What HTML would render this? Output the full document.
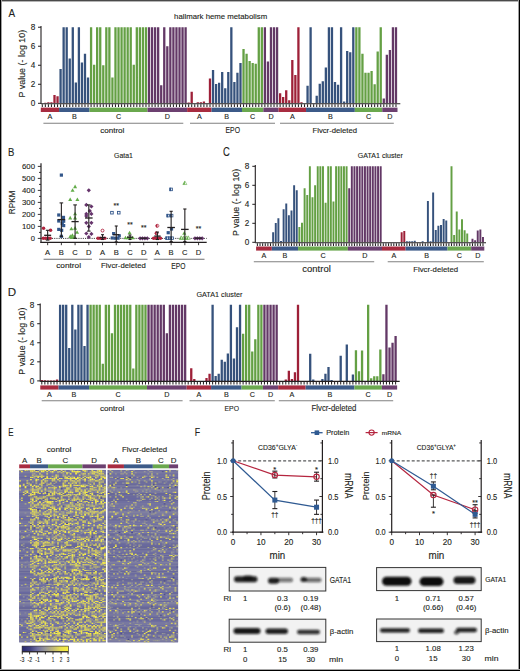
<!DOCTYPE html>
<html><head><meta charset="utf-8"><style>html,body{margin:0;padding:0;background:#fff;}svg{display:block;}</style></head><body><svg width="520" height="671" viewBox="0 0 520 671" font-family='"Liberation Sans", sans-serif'>
<style>text{stroke:#231f20;stroke-width:0.12px;paint-order:stroke}</style>
<rect x="0" y="0" width="520" height="671" fill="#ffffff"/>
<path fill="#9e2038" d="M44.2 103.3h2.3v-0.48h-2.3zM47.25 103.3h2.3v-0.95h-2.3zM50.3 103.3h2.3v-0.95h-2.3zM53.35 103.3h2.3v-8.27h-2.3zM56.39 103.3h2.3v-7.13h-2.3z"/>
<path fill="#36527c" d="M59.44 103.3h2.3v-34.24h-2.3zM62.49 103.3h2.3v-76.08h-2.3zM65.54 103.3h2.3v-76.08h-2.3zM68.59 103.3h2.3v-44.7h-2.3zM71.64 103.3h2.3v-76.08h-2.3zM74.69 103.3h2.3v-20.92h-2.3zM77.74 103.3h2.3v-76.08h-2.3zM80.79 103.3h2.3v-40.89h-2.3zM83.84 103.3h2.3v-49.45h-2.3zM86.88 103.3h2.3v-25.68h-2.3z"/>
<path fill="#64a044" d="M89.93 103.3h2.3v-76.08h-2.3zM92.98 103.3h2.3v-38.52h-2.3zM96.03 103.3h2.3v-76.08h-2.3zM99.08 103.3h2.3v-76.08h-2.3zM102.13 103.3h2.3v-38.04h-2.3zM105.18 103.3h2.3v-76.08h-2.3zM108.23 103.3h2.3v-76.08h-2.3zM111.28 103.3h2.3v-25.68h-2.3zM114.33 103.3h2.3v-76.08h-2.3zM117.37 103.3h2.3v-76.08h-2.3zM120.42 103.3h2.3v-76.08h-2.3zM123.47 103.3h2.3v-76.08h-2.3zM126.52 103.3h2.3v-76.08h-2.3zM129.57 103.3h2.3v-76.08h-2.3zM132.62 103.3h2.3v-38.52h-2.3zM135.67 103.3h2.3v-76.08h-2.3zM138.72 103.3h2.3v-76.08h-2.3zM141.77 103.3h2.3v-76.08h-2.3zM144.82 103.3h2.3v-76.08h-2.3z"/>
<path fill="#633866" d="M147.86 103.3h2.3v-76.08h-2.3zM150.91 103.3h2.3v-76.08h-2.3zM153.96 103.3h2.3v-76.08h-2.3zM157.01 103.3h2.3v-76.08h-2.3zM160.06 103.3h2.3v-18.07h-2.3zM163.11 103.3h2.3v-76.08h-2.3zM166.16 103.3h2.3v-57.06h-2.3zM169.21 103.3h2.3v-76.08h-2.3zM172.26 103.3h2.3v-76.08h-2.3zM175.31 103.3h2.3v-76.08h-2.3zM178.35 103.3h2.3v-76.08h-2.3zM181.4 103.3h2.3v-76.08h-2.3zM184.45 103.3h2.3v-76.08h-2.3z"/>
<path fill="#9e2038" d="M187.5 103.3h2.3v-0.76h-2.3zM190.55 103.3h2.3v-11.6h-2.3zM196.65 103.3h2.3v-0.95h-2.3zM199.7 103.3h2.3v-0.95h-2.3zM202.75 103.3h2.3v-1.71h-2.3zM208.84 103.3h2.3v-24.92h-2.3z"/>
<path fill="#36527c" d="M211.89 103.3h2.3v-33.19h-2.3zM214.94 103.3h2.3v-19.21h-2.3zM217.99 103.3h2.3v-20.45h-2.3zM221.04 103.3h2.3v-31.19h-2.3zM224.09 103.3h2.3v-14.93h-2.3zM227.14 103.3h2.3v-31.19h-2.3zM230.19 103.3h2.3v-76.08h-2.3zM233.24 103.3h2.3v-21.21h-2.3zM236.29 103.3h2.3v-30.43h-2.3zM239.34 103.3h2.3v-40.42h-2.3z"/>
<path fill="#64a044" d="M242.38 103.3h2.3v-54.21h-2.3zM245.43 103.3h2.3v-49.45h-2.3zM248.48 103.3h2.3v-42.41h-2.3zM251.53 103.3h2.3v-40.42h-2.3zM254.58 103.3h2.3v-39.47h-2.3zM257.63 103.3h2.3v-76.08h-2.3zM260.68 103.3h2.3v-76.08h-2.3z"/>
<path fill="#633866" d="M263.73 103.3h2.3v-76.08h-2.3zM266.78 103.3h2.3v-41.84h-2.3zM269.82 103.3h2.3v-76.08h-2.3zM272.87 103.3h2.3v-76.08h-2.3zM275.92 103.3h2.3v-76.08h-2.3z"/>
<path fill="#9e2038" d="M278.97 103.3h2.3v-9.99h-2.3zM282.02 103.3h2.3v-6.18h-2.3zM285.07 103.3h2.3v-13.03h-2.3zM288.12 103.3h2.3v-3.14h-2.3zM291.17 103.3h2.3v-43.27h-2.3zM294.22 103.3h2.3v-28.34h-2.3zM297.27 103.3h2.3v-76.08h-2.3zM300.32 103.3h2.3v-1.14h-2.3z"/>
<path fill="#36527c" d="M306.41 103.3h2.3v-17.5h-2.3zM309.46 103.3h2.3v-76.08h-2.3zM315.56 103.3h2.3v-7.61h-2.3zM318.61 103.3h2.3v-19.5h-2.3zM321.66 103.3h2.3v-22.06h-2.3zM324.71 103.3h2.3v-35.76h-2.3zM327.76 103.3h2.3v-76.08h-2.3zM330.81 103.3h2.3v-76.08h-2.3zM333.85 103.3h2.3v-21.21h-2.3zM336.9 103.3h2.3v-18.64h-2.3zM339.95 103.3h2.3v-76.08h-2.3zM343 103.3h2.3v-1.9h-2.3zM346.05 103.3h2.3v-52.3h-2.3zM349.1 103.3h2.3v-51.16h-2.3zM352.15 103.3h2.3v-76.08h-2.3z"/>
<path fill="#64a044" d="M355.2 103.3h2.3v-76.08h-2.3zM358.25 103.3h2.3v-76.08h-2.3zM361.3 103.3h2.3v-49.45h-2.3zM364.34 103.3h2.3v-30.43h-2.3zM367.39 103.3h2.3v-30.43h-2.3zM370.44 103.3h2.3v-32.33h-2.3zM373.49 103.3h2.3v-19.02h-2.3zM376.54 103.3h2.3v-51.83h-2.3zM379.59 103.3h2.3v-76.08h-2.3z"/>
<path fill="#633866" d="M382.64 103.3h2.3v-4.75h-2.3zM385.69 103.3h2.3v-48.5h-2.3zM388.74 103.3h2.3v-53.26h-2.3zM391.79 103.3h2.3v-76.08h-2.3zM394.83 103.3h2.3v-76.08h-2.3z"/>
<line x1="41" y1="26.02" x2="41" y2="103.8" stroke="#231f20" stroke-width="1.1"/>
<line x1="38" y1="103.3" x2="41" y2="103.3" stroke="#231f20" stroke-width="1"/>
<text x="35.2" y="106.2" font-size="8.2" text-anchor="end" fill="#231f20">0</text>
<line x1="38" y1="84.28" x2="41" y2="84.28" stroke="#231f20" stroke-width="1"/>
<text x="35.2" y="87.18" font-size="8.2" text-anchor="end" fill="#231f20">2</text>
<line x1="38" y1="65.26" x2="41" y2="65.26" stroke="#231f20" stroke-width="1"/>
<text x="35.2" y="68.16" font-size="8.2" text-anchor="end" fill="#231f20">4</text>
<line x1="38" y1="46.24" x2="41" y2="46.24" stroke="#231f20" stroke-width="1"/>
<text x="35.2" y="49.14" font-size="8.2" text-anchor="end" fill="#231f20">6</text>
<line x1="38" y1="27.22" x2="41" y2="27.22" stroke="#231f20" stroke-width="1"/>
<text x="35.2" y="30.12" font-size="8.2" text-anchor="end" fill="#231f20">8</text>
<line x1="41" y1="103.8" x2="400.3" y2="103.8" stroke="#231f20" stroke-width="1.1"/>
<path stroke="#231f20" stroke-width="1.05" d="M42.3 104.3v2.6M45.35 104.3v2.6M48.4 104.3v2.6M51.45 104.3v2.6M54.5 104.3v2.6M57.54 104.3v2.6M60.59 104.3v2.6M63.64 104.3v2.6M66.69 104.3v2.6M69.74 104.3v2.6M72.79 104.3v2.6M75.84 104.3v2.6M78.89 104.3v2.6M81.94 104.3v2.6M84.99 104.3v2.6M88.03 104.3v2.6M91.08 104.3v2.6M94.13 104.3v2.6M97.18 104.3v2.6M100.23 104.3v2.6M103.28 104.3v2.6M106.33 104.3v2.6M109.38 104.3v2.6M112.43 104.3v2.6M115.48 104.3v2.6M118.52 104.3v2.6M121.57 104.3v2.6M124.62 104.3v2.6M127.67 104.3v2.6M130.72 104.3v2.6M133.77 104.3v2.6M136.82 104.3v2.6M139.87 104.3v2.6M142.92 104.3v2.6M145.97 104.3v2.6M149.01 104.3v2.6M152.06 104.3v2.6M155.11 104.3v2.6M158.16 104.3v2.6M161.21 104.3v2.6M164.26 104.3v2.6M167.31 104.3v2.6M170.36 104.3v2.6M173.41 104.3v2.6M176.46 104.3v2.6M179.5 104.3v2.6M182.55 104.3v2.6M185.6 104.3v2.6M188.65 104.3v2.6M191.7 104.3v2.6M194.75 104.3v2.6M197.8 104.3v2.6M200.85 104.3v2.6M203.9 104.3v2.6M206.95 104.3v2.6M210 104.3v2.6M213.04 104.3v2.6M216.09 104.3v2.6M219.14 104.3v2.6M222.19 104.3v2.6M225.24 104.3v2.6M228.29 104.3v2.6M231.34 104.3v2.6M234.39 104.3v2.6M237.44 104.3v2.6M240.49 104.3v2.6M243.53 104.3v2.6M246.58 104.3v2.6M249.63 104.3v2.6M252.68 104.3v2.6M255.73 104.3v2.6M258.78 104.3v2.6M261.83 104.3v2.6M264.88 104.3v2.6M267.93 104.3v2.6M270.97 104.3v2.6M274.02 104.3v2.6M277.07 104.3v2.6M280.12 104.3v2.6M283.17 104.3v2.6M286.22 104.3v2.6M289.27 104.3v2.6M292.32 104.3v2.6M295.37 104.3v2.6M298.42 104.3v2.6M301.47 104.3v2.6M304.51 104.3v2.6M307.56 104.3v2.6M310.61 104.3v2.6M313.66 104.3v2.6M316.71 104.3v2.6M319.76 104.3v2.6M322.81 104.3v2.6M325.86 104.3v2.6M328.91 104.3v2.6M331.95 104.3v2.6M335 104.3v2.6M338.05 104.3v2.6M341.1 104.3v2.6M344.15 104.3v2.6M347.2 104.3v2.6M350.25 104.3v2.6M353.3 104.3v2.6M356.35 104.3v2.6M359.4 104.3v2.6M362.44 104.3v2.6M365.49 104.3v2.6M368.54 104.3v2.6M371.59 104.3v2.6M374.64 104.3v2.6M377.69 104.3v2.6M380.74 104.3v2.6M383.79 104.3v2.6M386.84 104.3v2.6M389.89 104.3v2.6M392.94 104.3v2.6M395.98 104.3v2.6"/>
<rect x="40.78" y="107.6" width="18.29" height="4.4" fill="#a82c40"/>
<text x="49.92" y="119.4" font-size="7.2" text-anchor="middle" fill="#231f20">A</text>
<rect x="59.07" y="107.6" width="30.49" height="4.4" fill="#3c5a88"/>
<text x="74.31" y="119.4" font-size="7.2" text-anchor="middle" fill="#231f20">B</text>
<rect x="89.56" y="107.6" width="57.93" height="4.4" fill="#6aa84e"/>
<text x="118.53" y="119.4" font-size="7.2" text-anchor="middle" fill="#231f20">C</text>
<rect x="147.49" y="107.6" width="39.64" height="4.4" fill="#6c4070"/>
<text x="167.31" y="119.4" font-size="7.2" text-anchor="middle" fill="#231f20">D</text>
<rect x="187.13" y="107.6" width="24.39" height="4.4" fill="#a82c40"/>
<text x="199.32" y="119.4" font-size="7.2" text-anchor="middle" fill="#231f20">A</text>
<rect x="211.52" y="107.6" width="30.49" height="4.4" fill="#3c5a88"/>
<text x="226.76" y="119.4" font-size="7.2" text-anchor="middle" fill="#231f20">B</text>
<rect x="242.01" y="107.6" width="21.34" height="4.4" fill="#6aa84e"/>
<text x="252.68" y="119.4" font-size="7.2" text-anchor="middle" fill="#231f20">C</text>
<rect x="263.35" y="107.6" width="15.24" height="4.4" fill="#6c4070"/>
<text x="270.98" y="119.4" font-size="7.2" text-anchor="middle" fill="#231f20">D</text>
<rect x="278.6" y="107.6" width="27.44" height="4.4" fill="#a82c40"/>
<text x="292.32" y="119.4" font-size="7.2" text-anchor="middle" fill="#231f20">A</text>
<rect x="306.04" y="107.6" width="48.78" height="4.4" fill="#3c5a88"/>
<text x="330.43" y="119.4" font-size="7.2" text-anchor="middle" fill="#231f20">B</text>
<rect x="354.82" y="107.6" width="27.44" height="4.4" fill="#6aa84e"/>
<text x="368.54" y="119.4" font-size="7.2" text-anchor="middle" fill="#231f20">C</text>
<rect x="382.26" y="107.6" width="15.24" height="4.4" fill="#6c4070"/>
<text x="389.89" y="119.4" font-size="7.2" text-anchor="middle" fill="#231f20">D</text>
<line x1="43.4" y1="123.2" x2="183.3" y2="123.2" stroke="#808080" stroke-width="1.1"/>
<text transform="translate(100.18,132.7) scale(1.133,1)" font-size="7.13" fill="#231f20">control</text>
<line x1="190" y1="123.2" x2="275" y2="123.2" stroke="#808080" stroke-width="1.1"/>
<text transform="translate(225.55,132.9) scale(0.832,1)" font-size="8.23" fill="#231f20">EPO</text>
<line x1="280" y1="123.2" x2="393.8" y2="123.2" stroke="#808080" stroke-width="1.1"/>
<text transform="translate(312.48,132.5) scale(1.126,1)" font-size="6.86" fill="#231f20">Flvcr-deleted</text>
<text transform="translate(25,97.51) rotate(-90) scale(0.903,1)" font-size="9.88" fill="#231f20">P value (- log 10)</text>
<text transform="translate(8.4,17.3) scale(0.854,1)" font-size="11.63" fill="#231f20">A</text>
<text transform="translate(174.05,18.6) scale(0.998,1)" font-size="7.82" fill="#231f20">hallmark heme metabolism</text>
<path fill="#36527c" d="M272.16 242.3h1.95v-10.07h-1.95zM274.79 242.3h1.95v-19.28h-1.95zM277.41 242.3h1.95v-23.94h-1.95zM280.03 242.3h1.95v-1.33h-1.95zM282.65 242.3h1.95v-33.06h-1.95zM285.28 242.3h1.95v-38.85h-1.95zM287.9 242.3h1.95v-27.07h-1.95zM290.52 242.3h1.95v-31.73h-1.95zM293.15 242.3h1.95v-57h-1.95zM295.77 242.3h1.95v-52.16h-1.95z"/>
<path fill="#64a044" d="M298.39 242.3h1.95v-15.3h-1.95zM301.02 242.3h1.95v-19.47h-1.95zM303.64 242.3h1.95v-54.15h-1.95zM306.26 242.3h1.95v-47.41h-1.95zM308.88 242.3h1.95v-76h-1.95zM311.51 242.3h1.95v-45.12h-1.95zM314.13 242.3h1.95v-57h-1.95zM316.75 242.3h1.95v-76h-1.95zM319.38 242.3h1.95v-76h-1.95zM322 242.3h1.95v-76h-1.95zM324.62 242.3h1.95v-39.43h-1.95zM327.25 242.3h1.95v-76h-1.95zM329.87 242.3h1.95v-76h-1.95zM332.49 242.3h1.95v-40.85h-1.95zM335.11 242.3h1.95v-76h-1.95zM337.74 242.3h1.95v-76h-1.95zM340.36 242.3h1.95v-76h-1.95zM342.98 242.3h1.95v-76h-1.95zM345.61 242.3h1.95v-76h-1.95z"/>
<path fill="#633866" d="M348.23 242.3h1.95v-54.15h-1.95zM350.85 242.3h1.95v-76h-1.95zM353.48 242.3h1.95v-76h-1.95zM356.1 242.3h1.95v-76h-1.95zM358.72 242.3h1.95v-76h-1.95zM361.34 242.3h1.95v-76h-1.95zM363.97 242.3h1.95v-76h-1.95zM366.59 242.3h1.95v-76h-1.95zM369.21 242.3h1.95v-76h-1.95zM371.84 242.3h1.95v-76h-1.95zM374.46 242.3h1.95v-76h-1.95zM377.08 242.3h1.95v-76h-1.95zM379.71 242.3h1.95v-76h-1.95z"/>
<path fill="#9e2038" d="M400.69 242.3h1.95v-10.07h-1.95zM403.31 242.3h1.95v-11.21h-1.95z"/>
<path fill="#36527c" d="M405.94 242.3h1.95v-0.95h-1.95zM408.56 242.3h1.95v-0.95h-1.95zM411.18 242.3h1.95v-0.95h-1.95zM413.8 242.3h1.95v-1.43h-1.95zM421.67 242.3h1.95v-0.95h-1.95zM426.92 242.3h1.95v-41.42h-1.95zM429.54 242.3h1.95v-1.14h-1.95zM432.17 242.3h1.95v-49.88h-1.95zM434.79 242.3h1.95v-12.35h-1.95zM437.41 242.3h1.95v-16.62h-1.95zM440.03 242.3h1.95v-17.39h-1.95zM442.66 242.3h1.95v-23.28h-1.95zM445.28 242.3h1.95v-21.85h-1.95z"/>
<path fill="#64a044" d="M450.53 242.3h1.95v-76h-1.95zM453.15 242.3h1.95v-7.32h-1.95zM455.77 242.3h1.95v-30.68h-1.95zM458.4 242.3h1.95v-12.92h-1.95zM461.02 242.3h1.95v-22.99h-1.95zM463.64 242.3h1.95v-12.06h-1.95zM466.26 242.3h1.95v-8.74h-1.95z"/>
<path fill="#633866" d="M471.51 242.3h1.95v-3.52h-1.95zM474.13 242.3h1.95v-2.09h-1.95zM476.76 242.3h1.95v-11.88h-1.95zM479.38 242.3h1.95v-12.92h-1.95zM482 242.3h1.95v-5.23h-1.95z"/>
<line x1="255.3" y1="165.1" x2="255.3" y2="242.8" stroke="#231f20" stroke-width="1.1"/>
<line x1="252.3" y1="242.3" x2="255.3" y2="242.3" stroke="#231f20" stroke-width="1"/>
<text x="249.4" y="245.2" font-size="8.2" text-anchor="end" fill="#231f20">0</text>
<line x1="252.3" y1="223.3" x2="255.3" y2="223.3" stroke="#231f20" stroke-width="1"/>
<text x="249.4" y="226.2" font-size="8.2" text-anchor="end" fill="#231f20">2</text>
<line x1="252.3" y1="204.3" x2="255.3" y2="204.3" stroke="#231f20" stroke-width="1"/>
<text x="249.4" y="207.2" font-size="8.2" text-anchor="end" fill="#231f20">4</text>
<line x1="252.3" y1="185.3" x2="255.3" y2="185.3" stroke="#231f20" stroke-width="1"/>
<text x="249.4" y="188.2" font-size="8.2" text-anchor="end" fill="#231f20">6</text>
<line x1="252.3" y1="166.3" x2="255.3" y2="166.3" stroke="#231f20" stroke-width="1"/>
<text x="249.4" y="169.2" font-size="8.2" text-anchor="end" fill="#231f20">8</text>
<line x1="255.3" y1="242.8" x2="486" y2="242.8" stroke="#231f20" stroke-width="1.1"/>
<path stroke="#231f20" stroke-width="1.05" d="M257.4 243.3v2.6M260.02 243.3v2.6M262.65 243.3v2.6M265.27 243.3v2.6M267.89 243.3v2.6M270.51 243.3v2.6M273.14 243.3v2.6M275.76 243.3v2.6M278.38 243.3v2.6M281.01 243.3v2.6M283.63 243.3v2.6M286.25 243.3v2.6M288.88 243.3v2.6M291.5 243.3v2.6M294.12 243.3v2.6M296.75 243.3v2.6M299.37 243.3v2.6M301.99 243.3v2.6M304.61 243.3v2.6M307.24 243.3v2.6M309.86 243.3v2.6M312.48 243.3v2.6M315.11 243.3v2.6M317.73 243.3v2.6M320.35 243.3v2.6M322.97 243.3v2.6M325.6 243.3v2.6M328.22 243.3v2.6M330.84 243.3v2.6M333.47 243.3v2.6M336.09 243.3v2.6M338.71 243.3v2.6M341.34 243.3v2.6M343.96 243.3v2.6M346.58 243.3v2.6M349.2 243.3v2.6M351.83 243.3v2.6M354.45 243.3v2.6M357.07 243.3v2.6M359.7 243.3v2.6M362.32 243.3v2.6M364.94 243.3v2.6M367.57 243.3v2.6M370.19 243.3v2.6M372.81 243.3v2.6M375.44 243.3v2.6M378.06 243.3v2.6M380.68 243.3v2.6M383.3 243.3v2.6M385.93 243.3v2.6M388.55 243.3v2.6M391.17 243.3v2.6M393.8 243.3v2.6M396.42 243.3v2.6M399.04 243.3v2.6M401.66 243.3v2.6M404.29 243.3v2.6M406.91 243.3v2.6M409.53 243.3v2.6M412.16 243.3v2.6M414.78 243.3v2.6M417.4 243.3v2.6M420.03 243.3v2.6M422.65 243.3v2.6M425.27 243.3v2.6M427.89 243.3v2.6M430.52 243.3v2.6M433.14 243.3v2.6M435.76 243.3v2.6M438.39 243.3v2.6M441.01 243.3v2.6M443.63 243.3v2.6M446.26 243.3v2.6M448.88 243.3v2.6M451.5 243.3v2.6M454.12 243.3v2.6M456.75 243.3v2.6M459.37 243.3v2.6M461.99 243.3v2.6M464.62 243.3v2.6M467.24 243.3v2.6M469.86 243.3v2.6M472.49 243.3v2.6M475.11 243.3v2.6M477.73 243.3v2.6M480.36 243.3v2.6M482.98 243.3v2.6"/>
<rect x="256.09" y="246.5" width="15.74" height="4.1" fill="#a82c40"/>
<text x="263.96" y="258.4" font-size="7.2" text-anchor="middle" fill="#231f20">A</text>
<rect x="271.83" y="246.5" width="26.23" height="4.1" fill="#3c5a88"/>
<text x="284.94" y="258.4" font-size="7.2" text-anchor="middle" fill="#231f20">B</text>
<rect x="298.06" y="246.5" width="49.84" height="4.1" fill="#6aa84e"/>
<text x="322.98" y="258.4" font-size="7.2" text-anchor="middle" fill="#231f20">C</text>
<rect x="347.89" y="246.5" width="34.1" height="4.1" fill="#6c4070"/>
<text x="364.94" y="258.4" font-size="7.2" text-anchor="middle" fill="#231f20">D</text>
<rect x="381.99" y="246.5" width="23.61" height="4.1" fill="#a82c40"/>
<text x="393.8" y="258.4" font-size="7.2" text-anchor="middle" fill="#231f20">A</text>
<rect x="405.6" y="246.5" width="41.97" height="4.1" fill="#3c5a88"/>
<text x="426.58" y="258.4" font-size="7.2" text-anchor="middle" fill="#231f20">B</text>
<rect x="447.57" y="246.5" width="23.61" height="4.1" fill="#6aa84e"/>
<text x="459.37" y="258.4" font-size="7.2" text-anchor="middle" fill="#231f20">C</text>
<rect x="471.17" y="246.5" width="13.12" height="4.1" fill="#6c4070"/>
<text x="477.73" y="258.4" font-size="7.2" text-anchor="middle" fill="#231f20">D</text>
<line x1="253.8" y1="261.8" x2="374.2" y2="261.8" stroke="#808080" stroke-width="1.1"/>
<text transform="translate(302.32,271.8) scale(1.049,1)" font-size="9.05" fill="#231f20">control</text>
<line x1="387.7" y1="261.8" x2="483.8" y2="261.8" stroke="#808080" stroke-width="1.1"/>
<text transform="translate(413.18,272) scale(0.979,1)" font-size="7.96" fill="#231f20">Flvcr-deleted</text>
<text transform="translate(239,236.11) rotate(-90) scale(0.898,1)" font-size="9.88" fill="#231f20">P value (- log 10)</text>
<text transform="translate(222.93,156.1) scale(0.793,1)" font-size="11.92" fill="#231f20">C</text>
<text transform="translate(357.75,158) scale(0.888,1)" font-size="7.99" fill="#231f20">GATA1 cluster</text>
<path fill="#9e2038" d="M40.65 380.9h2.3v-0.95h-2.3zM43.7 380.9h2.3v-0.67h-2.3zM46.75 380.9h2.3v-0.29h-2.3zM49.8 380.9h2.3v-0.29h-2.3zM52.85 380.9h2.3v-0.29h-2.3zM55.9 380.9h2.3v-1.43h-2.3z"/>
<path fill="#36527c" d="M58.95 380.9h2.3v-76.24h-2.3zM62 380.9h2.3v-76.24h-2.3zM65.05 380.9h2.3v-76.24h-2.3zM68.1 380.9h2.3v-32.78h-2.3zM71.15 380.9h2.3v-76.24h-2.3zM74.2 380.9h2.3v-51.46h-2.3zM77.25 380.9h2.3v-76.24h-2.3zM80.3 380.9h2.3v-76.24h-2.3zM83.35 380.9h2.3v-34.78h-2.3zM86.4 380.9h2.3v-76.24h-2.3z"/>
<path fill="#64a044" d="M89.45 380.9h2.3v-76.24h-2.3zM92.5 380.9h2.3v-76.24h-2.3zM95.55 380.9h2.3v-76.24h-2.3zM98.6 380.9h2.3v-76.24h-2.3zM101.65 380.9h2.3v-17.15h-2.3zM104.7 380.9h2.3v-76.24h-2.3zM107.75 380.9h2.3v-76.24h-2.3zM110.8 380.9h2.3v-47.65h-2.3zM113.85 380.9h2.3v-76.24h-2.3zM116.9 380.9h2.3v-76.24h-2.3zM119.95 380.9h2.3v-76.24h-2.3zM123 380.9h2.3v-76.24h-2.3zM126.05 380.9h2.3v-76.24h-2.3zM129.1 380.9h2.3v-76.24h-2.3zM132.15 380.9h2.3v-12.39h-2.3zM135.2 380.9h2.3v-76.24h-2.3zM138.25 380.9h2.3v-76.24h-2.3zM141.3 380.9h2.3v-76.24h-2.3zM144.35 380.9h2.3v-76.24h-2.3z"/>
<path fill="#633866" d="M147.4 380.9h2.3v-76.24h-2.3zM150.45 380.9h2.3v-76.24h-2.3zM153.5 380.9h2.3v-76.24h-2.3zM156.55 380.9h2.3v-76.24h-2.3zM159.6 380.9h2.3v-76.24h-2.3zM162.65 380.9h2.3v-76.24h-2.3zM165.7 380.9h2.3v-47.65h-2.3zM168.75 380.9h2.3v-76.24h-2.3zM171.8 380.9h2.3v-76.24h-2.3zM174.85 380.9h2.3v-76.24h-2.3zM177.9 380.9h2.3v-76.24h-2.3zM180.95 380.9h2.3v-76.24h-2.3zM184 380.9h2.3v-76.24h-2.3z"/>
<path fill="#9e2038" d="M190.1 380.9h2.3v-12.58h-2.3zM193.15 380.9h2.3v-1.81h-2.3zM205.35 380.9h2.3v-2.86h-2.3zM208.4 380.9h2.3v-7.15h-2.3z"/>
<path fill="#36527c" d="M211.45 380.9h2.3v-76.24h-2.3zM214.5 380.9h2.3v-4.86h-2.3zM217.55 380.9h2.3v-7.24h-2.3zM220.6 380.9h2.3v-21.16h-2.3zM223.65 380.9h2.3v-19.16h-2.3zM226.7 380.9h2.3v-27.35h-2.3zM229.75 380.9h2.3v-76.24h-2.3zM232.8 380.9h2.3v-22.3h-2.3zM235.85 380.9h2.3v-53.75h-2.3zM238.9 380.9h2.3v-76.24h-2.3z"/>
<path fill="#64a044" d="M241.95 380.9h2.3v-47.17h-2.3zM245 380.9h2.3v-76.24h-2.3zM248.05 380.9h2.3v-76.24h-2.3zM251.1 380.9h2.3v-29.35h-2.3zM254.15 380.9h2.3v-41.55h-2.3zM257.2 380.9h2.3v-76.24h-2.3zM260.25 380.9h2.3v-76.24h-2.3z"/>
<path fill="#633866" d="M263.3 380.9h2.3v-76.24h-2.3zM266.35 380.9h2.3v-76.24h-2.3zM269.4 380.9h2.3v-76.24h-2.3zM272.45 380.9h2.3v-76.24h-2.3zM275.5 380.9h2.3v-76.24h-2.3z"/>
<path fill="#9e2038" d="M284.65 380.9h2.3v-1.43h-2.3zM287.7 380.9h2.3v-10.2h-2.3zM290.75 380.9h2.3v-1.91h-2.3zM293.8 380.9h2.3v-8.58h-2.3zM296.85 380.9h2.3v-76.24h-2.3z"/>
<path fill="#36527c" d="M309.05 380.9h2.3v-27.07h-2.3zM312.1 380.9h2.3v-1.43h-2.3zM321.25 380.9h2.3v-1.81h-2.3zM324.3 380.9h2.3v-7.24h-2.3zM327.35 380.9h2.3v-13.91h-2.3zM330.4 380.9h2.3v-0.95h-2.3zM339.55 380.9h2.3v-25.16h-2.3zM345.65 380.9h2.3v-36.31h-2.3zM351.75 380.9h2.3v-6.48h-2.3z"/>
<path fill="#64a044" d="M354.8 380.9h2.3v-30.69h-2.3zM357.85 380.9h2.3v-9.53h-2.3zM360.9 380.9h2.3v-30.31h-2.3zM367 380.9h2.3v-76.24h-2.3zM370.05 380.9h2.3v-2.76h-2.3zM373.1 380.9h2.3v-4.67h-2.3zM376.15 380.9h2.3v-4.67h-2.3zM379.2 380.9h2.3v-31.45h-2.3z"/>
<path fill="#633866" d="M382.25 380.9h2.3v-6.58h-2.3zM385.3 380.9h2.3v-76.24h-2.3zM388.35 380.9h2.3v-33.35h-2.3zM391.4 380.9h2.3v-38.12h-2.3zM394.45 380.9h2.3v-44.79h-2.3z"/>
<line x1="40.2" y1="303.46" x2="40.2" y2="381.4" stroke="#231f20" stroke-width="1.1"/>
<line x1="37.2" y1="380.9" x2="40.2" y2="380.9" stroke="#231f20" stroke-width="1"/>
<text x="34.2" y="383.8" font-size="8.2" text-anchor="end" fill="#231f20">0</text>
<line x1="37.2" y1="361.84" x2="40.2" y2="361.84" stroke="#231f20" stroke-width="1"/>
<text x="34.2" y="364.74" font-size="8.2" text-anchor="end" fill="#231f20">2</text>
<line x1="37.2" y1="342.78" x2="40.2" y2="342.78" stroke="#231f20" stroke-width="1"/>
<text x="34.2" y="345.68" font-size="8.2" text-anchor="end" fill="#231f20">4</text>
<line x1="37.2" y1="323.72" x2="40.2" y2="323.72" stroke="#231f20" stroke-width="1"/>
<text x="34.2" y="326.62" font-size="8.2" text-anchor="end" fill="#231f20">6</text>
<line x1="37.2" y1="304.66" x2="40.2" y2="304.66" stroke="#231f20" stroke-width="1"/>
<text x="34.2" y="307.56" font-size="8.2" text-anchor="end" fill="#231f20">8</text>
<line x1="40.2" y1="381.4" x2="399.7" y2="381.4" stroke="#231f20" stroke-width="1.1"/>
<path stroke="#231f20" stroke-width="1.05" d="M41.8 381.9v2.6M44.85 381.9v2.6M47.9 381.9v2.6M50.95 381.9v2.6M54 381.9v2.6M57.05 381.9v2.6M60.1 381.9v2.6M63.15 381.9v2.6M66.2 381.9v2.6M69.25 381.9v2.6M72.3 381.9v2.6M75.35 381.9v2.6M78.4 381.9v2.6M81.45 381.9v2.6M84.5 381.9v2.6M87.55 381.9v2.6M90.6 381.9v2.6M93.65 381.9v2.6M96.7 381.9v2.6M99.75 381.9v2.6M102.8 381.9v2.6M105.85 381.9v2.6M108.9 381.9v2.6M111.95 381.9v2.6M115 381.9v2.6M118.05 381.9v2.6M121.1 381.9v2.6M124.15 381.9v2.6M127.2 381.9v2.6M130.25 381.9v2.6M133.3 381.9v2.6M136.35 381.9v2.6M139.4 381.9v2.6M142.45 381.9v2.6M145.5 381.9v2.6M148.55 381.9v2.6M151.6 381.9v2.6M154.65 381.9v2.6M157.7 381.9v2.6M160.75 381.9v2.6M163.8 381.9v2.6M166.85 381.9v2.6M169.9 381.9v2.6M172.95 381.9v2.6M176 381.9v2.6M179.05 381.9v2.6M182.1 381.9v2.6M185.15 381.9v2.6M188.2 381.9v2.6M191.25 381.9v2.6M194.3 381.9v2.6M197.35 381.9v2.6M200.4 381.9v2.6M203.45 381.9v2.6M206.5 381.9v2.6M209.55 381.9v2.6M212.6 381.9v2.6M215.65 381.9v2.6M218.7 381.9v2.6M221.75 381.9v2.6M224.8 381.9v2.6M227.85 381.9v2.6M230.9 381.9v2.6M233.95 381.9v2.6M237 381.9v2.6M240.05 381.9v2.6M243.1 381.9v2.6M246.15 381.9v2.6M249.2 381.9v2.6M252.25 381.9v2.6M255.3 381.9v2.6M258.35 381.9v2.6M261.4 381.9v2.6M264.45 381.9v2.6M267.5 381.9v2.6M270.55 381.9v2.6M273.6 381.9v2.6M276.65 381.9v2.6M279.7 381.9v2.6M282.75 381.9v2.6M285.8 381.9v2.6M288.85 381.9v2.6M291.9 381.9v2.6M294.95 381.9v2.6M298 381.9v2.6M301.05 381.9v2.6M304.1 381.9v2.6M307.15 381.9v2.6M310.2 381.9v2.6M313.25 381.9v2.6M316.3 381.9v2.6M319.35 381.9v2.6M322.4 381.9v2.6M325.45 381.9v2.6M328.5 381.9v2.6M331.55 381.9v2.6M334.6 381.9v2.6M337.65 381.9v2.6M340.7 381.9v2.6M343.75 381.9v2.6M346.8 381.9v2.6M349.85 381.9v2.6M352.9 381.9v2.6M355.95 381.9v2.6M359 381.9v2.6M362.05 381.9v2.6M365.1 381.9v2.6M368.15 381.9v2.6M371.2 381.9v2.6M374.25 381.9v2.6M377.3 381.9v2.6M380.35 381.9v2.6M383.4 381.9v2.6M386.45 381.9v2.6M389.5 381.9v2.6M392.55 381.9v2.6M395.6 381.9v2.6"/>
<rect x="40.27" y="385.4" width="18.3" height="4.2" fill="#a82c40"/>
<text x="49.42" y="397" font-size="7.2" text-anchor="middle" fill="#231f20">A</text>
<rect x="58.57" y="385.4" width="30.5" height="4.2" fill="#3c5a88"/>
<text x="73.83" y="397" font-size="7.2" text-anchor="middle" fill="#231f20">B</text>
<rect x="89.07" y="385.4" width="57.95" height="4.2" fill="#6aa84e"/>
<text x="118.05" y="397" font-size="7.2" text-anchor="middle" fill="#231f20">C</text>
<rect x="147.03" y="385.4" width="39.65" height="4.2" fill="#6c4070"/>
<text x="166.85" y="397" font-size="7.2" text-anchor="middle" fill="#231f20">D</text>
<rect x="186.67" y="385.4" width="24.4" height="4.2" fill="#a82c40"/>
<text x="198.88" y="397" font-size="7.2" text-anchor="middle" fill="#231f20">A</text>
<rect x="211.07" y="385.4" width="30.5" height="4.2" fill="#3c5a88"/>
<text x="226.32" y="397" font-size="7.2" text-anchor="middle" fill="#231f20">B</text>
<rect x="241.57" y="385.4" width="21.35" height="4.2" fill="#6aa84e"/>
<text x="252.25" y="397" font-size="7.2" text-anchor="middle" fill="#231f20">C</text>
<rect x="262.93" y="385.4" width="15.25" height="4.2" fill="#6c4070"/>
<text x="270.55" y="397" font-size="7.2" text-anchor="middle" fill="#231f20">D</text>
<rect x="278.18" y="385.4" width="27.45" height="4.2" fill="#a82c40"/>
<text x="291.9" y="397" font-size="7.2" text-anchor="middle" fill="#231f20">A</text>
<rect x="305.62" y="385.4" width="48.8" height="4.2" fill="#3c5a88"/>
<text x="330.02" y="397" font-size="7.2" text-anchor="middle" fill="#231f20">B</text>
<rect x="354.43" y="385.4" width="27.45" height="4.2" fill="#6aa84e"/>
<text x="368.15" y="397" font-size="7.2" text-anchor="middle" fill="#231f20">C</text>
<rect x="381.88" y="385.4" width="15.25" height="4.2" fill="#6c4070"/>
<text x="389.5" y="397" font-size="7.2" text-anchor="middle" fill="#231f20">D</text>
<line x1="41.7" y1="400.7" x2="182.6" y2="400.7" stroke="#808080" stroke-width="1.1"/>
<text transform="translate(99.97,410.7) scale(1.121,1)" font-size="7.27" fill="#231f20">control</text>
<line x1="189.5" y1="400.7" x2="274.8" y2="400.7" stroke="#808080" stroke-width="1.1"/>
<text transform="translate(224.55,410.8) scale(0.847,1)" font-size="8.09" fill="#231f20">EPO</text>
<line x1="278.8" y1="400.7" x2="393.2" y2="400.7" stroke="#808080" stroke-width="1.1"/>
<text transform="translate(311.58,410.8) scale(0.914,1)" font-size="8.50" fill="#231f20">Flvcr-deleted</text>
<text transform="translate(24.5,374.81) rotate(-90) scale(0.897,1)" font-size="9.88" fill="#231f20">P value (- log 10)</text>
<text transform="translate(7.77,295.9) scale(1.023,1)" font-size="11.34" fill="#231f20">D</text>
<text transform="translate(196.44,296.7) scale(0.940,1)" font-size="7.70" fill="#231f20">GATA1 cluster</text>
<line x1="41" y1="163.3" x2="41" y2="243" stroke="#231f20" stroke-width="1.2"/>
<line x1="40.4" y1="242.4" x2="206.7" y2="242.4" stroke="#231f20" stroke-width="1.3"/>
<line x1="37.8" y1="238.4" x2="41" y2="238.4" stroke="#231f20" stroke-width="0.9"/>
<text x="35" y="241.3" font-size="8" text-anchor="end" textLength="4.2" lengthAdjust="spacingAndGlyphs" fill="#231f20">0</text>
<line x1="39" y1="232.4" x2="41" y2="232.4" stroke="#231f20" stroke-width="0.9"/>
<line x1="37.8" y1="226.4" x2="41" y2="226.4" stroke="#231f20" stroke-width="0.9"/>
<text x="35" y="229.3" font-size="8" text-anchor="end" textLength="13" lengthAdjust="spacingAndGlyphs" fill="#231f20">100</text>
<line x1="39" y1="220.4" x2="41" y2="220.4" stroke="#231f20" stroke-width="0.9"/>
<line x1="37.8" y1="214.4" x2="41" y2="214.4" stroke="#231f20" stroke-width="0.9"/>
<text x="35" y="217.3" font-size="8" text-anchor="end" textLength="13" lengthAdjust="spacingAndGlyphs" fill="#231f20">200</text>
<line x1="39" y1="208.4" x2="41" y2="208.4" stroke="#231f20" stroke-width="0.9"/>
<line x1="37.8" y1="202.4" x2="41" y2="202.4" stroke="#231f20" stroke-width="0.9"/>
<text x="35" y="205.3" font-size="8" text-anchor="end" textLength="13" lengthAdjust="spacingAndGlyphs" fill="#231f20">300</text>
<line x1="39" y1="196.4" x2="41" y2="196.4" stroke="#231f20" stroke-width="0.9"/>
<line x1="37.8" y1="190.4" x2="41" y2="190.4" stroke="#231f20" stroke-width="0.9"/>
<text x="35" y="193.3" font-size="8" text-anchor="end" textLength="13" lengthAdjust="spacingAndGlyphs" fill="#231f20">400</text>
<line x1="39" y1="184.4" x2="41" y2="184.4" stroke="#231f20" stroke-width="0.9"/>
<line x1="37.8" y1="178.4" x2="41" y2="178.4" stroke="#231f20" stroke-width="0.9"/>
<text x="35" y="181.3" font-size="8" text-anchor="end" textLength="13" lengthAdjust="spacingAndGlyphs" fill="#231f20">500</text>
<line x1="39" y1="172.4" x2="41" y2="172.4" stroke="#231f20" stroke-width="0.9"/>
<line x1="37.8" y1="166.4" x2="41" y2="166.4" stroke="#231f20" stroke-width="0.9"/>
<text x="35" y="169.3" font-size="8" text-anchor="end" textLength="13" lengthAdjust="spacingAndGlyphs" fill="#231f20">600</text>
<line x1="41" y1="238.4" x2="206.7" y2="238.4" stroke="#231f20" stroke-width="0.9" stroke-dasharray="1.1 1.1"/>
<line x1="47.65" y1="242.4" x2="47.65" y2="245.2" stroke="#231f20" stroke-width="0.9"/>
<line x1="61.37" y1="242.4" x2="61.37" y2="245.2" stroke="#231f20" stroke-width="0.9"/>
<line x1="75.09" y1="242.4" x2="75.09" y2="245.2" stroke="#231f20" stroke-width="0.9"/>
<line x1="88.81" y1="242.4" x2="88.81" y2="245.2" stroke="#231f20" stroke-width="0.9"/>
<line x1="102.53" y1="242.4" x2="102.53" y2="245.2" stroke="#231f20" stroke-width="0.9"/>
<line x1="116.25" y1="242.4" x2="116.25" y2="245.2" stroke="#231f20" stroke-width="0.9"/>
<line x1="129.97" y1="242.4" x2="129.97" y2="245.2" stroke="#231f20" stroke-width="0.9"/>
<line x1="143.69" y1="242.4" x2="143.69" y2="245.2" stroke="#231f20" stroke-width="0.9"/>
<line x1="157.41" y1="242.4" x2="157.41" y2="245.2" stroke="#231f20" stroke-width="0.9"/>
<line x1="171.13" y1="242.4" x2="171.13" y2="245.2" stroke="#231f20" stroke-width="0.9"/>
<line x1="184.85" y1="242.4" x2="184.85" y2="245.2" stroke="#231f20" stroke-width="0.9"/>
<line x1="198.57" y1="242.4" x2="198.57" y2="245.2" stroke="#231f20" stroke-width="0.9"/>
<text x="47.65" y="255" font-size="7.6" text-anchor="middle" fill="#231f20">A</text>
<text x="61.37" y="255" font-size="7.6" text-anchor="middle" fill="#231f20">B</text>
<text x="75.09" y="255" font-size="7.6" text-anchor="middle" fill="#231f20">C</text>
<text x="88.81" y="255" font-size="7.6" text-anchor="middle" fill="#231f20">D</text>
<text x="102.53" y="255" font-size="7.6" text-anchor="middle" fill="#231f20">A</text>
<text x="116.25" y="255" font-size="7.6" text-anchor="middle" fill="#231f20">B</text>
<text x="129.97" y="255" font-size="7.6" text-anchor="middle" fill="#231f20">C</text>
<text x="143.69" y="255" font-size="7.6" text-anchor="middle" fill="#231f20">D</text>
<text x="157.41" y="255" font-size="7.6" text-anchor="middle" fill="#231f20">A</text>
<text x="171.13" y="255" font-size="7.6" text-anchor="middle" fill="#231f20">B</text>
<text x="184.85" y="255" font-size="7.6" text-anchor="middle" fill="#231f20">C</text>
<text x="198.57" y="255" font-size="7.6" text-anchor="middle" fill="#231f20">D</text>
<line x1="43.6" y1="259.2" x2="92" y2="259.2" stroke="#6d6e71" stroke-width="1.1"/>
<line x1="99" y1="259.2" x2="147.5" y2="259.2" stroke="#6d6e71" stroke-width="1.1"/>
<line x1="153.7" y1="259.2" x2="204.5" y2="259.2" stroke="#6d6e71" stroke-width="1.1"/>
<text transform="translate(56.17,268.3) scale(1.233,1)" font-size="6.72" fill="#231f20">control</text>
<text transform="translate(101.08,268.4) scale(1.064,1)" font-size="7.27" fill="#231f20">Flvcr-deleted</text>
<text transform="translate(171.26,268.8) scale(0.795,1)" font-size="8.43" fill="#231f20">EPO</text>
<text transform="translate(15.4,202.4) rotate(-90)" font-size="8.8" text-anchor="middle" textLength="23.6" lengthAdjust="spacingAndGlyphs" fill="#231f20">RPKM</text>
<text transform="translate(114.06,157.5) scale(0.911,1)" font-size="7.56" fill="#231f20">Gata1</text>
<text transform="translate(7.94,155.9) scale(0.841,1)" font-size="11.34" fill="#231f20">B</text>
<circle cx="43.55" cy="228.2" r="1.75" fill="#b0243e"/>
<circle cx="50.55" cy="230.3" r="1.75" fill="#b0243e"/>
<circle cx="43.35" cy="238.3" r="1.75" fill="#b0243e"/>
<circle cx="45.65" cy="238.3" r="1.75" fill="#b0243e"/>
<circle cx="47.95" cy="238.3" r="1.75" fill="#b0243e"/>
<circle cx="50.15" cy="238.3" r="1.75" fill="#b0243e"/>
<line x1="47.65" y1="230.3" x2="47.65" y2="240.1" stroke="#231f20" stroke-width="1.1"/>
<line x1="45.85" y1="230.3" x2="49.45" y2="230.3" stroke="#231f20" stroke-width="1.1"/>
<line x1="45.85" y1="240.1" x2="49.45" y2="240.1" stroke="#231f20" stroke-width="1.1"/>
<line x1="44.15" y1="235.3" x2="51.15" y2="235.3" stroke="#231f20" stroke-width="1.3"/>
<rect x="59.77" y="173.5" width="3.2" height="3.2" fill="#32568a"/>
<rect x="57.17" y="213.4" width="3.2" height="3.2" fill="#32568a"/>
<rect x="61.87" y="215.8" width="3.2" height="3.2" fill="#32568a"/>
<rect x="57.17" y="219.4" width="3.2" height="3.2" fill="#32568a"/>
<rect x="62.07" y="219.6" width="3.2" height="3.2" fill="#32568a"/>
<rect x="60.67" y="222" width="3.2" height="3.2" fill="#32568a"/>
<rect x="62.07" y="224" width="3.2" height="3.2" fill="#32568a"/>
<rect x="57.17" y="227.8" width="3.2" height="3.2" fill="#32568a"/>
<rect x="60.07" y="228.7" width="3.2" height="3.2" fill="#32568a"/>
<rect x="59.77" y="234.7" width="3.2" height="3.2" fill="#32568a"/>
<line x1="61.37" y1="202.9" x2="61.37" y2="236.4" stroke="#231f20" stroke-width="1.1"/>
<line x1="59.57" y1="202.9" x2="63.17" y2="202.9" stroke="#231f20" stroke-width="1.1"/>
<line x1="59.57" y1="236.4" x2="63.17" y2="236.4" stroke="#231f20" stroke-width="1.1"/>
<line x1="57.57" y1="219.6" x2="65.17" y2="219.6" stroke="#231f20" stroke-width="1.3"/>
<path d="M75.09 184.54L77.09 188.14H73.09z" fill="#62ac48"/>
<path d="M72.59 188.14L74.59 191.74H70.59z" fill="#62ac48"/>
<path d="M70.19 197.44L72.19 201.04H68.19z" fill="#62ac48"/>
<path d="M77.39 197.44L79.39 201.04H75.39z" fill="#62ac48"/>
<path d="M75.09 211.74L77.09 215.34H73.09z" fill="#62ac48"/>
<path d="M70.19 215.84L72.19 219.44H68.19z" fill="#62ac48"/>
<path d="M75.09 215.84L77.09 219.44H73.09z" fill="#62ac48"/>
<path d="M71.39 226.64L73.39 230.24H69.39z" fill="#62ac48"/>
<path d="M75.09 226.04L77.09 229.64H73.09z" fill="#62ac48"/>
<path d="M77.09 230.14L79.09 233.74H75.09z" fill="#62ac48"/>
<path d="M72.39 233.14L74.39 236.74H70.39z" fill="#62ac48"/>
<path d="M74.39 234.84L76.39 238.44H72.39z" fill="#62ac48"/>
<path d="M71.89 235.44L73.89 239.04H69.89z" fill="#62ac48"/>
<path d="M70.29 234.34L72.29 237.94H68.29z" fill="#62ac48"/>
<line x1="75.09" y1="204.9" x2="75.09" y2="238.3" stroke="#231f20" stroke-width="1.1"/>
<line x1="73.29" y1="204.9" x2="76.89" y2="204.9" stroke="#231f20" stroke-width="1.1"/>
<line x1="73.29" y1="238.3" x2="76.89" y2="238.3" stroke="#231f20" stroke-width="1.1"/>
<line x1="71.49" y1="221.6" x2="78.69" y2="221.6" stroke="#231f20" stroke-width="1.3"/>
<path d="M88.81 188.2L90.91 190.3L88.81 192.4L86.71 190.3z" fill="#66346c"/>
<path d="M86.31 202.8L88.41 204.9L86.31 207L84.21 204.9z" fill="#66346c"/>
<path d="M91.41 204.4L93.51 206.5L91.41 208.6L89.31 206.5z" fill="#66346c"/>
<path d="M89.81 208.8L91.91 210.9L89.81 213L87.71 210.9z" fill="#66346c"/>
<path d="M86.31 211.8L88.41 213.9L86.31 216L84.21 213.9z" fill="#66346c"/>
<path d="M91.41 211.8L93.51 213.9L91.41 216L89.31 213.9z" fill="#66346c"/>
<path d="M86.31 213.8L88.41 215.9L86.31 218L84.21 215.9z" fill="#66346c"/>
<path d="M86.31 220.7L88.41 222.8L86.31 224.9L84.21 222.8z" fill="#66346c"/>
<path d="M91.41 220.7L93.51 222.8L91.41 224.9L89.31 222.8z" fill="#66346c"/>
<path d="M88.81 224.3L90.91 226.4L88.81 228.5L86.71 226.4z" fill="#66346c"/>
<path d="M86.31 231.4L88.41 233.5L86.31 235.6L84.21 233.5z" fill="#66346c"/>
<path d="M91.41 231.8L93.51 233.9L91.41 236L89.31 233.9z" fill="#66346c"/>
<path d="M88.81 235L90.91 237.1L88.81 239.2L86.71 237.1z" fill="#66346c"/>
<line x1="88.81" y1="204.9" x2="88.81" y2="231.1" stroke="#231f20" stroke-width="1.1"/>
<line x1="87.01" y1="204.9" x2="90.61" y2="204.9" stroke="#231f20" stroke-width="1.1"/>
<line x1="87.01" y1="231.1" x2="90.61" y2="231.1" stroke="#231f20" stroke-width="1.1"/>
<line x1="85.01" y1="218" x2="92.61" y2="218" stroke="#231f20" stroke-width="1.3"/>
<circle cx="102.53" cy="230.6" r="1.45" fill="#fff" stroke="#b0243e" stroke-width="0.9"/>
<circle cx="98.03" cy="238.2" r="1.75" fill="#b0243e"/>
<circle cx="100.23" cy="238.2" r="1.75" fill="#b0243e"/>
<circle cx="102.53" cy="238.2" r="1.75" fill="#b0243e"/>
<circle cx="104.83" cy="238.2" r="1.75" fill="#b0243e"/>
<line x1="102.53" y1="234.7" x2="102.53" y2="239.5" stroke="#231f20" stroke-width="1.1"/>
<line x1="101.03" y1="234.7" x2="104.03" y2="234.7" stroke="#231f20" stroke-width="1.1"/>
<line x1="101.03" y1="239.5" x2="104.03" y2="239.5" stroke="#231f20" stroke-width="1.1"/>
<line x1="99.53" y1="237.6" x2="105.53" y2="237.6" stroke="#231f20" stroke-width="1.3"/>
<rect x="110.65" y="211.4" width="2.6" height="2.6" fill="#fff" stroke="#32568a" stroke-width="0.9"/>
<rect x="117.45" y="211.4" width="2.6" height="2.6" fill="#fff" stroke="#32568a" stroke-width="0.9"/>
<text x="116.25" y="207.5" font-size="7" text-anchor="middle" fill="#231f20">**</text>
<rect x="112.05" y="232" width="3.2" height="3.2" fill="#32568a"/>
<rect x="110.65" y="236.4" width="3.2" height="3.2" fill="#32568a"/>
<rect x="113.65" y="236.6" width="3.2" height="3.2" fill="#32568a"/>
<rect x="116.45" y="236.6" width="3.2" height="3.2" fill="#32568a"/>
<rect x="117.65" y="234.2" width="3.2" height="3.2" fill="#32568a"/>
<line x1="116.25" y1="226" x2="116.25" y2="241.8" stroke="#231f20" stroke-width="1.1"/>
<line x1="114.75" y1="226" x2="117.75" y2="226" stroke="#231f20" stroke-width="1.1"/>
<line x1="114.75" y1="241.8" x2="117.75" y2="241.8" stroke="#231f20" stroke-width="1.1"/>
<line x1="113.05" y1="234.7" x2="119.45" y2="234.7" stroke="#231f20" stroke-width="1.3"/>
<text x="129.97" y="227.1" font-size="7" text-anchor="middle" fill="#231f20">**</text>
<path d="M129.57 230.64L131.57 234.24H127.57z" fill="#62ac48"/>
<path d="M125.47 235.74L127.47 239.34H123.47z" fill="#62ac48"/>
<path d="M127.97 235.74L129.97 239.34H125.97z" fill="#62ac48"/>
<path d="M130.47 235.74L132.47 239.34H128.47z" fill="#62ac48"/>
<path d="M132.77 235.74L134.77 239.34H130.77z" fill="#62ac48"/>
<line x1="129.97" y1="235" x2="129.97" y2="239.5" stroke="#231f20" stroke-width="1.1"/>
<line x1="128.47" y1="235" x2="131.47" y2="235" stroke="#231f20" stroke-width="1.1"/>
<line x1="128.47" y1="239.5" x2="131.47" y2="239.5" stroke="#231f20" stroke-width="1.1"/>
<line x1="126.97" y1="237.2" x2="132.97" y2="237.2" stroke="#231f20" stroke-width="1.3"/>
<text x="143.69" y="229.6" font-size="7" text-anchor="middle" fill="#231f20">**</text>
<path d="M140.09 236.2L142.19 238.3L140.09 240.4L137.99 238.3z" fill="#66346c"/>
<path d="M142.49 236.2L144.59 238.3L142.49 240.4L140.39 238.3z" fill="#66346c"/>
<path d="M144.89 236.2L146.99 238.3L144.89 240.4L142.79 238.3z" fill="#66346c"/>
<path d="M147.29 236.2L149.39 238.3L147.29 240.4L145.19 238.3z" fill="#66346c"/>
<line x1="140.19" y1="238.2" x2="147.19" y2="238.2" stroke="#231f20" stroke-width="1.2"/>
<circle cx="157.41" cy="225.8" r="1.5" fill="#fff" stroke="#b0243e" stroke-width="0.7"/>
<path d="M157.41 223.95A1.85 1.85 0 0 0 157.41 227.65z" fill="#b0243e"/>
<circle cx="156.61" cy="233.2" r="1.5" fill="#fff" stroke="#b0243e" stroke-width="0.7"/>
<path d="M156.61 231.35A1.85 1.85 0 0 0 156.61 235.05z" fill="#b0243e"/>
<circle cx="153.61" cy="238.3" r="1.75" fill="#b0243e"/>
<circle cx="155.91" cy="238.3" r="1.75" fill="#b0243e"/>
<circle cx="158.21" cy="238.3" r="1.75" fill="#b0243e"/>
<circle cx="160.41" cy="238.3" r="1.75" fill="#b0243e"/>
<line x1="157.41" y1="232.1" x2="157.41" y2="239.5" stroke="#231f20" stroke-width="1.1"/>
<line x1="155.81" y1="232.1" x2="159.01" y2="232.1" stroke="#231f20" stroke-width="1.1"/>
<line x1="155.81" y1="239.5" x2="159.01" y2="239.5" stroke="#231f20" stroke-width="1.1"/>
<line x1="154.21" y1="236.1" x2="160.61" y2="236.1" stroke="#231f20" stroke-width="1.3"/>
<rect x="169.83" y="188.1" width="2.6" height="2.6" fill="#fff" stroke="#32568a" stroke-width="0.8"/>
<rect x="169.43" y="187.7" width="1.7" height="3.4" fill="#32568a"/>
<rect x="166.93" y="214.3" width="2.6" height="2.6" fill="#fff" stroke="#32568a" stroke-width="0.8"/>
<rect x="166.53" y="213.9" width="1.7" height="3.4" fill="#32568a"/>
<rect x="170.33" y="214.3" width="2.6" height="2.6" fill="#fff" stroke="#32568a" stroke-width="0.8"/>
<rect x="169.93" y="213.9" width="1.7" height="3.4" fill="#32568a"/>
<rect x="169.93" y="227.4" width="3.2" height="3.2" fill="#32568a"/>
<rect x="166.63" y="231.1" width="3.2" height="3.2" fill="#32568a"/>
<rect x="165.83" y="236.9" width="2.6" height="2.6" fill="#fff" stroke="#32568a" stroke-width="0.8"/>
<rect x="165.43" y="236.5" width="1.7" height="3.4" fill="#32568a"/>
<rect x="168.33" y="236.9" width="2.6" height="2.6" fill="#fff" stroke="#32568a" stroke-width="0.8"/>
<rect x="167.93" y="236.5" width="1.7" height="3.4" fill="#32568a"/>
<rect x="170.83" y="236.9" width="2.6" height="2.6" fill="#fff" stroke="#32568a" stroke-width="0.8"/>
<rect x="170.43" y="236.5" width="1.7" height="3.4" fill="#32568a"/>
<line x1="171.13" y1="211.3" x2="171.13" y2="241.5" stroke="#231f20" stroke-width="1.1"/>
<line x1="169.53" y1="211.3" x2="172.73" y2="211.3" stroke="#231f20" stroke-width="1.1"/>
<line x1="169.53" y1="241.5" x2="172.73" y2="241.5" stroke="#231f20" stroke-width="1.1"/>
<line x1="167.33" y1="227.5" x2="174.93" y2="227.5" stroke="#231f20" stroke-width="1.3"/>
<path d="M184.85 180.94L186.85 184.54H182.85z" fill="#fff" stroke="#62ac48" stroke-width="0.6"/>
<path d="M184.85 180.94V184.54H182.85z" fill="#62ac48"/>
<path d="M184.25 231.04L186.25 234.64H182.25z" fill="#62ac48"/>
<path d="M181.25 235.84L183.25 239.44H179.25z" fill="#fff" stroke="#62ac48" stroke-width="0.6"/>
<path d="M181.25 235.84V239.44H179.25z" fill="#62ac48"/>
<path d="M183.65 235.84L185.65 239.44H181.65z" fill="#fff" stroke="#62ac48" stroke-width="0.6"/>
<path d="M183.65 235.84V239.44H181.65z" fill="#62ac48"/>
<path d="M186.25 235.84L188.25 239.44H184.25z" fill="#fff" stroke="#62ac48" stroke-width="0.6"/>
<path d="M186.25 235.84V239.44H184.25z" fill="#62ac48"/>
<path d="M188.25 235.84L190.25 239.44H186.25z" fill="#fff" stroke="#62ac48" stroke-width="0.6"/>
<path d="M188.25 235.84V239.44H186.25z" fill="#62ac48"/>
<line x1="184.85" y1="209" x2="184.85" y2="241.5" stroke="#231f20" stroke-width="1.1"/>
<line x1="183.25" y1="209" x2="186.45" y2="209" stroke="#231f20" stroke-width="1.1"/>
<line x1="183.25" y1="241.5" x2="186.45" y2="241.5" stroke="#231f20" stroke-width="1.1"/>
<line x1="181.05" y1="229.4" x2="188.65" y2="229.4" stroke="#231f20" stroke-width="1.3"/>
<text x="198.57" y="230.6" font-size="7" text-anchor="middle" fill="#231f20">**</text>
<path d="M194.97 236.2L197.07 238.3L194.97 240.4L192.87 238.3z" fill="#66346c"/>
<path d="M197.37 236.2L199.47 238.3L197.37 240.4L195.27 238.3z" fill="#66346c"/>
<path d="M199.77 236.2L201.87 238.3L199.77 240.4L197.67 238.3z" fill="#66346c"/>
<path d="M202.17 236.2L204.27 238.3L202.17 240.4L200.07 238.3z" fill="#66346c"/>
<line x1="195.07" y1="238.2" x2="202.07" y2="238.2" stroke="#231f20" stroke-width="1.2"/>
<text transform="translate(8.37,435.9) scale(0.696,1)" font-size="11.34" fill="#231f20">E</text>
<defs><filter id="hb" x="0" y="0" width="1" height="1"><feGaussianBlur stdDeviation="0.35"/></filter></defs>
<rect x="19.2" y="469.9" width="86.64" height="172.4" fill="#7070a0"/>
<path fill="#7070a0" d="M19.2 469.9h86.64v1.15h-86.64zM19.2 473.35h86.64v1.15h-86.64zM19.2 474.5h86.64v1.15h-86.64zM19.2 477.95h86.64v1.15h-86.64zM19.2 482.54h86.64v1.15h-86.64zM19.2 495.19h86.64v1.15h-86.64zM19.2 500.93h86.64v1.15h-86.64zM19.2 502.08h86.64v1.15h-86.64zM19.2 504.38h86.64v1.15h-86.64zM19.2 506.68h86.64v1.15h-86.64zM19.2 508.98h86.64v1.15h-86.64zM19.2 510.13h86.64v1.15h-86.64zM19.2 515.87h86.64v1.15h-86.64zM19.2 518.17h86.64v1.15h-86.64zM19.2 521.62h86.64v1.15h-86.64zM19.2 523.92h86.64v1.15h-86.64zM19.2 530.81h86.64v1.15h-86.64zM19.2 533.11h86.64v1.15h-86.64zM19.2 537.71h86.64v1.15h-86.64zM19.2 540.01h86.64v1.15h-86.64zM19.2 551.5h86.64v1.15h-86.64zM19.2 558.4h86.64v1.15h-86.64zM19.2 560.7h86.64v1.15h-86.64zM19.2 564.15h86.64v1.15h-86.64zM19.2 567.59h86.64v1.15h-86.64zM19.2 574.49h86.64v1.15h-86.64zM19.2 576.79h86.64v1.15h-86.64zM19.2 577.94h86.64v1.15h-86.64zM19.2 584.83h86.64v1.15h-86.64zM19.2 585.98h86.64v1.15h-86.64zM19.2 588.28h86.64v1.15h-86.64zM19.2 605.52h86.64v1.15h-86.64zM19.2 612.42h86.64v1.15h-86.64zM19.2 615.87h86.64v1.15h-86.64zM19.2 625.06h86.64v1.15h-86.64zM19.2 629.66h86.64v1.15h-86.64zM19.2 630.81h86.64v1.15h-86.64zM19.2 634.25h86.64v1.15h-86.64zM19.2 637.7h86.64v1.15h-86.64z"/>
<path fill="#7878a0" d="M19.2 471.05h86.64v1.15h-86.64zM19.2 475.65h86.64v1.15h-86.64zM19.2 479.09h86.64v1.15h-86.64zM19.2 480.24h86.64v1.15h-86.64zM19.2 484.84h86.64v1.15h-86.64zM19.2 485.99h86.64v1.15h-86.64zM19.2 490.59h86.64v1.15h-86.64zM19.2 491.74h86.64v1.15h-86.64zM19.2 503.23h86.64v1.15h-86.64zM19.2 505.53h86.64v1.15h-86.64zM19.2 507.83h86.64v1.15h-86.64zM19.2 513.57h86.64v1.15h-86.64zM19.2 514.72h86.64v1.15h-86.64zM19.2 520.47h86.64v1.15h-86.64zM19.2 522.77h86.64v1.15h-86.64zM19.2 526.22h86.64v1.15h-86.64zM19.2 535.41h86.64v1.15h-86.64zM19.2 536.56h86.64v1.15h-86.64zM19.2 542.31h86.64v1.15h-86.64zM19.2 548.05h86.64v1.15h-86.64zM19.2 550.35h86.64v1.15h-86.64zM19.2 553.8h86.64v1.15h-86.64zM19.2 556.1h86.64v1.15h-86.64zM19.2 563h86.64v1.15h-86.64zM19.2 568.74h86.64v1.15h-86.64zM19.2 569.89h86.64v1.15h-86.64zM19.2 575.64h86.64v1.15h-86.64zM19.2 581.39h86.64v1.15h-86.64zM19.2 583.68h86.64v1.15h-86.64zM19.2 589.43h86.64v1.15h-86.64zM19.2 590.58h86.64v1.15h-86.64zM19.2 595.18h86.64v1.15h-86.64zM19.2 598.63h86.64v1.15h-86.64zM19.2 604.37h86.64v1.15h-86.64zM19.2 611.27h86.64v1.15h-86.64zM19.2 613.57h86.64v1.15h-86.64zM19.2 614.72h86.64v1.15h-86.64zM19.2 618.16h86.64v1.15h-86.64zM19.2 621.61h86.64v1.15h-86.64zM19.2 622.76h86.64v1.15h-86.64zM19.2 623.91h86.64v1.15h-86.64zM19.2 635.4h86.64v1.15h-86.64zM19.2 641.15h86.64v1.15h-86.64z"/>
<path fill="#8080a0" d="M19.2 472.2h86.64v1.15h-86.64zM19.2 488.29h86.64v1.15h-86.64zM19.2 489.44h86.64v1.15h-86.64zM19.2 511.28h86.64v1.15h-86.64zM19.2 512.43h86.64v1.15h-86.64zM19.2 525.07h86.64v1.15h-86.64zM19.2 529.67h86.64v1.15h-86.64zM19.2 531.96h86.64v1.15h-86.64zM19.2 541.16h86.64v1.15h-86.64zM19.2 561.85h86.64v1.15h-86.64zM19.2 565.29h86.64v1.15h-86.64zM19.2 572.19h86.64v1.15h-86.64zM19.2 587.13h86.64v1.15h-86.64zM19.2 594.03h86.64v1.15h-86.64zM19.2 599.77h86.64v1.15h-86.64zM19.2 602.07h86.64v1.15h-86.64zM19.2 603.22h86.64v1.15h-86.64zM19.2 608.97h86.64v1.15h-86.64zM19.2 626.21h86.64v1.15h-86.64zM19.2 638.85h86.64v1.15h-86.64zM19.2 640h86.64v1.15h-86.64z"/>
<path fill="#6868a0" d="M19.2 476.8h86.64v1.15h-86.64zM19.2 497.48h86.64v1.15h-86.64zM19.2 498.63h86.64v1.15h-86.64zM19.2 517.02h86.64v1.15h-86.64zM19.2 528.52h86.64v1.15h-86.64zM19.2 544.61h86.64v1.15h-86.64zM19.2 552.65h86.64v1.15h-86.64zM19.2 559.55h86.64v1.15h-86.64zM19.2 566.44h86.64v1.15h-86.64zM19.2 573.34h86.64v1.15h-86.64zM19.2 582.53h86.64v1.15h-86.64zM19.2 591.73h86.64v1.15h-86.64zM19.2 596.33h86.64v1.15h-86.64zM19.2 597.48h86.64v1.15h-86.64zM19.2 600.92h86.64v1.15h-86.64zM19.2 610.12h86.64v1.15h-86.64zM19.2 620.46h86.64v1.15h-86.64zM19.2 627.36h86.64v1.15h-86.64z"/>
<path fill="#686898" d="M19.2 481.39h86.64v1.15h-86.64zM19.2 483.69h86.64v1.15h-86.64zM19.2 487.14h86.64v1.15h-86.64zM19.2 492.89h86.64v1.15h-86.64zM19.2 494.04h86.64v1.15h-86.64zM19.2 496.33h86.64v1.15h-86.64zM19.2 499.78h86.64v1.15h-86.64zM19.2 519.32h86.64v1.15h-86.64zM19.2 527.37h86.64v1.15h-86.64zM19.2 534.26h86.64v1.15h-86.64zM19.2 538.86h86.64v1.15h-86.64zM19.2 543.46h86.64v1.15h-86.64zM19.2 545.76h86.64v1.15h-86.64zM19.2 546.91h86.64v1.15h-86.64zM19.2 549.2h86.64v1.15h-86.64zM19.2 554.95h86.64v1.15h-86.64zM19.2 557.25h86.64v1.15h-86.64zM19.2 571.04h86.64v1.15h-86.64zM19.2 579.09h86.64v1.15h-86.64zM19.2 580.24h86.64v1.15h-86.64zM19.2 592.88h86.64v1.15h-86.64zM19.2 606.67h86.64v1.15h-86.64zM19.2 607.82h86.64v1.15h-86.64zM19.2 617.01h86.64v1.15h-86.64zM19.2 619.31h86.64v1.15h-86.64zM19.2 628.51h86.64v1.15h-86.64zM19.2 631.96h86.64v1.15h-86.64zM19.2 633.11h86.64v1.15h-86.64zM19.2 636.55h86.64v1.15h-86.64z"/>
<rect x="19.2" y="464.4" width="10.83" height="3.9" fill="#a82c40"/>
<text x="24.62" y="462.6" font-size="7.9" text-anchor="middle" fill="#231f20">A</text>
<rect x="30.03" y="464.4" width="18.05" height="3.9" fill="#3c5a88"/>
<text x="39.05" y="462.6" font-size="7.9" text-anchor="middle" fill="#231f20">B</text>
<rect x="48.08" y="464.4" width="34.3" height="3.9" fill="#6aa84e"/>
<text x="65.23" y="462.6" font-size="7.9" text-anchor="middle" fill="#231f20">C</text>
<rect x="82.38" y="464.4" width="23.47" height="3.9" fill="#6c4070"/>
<text x="94.11" y="462.6" font-size="7.9" text-anchor="middle" fill="#231f20">D</text>
<g filter="url(#hb)">
<path fill="#b8b080" d="M19.2 469.9h1.8v1.15h-1.8zM24.61 621.61h1.8v1.15h-1.8zM26.42 554.95h1.8v1.15h-1.8zM28.23 615.87h1.8v1.15h-1.8zM30.03 505.53h1.8v1.15h-1.8zM30.03 638.85h1.8v1.15h-1.8zM31.84 550.35h1.8v1.15h-1.8zM31.84 581.39h1.8v1.15h-1.8zM31.84 584.83h1.8v1.15h-1.8zM31.84 620.46h1.8v1.15h-1.8zM33.64 473.35h1.8v1.15h-1.8zM35.45 500.93h1.8v1.15h-1.8zM35.45 515.87h1.8v1.15h-1.8zM39.05 525.07h1.8v1.15h-1.8zM39.05 537.71h1.8v1.15h-1.8zM39.05 617.01h1.8v1.15h-1.8zM40.86 526.22h1.8v1.15h-1.8zM42.66 499.78h1.8v1.15h-1.8zM44.47 625.06h1.8v1.15h-1.8zM46.27 572.19h1.8v1.15h-1.8zM46.27 619.31h1.8v1.15h-1.8zM46.27 622.76h1.8v1.15h-1.8zM49.88 483.69h1.8v1.15h-1.8zM49.88 544.61h1.8v1.15h-1.8zM51.69 577.94h1.8v1.15h-1.8zM53.5 482.54h1.8v1.15h-1.8zM53.5 485.99h1.8v1.15h-1.8zM53.5 511.28h1.8v1.15h-1.8zM53.5 640h1.8v1.15h-1.8zM57.11 576.79h1.8v1.15h-1.8zM58.91 491.74h1.8v1.15h-1.8zM60.72 489.44h1.8v1.15h-1.8zM60.72 497.48h1.8v1.15h-1.8zM60.72 566.44h1.8v1.15h-1.8zM62.52 529.67h1.8v1.15h-1.8zM62.52 600.92h1.8v1.15h-1.8zM62.52 606.67h1.8v1.15h-1.8zM62.52 630.81h1.8v1.15h-1.8zM64.33 498.63h1.8v1.15h-1.8zM64.33 615.87h1.8v1.15h-1.8zM66.13 510.13h1.8v1.15h-1.8zM69.74 530.81h1.8v1.15h-1.8zM71.55 503.23h1.8v1.15h-1.8zM73.35 496.33h1.8v1.15h-1.8zM75.16 541.16h1.8v1.15h-1.8zM75.16 582.53h1.8v1.15h-1.8zM76.96 496.33h1.8v1.15h-1.8zM78.77 500.93h1.8v1.15h-1.8zM80.57 507.83h1.8v1.15h-1.8zM82.38 492.89h1.8v1.15h-1.8zM82.38 494.04h1.8v1.15h-1.8zM82.38 602.07h1.8v1.15h-1.8zM82.38 608.97h1.8v1.15h-1.8zM84.18 533.11h1.8v1.15h-1.8zM84.18 575.64h1.8v1.15h-1.8zM85.98 531.96h1.8v1.15h-1.8zM87.79 537.71h1.8v1.15h-1.8zM87.79 573.34h1.8v1.15h-1.8zM87.79 602.07h1.8v1.15h-1.8zM89.59 472.2h1.8v1.15h-1.8zM89.59 510.13h1.8v1.15h-1.8zM89.59 581.39h1.8v1.15h-1.8zM89.59 618.16h1.8v1.15h-1.8zM91.4 481.39h1.8v1.15h-1.8zM91.4 510.13h1.8v1.15h-1.8zM91.4 591.73h1.8v1.15h-1.8zM91.4 615.87h1.8v1.15h-1.8zM93.2 588.28h1.8v1.15h-1.8zM95.01 471.05h1.8v1.15h-1.8zM95.01 538.86h1.8v1.15h-1.8zM95.01 575.64h1.8v1.15h-1.8zM96.81 494.04h1.8v1.15h-1.8zM96.81 525.07h1.8v1.15h-1.8zM96.81 554.95h1.8v1.15h-1.8zM96.81 592.88h1.8v1.15h-1.8zM96.81 611.27h1.8v1.15h-1.8zM96.81 634.25h1.8v1.15h-1.8zM98.62 527.37h1.8v1.15h-1.8zM98.62 625.06h1.8v1.15h-1.8zM100.42 551.5h1.8v1.15h-1.8zM100.42 563h1.8v1.15h-1.8zM102.23 536.56h1.8v1.15h-1.8zM102.23 628.51h1.8v1.15h-1.8zM104.03 491.74h1.8v1.15h-1.8zM104.03 531.96h1.8v1.15h-1.8z"/>
<path fill="#e8e050" d="M19.2 480.24h1.8v1.15h-1.8zM22.81 536.56h1.8v1.15h-1.8zM24.61 469.9h1.8v1.15h-1.8zM24.61 492.89h1.8v1.15h-1.8zM24.61 576.79h1.8v1.15h-1.8zM26.42 482.54h1.8v1.15h-1.8zM26.42 636.55h1.8v1.15h-1.8zM28.23 502.08h1.8v1.15h-1.8zM28.23 620.46h1.8v1.15h-1.8zM30.03 484.84h1.8v1.15h-1.8zM30.03 489.44h1.8v1.15h-1.8zM30.03 494.04h1.8v1.15h-1.8zM30.03 498.63h1.8v1.15h-1.8zM30.03 508.98h1.8v1.15h-1.8zM30.03 560.7h1.8v1.15h-1.8zM30.03 599.77h1.8v1.15h-1.8zM30.03 614.72h1.8v1.15h-1.8zM30.03 626.21h1.8v1.15h-1.8zM31.84 476.8h1.8v1.15h-1.8zM31.84 490.59h1.8v1.15h-1.8zM31.84 506.68h1.8v1.15h-1.8zM31.84 513.57h1.8v1.15h-1.8zM31.84 544.61h1.8v1.15h-1.8zM31.84 568.74h1.8v1.15h-1.8zM31.84 633.11h1.8v1.15h-1.8zM31.84 635.4h1.8v1.15h-1.8zM33.64 489.44h1.8v1.15h-1.8zM33.64 494.04h1.8v1.15h-1.8zM33.64 504.38h1.8v1.15h-1.8zM33.64 512.43h1.8v1.15h-1.8zM33.64 518.17h1.8v1.15h-1.8zM33.64 536.56h1.8v1.15h-1.8zM33.64 542.31h1.8v1.15h-1.8zM33.64 558.4h1.8v1.15h-1.8zM33.64 561.85h1.8v1.15h-1.8zM33.64 577.94h1.8v1.15h-1.8zM33.64 623.91h1.8v1.15h-1.8zM35.45 510.13h1.8v1.15h-1.8zM35.45 530.81h1.8v1.15h-1.8zM35.45 554.95h1.8v1.15h-1.8zM35.45 556.1h1.8v1.15h-1.8zM35.45 557.25h1.8v1.15h-1.8zM35.45 560.7h1.8v1.15h-1.8zM35.45 574.49h1.8v1.15h-1.8zM35.45 581.39h1.8v1.15h-1.8zM35.45 610.12h1.8v1.15h-1.8zM35.45 614.72h1.8v1.15h-1.8zM35.45 640h1.8v1.15h-1.8zM37.25 491.74h1.8v1.15h-1.8zM37.25 537.71h1.8v1.15h-1.8zM37.25 550.35h1.8v1.15h-1.8zM37.25 558.4h1.8v1.15h-1.8zM37.25 587.13h1.8v1.15h-1.8zM39.05 473.35h1.8v1.15h-1.8zM39.05 475.65h1.8v1.15h-1.8zM39.05 483.69h1.8v1.15h-1.8zM39.05 497.48h1.8v1.15h-1.8zM39.05 513.57h1.8v1.15h-1.8zM39.05 552.65h1.8v1.15h-1.8zM39.05 556.1h1.8v1.15h-1.8zM39.05 610.12h1.8v1.15h-1.8zM39.05 618.16h1.8v1.15h-1.8zM39.05 619.31h1.8v1.15h-1.8zM39.05 627.36h1.8v1.15h-1.8zM40.86 480.24h1.8v1.15h-1.8zM40.86 497.48h1.8v1.15h-1.8zM40.86 537.71h1.8v1.15h-1.8zM40.86 541.16h1.8v1.15h-1.8zM40.86 573.34h1.8v1.15h-1.8zM40.86 589.43h1.8v1.15h-1.8zM40.86 597.48h1.8v1.15h-1.8zM40.86 637.7h1.8v1.15h-1.8zM42.66 475.65h1.8v1.15h-1.8zM42.66 492.89h1.8v1.15h-1.8zM42.66 505.53h1.8v1.15h-1.8zM42.66 513.57h1.8v1.15h-1.8zM42.66 534.26h1.8v1.15h-1.8zM42.66 544.61h1.8v1.15h-1.8zM42.66 572.19h1.8v1.15h-1.8zM42.66 579.09h1.8v1.15h-1.8zM42.66 596.33h1.8v1.15h-1.8zM42.66 620.46h1.8v1.15h-1.8zM42.66 621.61h1.8v1.15h-1.8zM42.66 625.06h1.8v1.15h-1.8zM42.66 629.66h1.8v1.15h-1.8zM44.47 511.28h1.8v1.15h-1.8zM44.47 513.57h1.8v1.15h-1.8zM44.47 520.47h1.8v1.15h-1.8zM44.47 533.11h1.8v1.15h-1.8zM44.47 544.61h1.8v1.15h-1.8zM44.47 551.5h1.8v1.15h-1.8zM44.47 559.55h1.8v1.15h-1.8zM44.47 563h1.8v1.15h-1.8zM44.47 612.42h1.8v1.15h-1.8zM46.27 471.05h1.8v1.15h-1.8zM46.27 475.65h1.8v1.15h-1.8zM46.27 477.95h1.8v1.15h-1.8zM46.27 498.63h1.8v1.15h-1.8zM46.27 515.87h1.8v1.15h-1.8zM46.27 520.47h1.8v1.15h-1.8zM46.27 552.65h1.8v1.15h-1.8zM46.27 635.4h1.8v1.15h-1.8zM46.27 638.85h1.8v1.15h-1.8zM48.08 513.57h1.8v1.15h-1.8zM48.08 538.86h1.8v1.15h-1.8zM48.08 567.59h1.8v1.15h-1.8zM48.08 568.74h1.8v1.15h-1.8zM48.08 572.19h1.8v1.15h-1.8zM48.08 574.49h1.8v1.15h-1.8zM48.08 607.82h1.8v1.15h-1.8zM49.88 559.55h1.8v1.15h-1.8zM49.88 596.33h1.8v1.15h-1.8zM49.88 600.92h1.8v1.15h-1.8zM49.88 611.27h1.8v1.15h-1.8zM49.88 618.16h1.8v1.15h-1.8zM51.69 475.65h1.8v1.15h-1.8zM51.69 480.24h1.8v1.15h-1.8zM51.69 495.19h1.8v1.15h-1.8zM51.69 506.68h1.8v1.15h-1.8zM51.69 537.71h1.8v1.15h-1.8zM51.69 541.16h1.8v1.15h-1.8zM51.69 546.91h1.8v1.15h-1.8zM51.69 565.29h1.8v1.15h-1.8zM51.69 571.04h1.8v1.15h-1.8zM51.69 623.91h1.8v1.15h-1.8zM53.5 491.74h1.8v1.15h-1.8zM53.5 510.13h1.8v1.15h-1.8zM53.5 546.91h1.8v1.15h-1.8zM53.5 574.49h1.8v1.15h-1.8zM53.5 579.09h1.8v1.15h-1.8zM53.5 583.68h1.8v1.15h-1.8zM53.5 592.88h1.8v1.15h-1.8zM53.5 594.03h1.8v1.15h-1.8zM53.5 612.42h1.8v1.15h-1.8zM55.3 531.96h1.8v1.15h-1.8zM55.3 561.85h1.8v1.15h-1.8zM55.3 577.94h1.8v1.15h-1.8zM55.3 590.58h1.8v1.15h-1.8zM55.3 594.03h1.8v1.15h-1.8zM55.3 595.18h1.8v1.15h-1.8zM55.3 606.67h1.8v1.15h-1.8zM55.3 607.82h1.8v1.15h-1.8zM55.3 635.4h1.8v1.15h-1.8zM55.3 638.85h1.8v1.15h-1.8zM57.11 479.09h1.8v1.15h-1.8zM57.11 519.32h1.8v1.15h-1.8zM57.11 545.76h1.8v1.15h-1.8zM57.11 568.74h1.8v1.15h-1.8zM57.11 582.53h1.8v1.15h-1.8zM57.11 594.03h1.8v1.15h-1.8zM57.11 603.22h1.8v1.15h-1.8zM57.11 611.27h1.8v1.15h-1.8zM57.11 622.76h1.8v1.15h-1.8zM57.11 634.25h1.8v1.15h-1.8zM58.91 530.81h1.8v1.15h-1.8zM58.91 538.86h1.8v1.15h-1.8zM58.91 540.01h1.8v1.15h-1.8zM58.91 549.2h1.8v1.15h-1.8zM58.91 553.8h1.8v1.15h-1.8zM58.91 568.74h1.8v1.15h-1.8zM58.91 577.94h1.8v1.15h-1.8zM58.91 631.96h1.8v1.15h-1.8zM58.91 633.11h1.8v1.15h-1.8zM60.72 556.1h1.8v1.15h-1.8zM60.72 589.43h1.8v1.15h-1.8zM60.72 602.07h1.8v1.15h-1.8zM60.72 617.01h1.8v1.15h-1.8zM60.72 635.4h1.8v1.15h-1.8zM62.52 482.54h1.8v1.15h-1.8zM62.52 492.89h1.8v1.15h-1.8zM62.52 515.87h1.8v1.15h-1.8zM62.52 527.37h1.8v1.15h-1.8zM62.52 550.35h1.8v1.15h-1.8zM62.52 552.65h1.8v1.15h-1.8zM62.52 553.8h1.8v1.15h-1.8zM62.52 558.4h1.8v1.15h-1.8zM62.52 564.15h1.8v1.15h-1.8zM62.52 577.94h1.8v1.15h-1.8zM62.52 636.55h1.8v1.15h-1.8zM64.33 475.65h1.8v1.15h-1.8zM64.33 490.59h1.8v1.15h-1.8zM64.33 491.74h1.8v1.15h-1.8zM64.33 522.77h1.8v1.15h-1.8zM64.33 526.22h1.8v1.15h-1.8zM64.33 545.76h1.8v1.15h-1.8zM64.33 605.52h1.8v1.15h-1.8zM64.33 607.82h1.8v1.15h-1.8zM64.33 625.06h1.8v1.15h-1.8zM66.13 488.29h1.8v1.15h-1.8zM66.13 490.59h1.8v1.15h-1.8zM66.13 507.83h1.8v1.15h-1.8zM66.13 526.22h1.8v1.15h-1.8zM66.13 542.31h1.8v1.15h-1.8zM66.13 556.1h1.8v1.15h-1.8zM66.13 557.25h1.8v1.15h-1.8zM66.13 589.43h1.8v1.15h-1.8zM66.13 614.72h1.8v1.15h-1.8zM67.94 488.29h1.8v1.15h-1.8zM67.94 494.04h1.8v1.15h-1.8zM67.94 504.38h1.8v1.15h-1.8zM67.94 520.47h1.8v1.15h-1.8zM67.94 584.83h1.8v1.15h-1.8zM67.94 603.22h1.8v1.15h-1.8zM67.94 619.31h1.8v1.15h-1.8zM69.74 477.95h1.8v1.15h-1.8zM69.74 491.74h1.8v1.15h-1.8zM69.74 507.83h1.8v1.15h-1.8zM69.74 510.13h1.8v1.15h-1.8zM69.74 511.28h1.8v1.15h-1.8zM69.74 540.01h1.8v1.15h-1.8zM69.74 550.35h1.8v1.15h-1.8zM69.74 583.68h1.8v1.15h-1.8zM69.74 604.37h1.8v1.15h-1.8zM69.74 605.52h1.8v1.15h-1.8zM69.74 629.66h1.8v1.15h-1.8zM71.55 477.95h1.8v1.15h-1.8zM71.55 504.38h1.8v1.15h-1.8zM71.55 553.8h1.8v1.15h-1.8zM71.55 558.4h1.8v1.15h-1.8zM71.55 564.15h1.8v1.15h-1.8zM71.55 612.42h1.8v1.15h-1.8zM73.35 471.05h1.8v1.15h-1.8zM73.35 499.78h1.8v1.15h-1.8zM73.35 515.87h1.8v1.15h-1.8zM73.35 534.26h1.8v1.15h-1.8zM73.35 538.86h1.8v1.15h-1.8zM73.35 561.85h1.8v1.15h-1.8zM73.35 575.64h1.8v1.15h-1.8zM73.35 588.28h1.8v1.15h-1.8zM73.35 590.58h1.8v1.15h-1.8zM73.35 611.27h1.8v1.15h-1.8zM73.35 621.61h1.8v1.15h-1.8zM73.35 628.51h1.8v1.15h-1.8zM73.35 641.15h1.8v1.15h-1.8zM75.16 481.39h1.8v1.15h-1.8zM75.16 564.15h1.8v1.15h-1.8zM75.16 565.29h1.8v1.15h-1.8zM75.16 583.68h1.8v1.15h-1.8zM75.16 594.03h1.8v1.15h-1.8zM76.96 498.63h1.8v1.15h-1.8zM76.96 526.22h1.8v1.15h-1.8zM76.96 543.46h1.8v1.15h-1.8zM76.96 559.55h1.8v1.15h-1.8zM76.96 561.85h1.8v1.15h-1.8zM76.96 608.97h1.8v1.15h-1.8zM76.96 622.76h1.8v1.15h-1.8zM76.96 627.36h1.8v1.15h-1.8zM78.77 487.14h1.8v1.15h-1.8zM78.77 503.23h1.8v1.15h-1.8zM78.77 505.53h1.8v1.15h-1.8zM78.77 526.22h1.8v1.15h-1.8zM78.77 553.8h1.8v1.15h-1.8zM78.77 565.29h1.8v1.15h-1.8zM78.77 571.04h1.8v1.15h-1.8zM78.77 605.52h1.8v1.15h-1.8zM78.77 621.61h1.8v1.15h-1.8zM78.77 625.06h1.8v1.15h-1.8zM78.77 641.15h1.8v1.15h-1.8zM80.57 529.67h1.8v1.15h-1.8zM80.57 537.71h1.8v1.15h-1.8zM80.57 542.31h1.8v1.15h-1.8zM80.57 574.49h1.8v1.15h-1.8zM80.57 594.03h1.8v1.15h-1.8zM80.57 608.97h1.8v1.15h-1.8zM80.57 618.16h1.8v1.15h-1.8zM80.57 626.21h1.8v1.15h-1.8zM80.57 629.66h1.8v1.15h-1.8zM80.57 631.96h1.8v1.15h-1.8zM82.38 496.33h1.8v1.15h-1.8zM82.38 515.87h1.8v1.15h-1.8zM82.38 520.47h1.8v1.15h-1.8zM82.38 544.61h1.8v1.15h-1.8zM82.38 566.44h1.8v1.15h-1.8zM82.38 600.92h1.8v1.15h-1.8zM82.38 603.22h1.8v1.15h-1.8zM82.38 613.57h1.8v1.15h-1.8zM84.18 473.35h1.8v1.15h-1.8zM84.18 495.19h1.8v1.15h-1.8zM84.18 540.01h1.8v1.15h-1.8zM84.18 552.65h1.8v1.15h-1.8zM84.18 564.15h1.8v1.15h-1.8zM84.18 569.89h1.8v1.15h-1.8zM84.18 594.03h1.8v1.15h-1.8zM84.18 600.92h1.8v1.15h-1.8zM84.18 627.36h1.8v1.15h-1.8zM84.18 629.66h1.8v1.15h-1.8zM85.98 476.8h1.8v1.15h-1.8zM85.98 500.93h1.8v1.15h-1.8zM85.98 536.56h1.8v1.15h-1.8zM85.98 575.64h1.8v1.15h-1.8zM85.98 577.94h1.8v1.15h-1.8zM85.98 591.73h1.8v1.15h-1.8zM85.98 602.07h1.8v1.15h-1.8zM85.98 638.85h1.8v1.15h-1.8zM85.98 640h1.8v1.15h-1.8zM85.98 641.15h1.8v1.15h-1.8zM87.79 473.35h1.8v1.15h-1.8zM87.79 498.63h1.8v1.15h-1.8zM87.79 502.08h1.8v1.15h-1.8zM87.79 521.62h1.8v1.15h-1.8zM87.79 525.07h1.8v1.15h-1.8zM87.79 528.52h1.8v1.15h-1.8zM87.79 531.96h1.8v1.15h-1.8zM87.79 549.2h1.8v1.15h-1.8zM87.79 583.68h1.8v1.15h-1.8zM87.79 595.18h1.8v1.15h-1.8zM87.79 597.48h1.8v1.15h-1.8zM87.79 600.92h1.8v1.15h-1.8zM87.79 605.52h1.8v1.15h-1.8zM87.79 606.67h1.8v1.15h-1.8zM87.79 620.46h1.8v1.15h-1.8zM87.79 626.21h1.8v1.15h-1.8zM87.79 628.51h1.8v1.15h-1.8zM89.59 475.65h1.8v1.15h-1.8zM89.59 479.09h1.8v1.15h-1.8zM89.59 485.99h1.8v1.15h-1.8zM89.59 495.19h1.8v1.15h-1.8zM89.59 508.98h1.8v1.15h-1.8zM89.59 511.28h1.8v1.15h-1.8zM89.59 534.26h1.8v1.15h-1.8zM89.59 572.19h1.8v1.15h-1.8zM89.59 640h1.8v1.15h-1.8zM91.4 504.38h1.8v1.15h-1.8zM91.4 540.01h1.8v1.15h-1.8zM91.4 549.2h1.8v1.15h-1.8zM93.2 471.05h1.8v1.15h-1.8zM93.2 533.11h1.8v1.15h-1.8zM93.2 553.8h1.8v1.15h-1.8zM93.2 594.03h1.8v1.15h-1.8zM93.2 615.87h1.8v1.15h-1.8zM93.2 638.85h1.8v1.15h-1.8zM95.01 474.5h1.8v1.15h-1.8zM95.01 489.44h1.8v1.15h-1.8zM95.01 500.93h1.8v1.15h-1.8zM95.01 502.08h1.8v1.15h-1.8zM95.01 540.01h1.8v1.15h-1.8zM95.01 553.8h1.8v1.15h-1.8zM95.01 577.94h1.8v1.15h-1.8zM95.01 596.33h1.8v1.15h-1.8zM95.01 605.52h1.8v1.15h-1.8zM95.01 610.12h1.8v1.15h-1.8zM95.01 630.81h1.8v1.15h-1.8zM95.01 640h1.8v1.15h-1.8zM96.81 474.5h1.8v1.15h-1.8zM96.81 490.59h1.8v1.15h-1.8zM96.81 515.87h1.8v1.15h-1.8zM96.81 526.22h1.8v1.15h-1.8zM96.81 566.44h1.8v1.15h-1.8zM96.81 582.53h1.8v1.15h-1.8zM96.81 625.06h1.8v1.15h-1.8zM98.62 469.9h1.8v1.15h-1.8zM98.62 471.05h1.8v1.15h-1.8zM98.62 483.69h1.8v1.15h-1.8zM98.62 488.29h1.8v1.15h-1.8zM98.62 506.68h1.8v1.15h-1.8zM98.62 551.5h1.8v1.15h-1.8zM98.62 576.79h1.8v1.15h-1.8zM98.62 605.52h1.8v1.15h-1.8zM98.62 610.12h1.8v1.15h-1.8zM98.62 611.27h1.8v1.15h-1.8zM98.62 615.87h1.8v1.15h-1.8zM98.62 630.81h1.8v1.15h-1.8zM100.42 479.09h1.8v1.15h-1.8zM100.42 484.84h1.8v1.15h-1.8zM100.42 492.89h1.8v1.15h-1.8zM100.42 495.19h1.8v1.15h-1.8zM100.42 503.23h1.8v1.15h-1.8zM100.42 511.28h1.8v1.15h-1.8zM100.42 546.91h1.8v1.15h-1.8zM100.42 564.15h1.8v1.15h-1.8zM100.42 599.77h1.8v1.15h-1.8zM100.42 621.61h1.8v1.15h-1.8zM100.42 636.55h1.8v1.15h-1.8zM102.23 511.28h1.8v1.15h-1.8zM102.23 517.02h1.8v1.15h-1.8zM102.23 522.77h1.8v1.15h-1.8zM102.23 531.96h1.8v1.15h-1.8zM102.23 563h1.8v1.15h-1.8zM102.23 584.83h1.8v1.15h-1.8zM102.23 600.92h1.8v1.15h-1.8zM102.23 635.4h1.8v1.15h-1.8zM102.23 637.7h1.8v1.15h-1.8zM104.03 483.69h1.8v1.15h-1.8zM104.03 487.14h1.8v1.15h-1.8zM104.03 494.04h1.8v1.15h-1.8zM104.03 527.37h1.8v1.15h-1.8zM104.03 553.8h1.8v1.15h-1.8zM104.03 561.85h1.8v1.15h-1.8zM104.03 563h1.8v1.15h-1.8zM104.03 565.29h1.8v1.15h-1.8zM104.03 582.53h1.8v1.15h-1.8zM104.03 585.98h1.8v1.15h-1.8zM104.03 589.43h1.8v1.15h-1.8zM104.03 612.42h1.8v1.15h-1.8zM104.03 613.57h1.8v1.15h-1.8zM104.03 615.87h1.8v1.15h-1.8zM104.03 619.31h1.8v1.15h-1.8zM104.03 628.51h1.8v1.15h-1.8z"/>
<path fill="#f0e848" d="M19.2 484.84h1.8v1.15h-1.8zM19.2 485.99h1.8v1.15h-1.8zM19.2 634.25h1.8v1.15h-1.8zM24.61 485.99h1.8v1.15h-1.8zM24.61 487.14h1.8v1.15h-1.8zM26.42 490.59h1.8v1.15h-1.8zM30.03 476.8h1.8v1.15h-1.8zM30.03 479.09h1.8v1.15h-1.8zM30.03 483.69h1.8v1.15h-1.8zM30.03 507.83h1.8v1.15h-1.8zM30.03 519.32h1.8v1.15h-1.8zM30.03 527.37h1.8v1.15h-1.8zM30.03 542.31h1.8v1.15h-1.8zM30.03 571.04h1.8v1.15h-1.8zM30.03 589.43h1.8v1.15h-1.8zM30.03 594.03h1.8v1.15h-1.8zM30.03 596.33h1.8v1.15h-1.8zM31.84 491.74h1.8v1.15h-1.8zM31.84 494.04h1.8v1.15h-1.8zM31.84 498.63h1.8v1.15h-1.8zM31.84 499.78h1.8v1.15h-1.8zM31.84 510.13h1.8v1.15h-1.8zM31.84 521.62h1.8v1.15h-1.8zM31.84 530.81h1.8v1.15h-1.8zM31.84 548.05h1.8v1.15h-1.8zM31.84 563h1.8v1.15h-1.8zM31.84 572.19h1.8v1.15h-1.8zM31.84 592.88h1.8v1.15h-1.8zM31.84 618.16h1.8v1.15h-1.8zM31.84 630.81h1.8v1.15h-1.8zM33.64 475.65h1.8v1.15h-1.8zM33.64 484.84h1.8v1.15h-1.8zM33.64 500.93h1.8v1.15h-1.8zM33.64 511.28h1.8v1.15h-1.8zM33.64 525.07h1.8v1.15h-1.8zM33.64 533.11h1.8v1.15h-1.8zM33.64 567.59h1.8v1.15h-1.8zM33.64 596.33h1.8v1.15h-1.8zM33.64 605.52h1.8v1.15h-1.8zM33.64 610.12h1.8v1.15h-1.8zM33.64 614.72h1.8v1.15h-1.8zM33.64 635.4h1.8v1.15h-1.8zM35.45 479.09h1.8v1.15h-1.8zM35.45 480.24h1.8v1.15h-1.8zM35.45 485.99h1.8v1.15h-1.8zM35.45 489.44h1.8v1.15h-1.8zM35.45 496.33h1.8v1.15h-1.8zM35.45 499.78h1.8v1.15h-1.8zM35.45 545.76h1.8v1.15h-1.8zM35.45 558.4h1.8v1.15h-1.8zM35.45 634.25h1.8v1.15h-1.8zM37.25 476.8h1.8v1.15h-1.8zM37.25 504.38h1.8v1.15h-1.8zM37.25 512.43h1.8v1.15h-1.8zM37.25 518.17h1.8v1.15h-1.8zM37.25 559.55h1.8v1.15h-1.8zM37.25 560.7h1.8v1.15h-1.8zM37.25 573.34h1.8v1.15h-1.8zM37.25 583.68h1.8v1.15h-1.8zM37.25 594.03h1.8v1.15h-1.8zM37.25 603.22h1.8v1.15h-1.8zM37.25 614.72h1.8v1.15h-1.8zM37.25 615.87h1.8v1.15h-1.8zM39.05 487.14h1.8v1.15h-1.8zM39.05 492.89h1.8v1.15h-1.8zM39.05 502.08h1.8v1.15h-1.8zM39.05 510.13h1.8v1.15h-1.8zM39.05 526.22h1.8v1.15h-1.8zM39.05 549.2h1.8v1.15h-1.8zM39.05 568.74h1.8v1.15h-1.8zM39.05 573.34h1.8v1.15h-1.8zM39.05 612.42h1.8v1.15h-1.8zM39.05 614.72h1.8v1.15h-1.8zM39.05 637.7h1.8v1.15h-1.8zM39.05 638.85h1.8v1.15h-1.8zM39.05 640h1.8v1.15h-1.8zM40.86 475.65h1.8v1.15h-1.8zM40.86 552.65h1.8v1.15h-1.8zM40.86 553.8h1.8v1.15h-1.8zM40.86 566.44h1.8v1.15h-1.8zM40.86 572.19h1.8v1.15h-1.8zM40.86 600.92h1.8v1.15h-1.8zM40.86 611.27h1.8v1.15h-1.8zM40.86 617.01h1.8v1.15h-1.8zM42.66 471.05h1.8v1.15h-1.8zM42.66 504.38h1.8v1.15h-1.8zM42.66 512.43h1.8v1.15h-1.8zM42.66 522.77h1.8v1.15h-1.8zM42.66 558.4h1.8v1.15h-1.8zM42.66 580.24h1.8v1.15h-1.8zM42.66 595.18h1.8v1.15h-1.8zM42.66 612.42h1.8v1.15h-1.8zM42.66 617.01h1.8v1.15h-1.8zM44.47 469.9h1.8v1.15h-1.8zM44.47 477.95h1.8v1.15h-1.8zM44.47 480.24h1.8v1.15h-1.8zM44.47 489.44h1.8v1.15h-1.8zM44.47 504.38h1.8v1.15h-1.8zM44.47 519.32h1.8v1.15h-1.8zM44.47 548.05h1.8v1.15h-1.8zM44.47 549.2h1.8v1.15h-1.8zM44.47 560.7h1.8v1.15h-1.8zM44.47 571.04h1.8v1.15h-1.8zM44.47 581.39h1.8v1.15h-1.8zM44.47 606.67h1.8v1.15h-1.8zM44.47 615.87h1.8v1.15h-1.8zM44.47 622.76h1.8v1.15h-1.8zM46.27 495.19h1.8v1.15h-1.8zM46.27 502.08h1.8v1.15h-1.8zM46.27 521.62h1.8v1.15h-1.8zM46.27 542.31h1.8v1.15h-1.8zM46.27 566.44h1.8v1.15h-1.8zM46.27 577.94h1.8v1.15h-1.8zM46.27 598.63h1.8v1.15h-1.8zM46.27 599.77h1.8v1.15h-1.8zM48.08 495.19h1.8v1.15h-1.8zM48.08 500.93h1.8v1.15h-1.8zM48.08 505.53h1.8v1.15h-1.8zM48.08 512.43h1.8v1.15h-1.8zM48.08 517.02h1.8v1.15h-1.8zM48.08 519.32h1.8v1.15h-1.8zM48.08 542.31h1.8v1.15h-1.8zM48.08 548.05h1.8v1.15h-1.8zM48.08 549.2h1.8v1.15h-1.8zM48.08 571.04h1.8v1.15h-1.8zM48.08 583.68h1.8v1.15h-1.8zM48.08 591.73h1.8v1.15h-1.8zM48.08 618.16h1.8v1.15h-1.8zM48.08 628.51h1.8v1.15h-1.8zM48.08 638.85h1.8v1.15h-1.8zM49.88 477.95h1.8v1.15h-1.8zM49.88 502.08h1.8v1.15h-1.8zM49.88 508.98h1.8v1.15h-1.8zM49.88 514.72h1.8v1.15h-1.8zM49.88 528.52h1.8v1.15h-1.8zM49.88 549.2h1.8v1.15h-1.8zM49.88 554.95h1.8v1.15h-1.8zM49.88 561.85h1.8v1.15h-1.8zM49.88 590.58h1.8v1.15h-1.8zM49.88 599.77h1.8v1.15h-1.8zM49.88 620.46h1.8v1.15h-1.8zM49.88 631.96h1.8v1.15h-1.8zM51.69 497.48h1.8v1.15h-1.8zM51.69 519.32h1.8v1.15h-1.8zM51.69 560.7h1.8v1.15h-1.8zM51.69 627.36h1.8v1.15h-1.8zM53.5 487.14h1.8v1.15h-1.8zM53.5 490.59h1.8v1.15h-1.8zM53.5 497.48h1.8v1.15h-1.8zM53.5 508.98h1.8v1.15h-1.8zM53.5 513.57h1.8v1.15h-1.8zM53.5 561.85h1.8v1.15h-1.8zM53.5 564.15h1.8v1.15h-1.8zM53.5 577.94h1.8v1.15h-1.8zM53.5 598.63h1.8v1.15h-1.8zM53.5 605.52h1.8v1.15h-1.8zM53.5 631.96h1.8v1.15h-1.8zM53.5 633.11h1.8v1.15h-1.8zM55.3 474.5h1.8v1.15h-1.8zM55.3 487.14h1.8v1.15h-1.8zM55.3 508.98h1.8v1.15h-1.8zM55.3 514.72h1.8v1.15h-1.8zM55.3 521.62h1.8v1.15h-1.8zM55.3 549.2h1.8v1.15h-1.8zM55.3 567.59h1.8v1.15h-1.8zM55.3 572.19h1.8v1.15h-1.8zM55.3 580.24h1.8v1.15h-1.8zM55.3 587.13h1.8v1.15h-1.8zM55.3 599.77h1.8v1.15h-1.8zM55.3 600.92h1.8v1.15h-1.8zM57.11 517.02h1.8v1.15h-1.8zM57.11 543.46h1.8v1.15h-1.8zM57.11 571.04h1.8v1.15h-1.8zM57.11 584.83h1.8v1.15h-1.8zM57.11 600.92h1.8v1.15h-1.8zM57.11 633.11h1.8v1.15h-1.8zM58.91 487.14h1.8v1.15h-1.8zM58.91 499.78h1.8v1.15h-1.8zM58.91 507.83h1.8v1.15h-1.8zM58.91 533.11h1.8v1.15h-1.8zM58.91 558.4h1.8v1.15h-1.8zM60.72 477.95h1.8v1.15h-1.8zM60.72 494.04h1.8v1.15h-1.8zM60.72 520.47h1.8v1.15h-1.8zM60.72 527.37h1.8v1.15h-1.8zM60.72 529.67h1.8v1.15h-1.8zM60.72 538.86h1.8v1.15h-1.8zM60.72 546.91h1.8v1.15h-1.8zM60.72 552.65h1.8v1.15h-1.8zM60.72 611.27h1.8v1.15h-1.8zM62.52 483.69h1.8v1.15h-1.8zM62.52 495.19h1.8v1.15h-1.8zM62.52 526.22h1.8v1.15h-1.8zM62.52 591.73h1.8v1.15h-1.8zM62.52 618.16h1.8v1.15h-1.8zM64.33 489.44h1.8v1.15h-1.8zM64.33 508.98h1.8v1.15h-1.8zM64.33 531.96h1.8v1.15h-1.8zM64.33 542.31h1.8v1.15h-1.8zM64.33 553.8h1.8v1.15h-1.8zM64.33 557.25h1.8v1.15h-1.8zM64.33 572.19h1.8v1.15h-1.8zM64.33 576.79h1.8v1.15h-1.8zM64.33 580.24h1.8v1.15h-1.8zM64.33 589.43h1.8v1.15h-1.8zM64.33 592.88h1.8v1.15h-1.8zM64.33 597.48h1.8v1.15h-1.8zM66.13 473.35h1.8v1.15h-1.8zM66.13 477.95h1.8v1.15h-1.8zM66.13 487.14h1.8v1.15h-1.8zM66.13 512.43h1.8v1.15h-1.8zM66.13 528.52h1.8v1.15h-1.8zM66.13 541.16h1.8v1.15h-1.8zM66.13 560.7h1.8v1.15h-1.8zM66.13 576.79h1.8v1.15h-1.8zM66.13 580.24h1.8v1.15h-1.8zM66.13 581.39h1.8v1.15h-1.8zM66.13 585.98h1.8v1.15h-1.8zM66.13 598.63h1.8v1.15h-1.8zM66.13 606.67h1.8v1.15h-1.8zM66.13 613.57h1.8v1.15h-1.8zM66.13 620.46h1.8v1.15h-1.8zM66.13 635.4h1.8v1.15h-1.8zM67.94 482.54h1.8v1.15h-1.8zM67.94 498.63h1.8v1.15h-1.8zM67.94 506.68h1.8v1.15h-1.8zM67.94 517.02h1.8v1.15h-1.8zM67.94 531.96h1.8v1.15h-1.8zM67.94 537.71h1.8v1.15h-1.8zM67.94 550.35h1.8v1.15h-1.8zM67.94 552.65h1.8v1.15h-1.8zM67.94 561.85h1.8v1.15h-1.8zM67.94 583.68h1.8v1.15h-1.8zM67.94 588.28h1.8v1.15h-1.8zM67.94 595.18h1.8v1.15h-1.8zM67.94 599.77h1.8v1.15h-1.8zM67.94 602.07h1.8v1.15h-1.8zM67.94 606.67h1.8v1.15h-1.8zM67.94 610.12h1.8v1.15h-1.8zM67.94 612.42h1.8v1.15h-1.8zM67.94 622.76h1.8v1.15h-1.8zM67.94 630.81h1.8v1.15h-1.8zM67.94 631.96h1.8v1.15h-1.8zM69.74 484.84h1.8v1.15h-1.8zM69.74 495.19h1.8v1.15h-1.8zM69.74 519.32h1.8v1.15h-1.8zM69.74 522.77h1.8v1.15h-1.8zM69.74 594.03h1.8v1.15h-1.8zM69.74 638.85h1.8v1.15h-1.8zM71.55 471.05h1.8v1.15h-1.8zM71.55 482.54h1.8v1.15h-1.8zM71.55 491.74h1.8v1.15h-1.8zM71.55 523.92h1.8v1.15h-1.8zM71.55 540.01h1.8v1.15h-1.8zM71.55 554.95h1.8v1.15h-1.8zM71.55 557.25h1.8v1.15h-1.8zM71.55 571.04h1.8v1.15h-1.8zM71.55 580.24h1.8v1.15h-1.8zM71.55 582.53h1.8v1.15h-1.8zM71.55 600.92h1.8v1.15h-1.8zM71.55 610.12h1.8v1.15h-1.8zM71.55 638.85h1.8v1.15h-1.8zM73.35 481.39h1.8v1.15h-1.8zM73.35 498.63h1.8v1.15h-1.8zM73.35 505.53h1.8v1.15h-1.8zM73.35 533.11h1.8v1.15h-1.8zM73.35 579.09h1.8v1.15h-1.8zM73.35 587.13h1.8v1.15h-1.8zM73.35 592.88h1.8v1.15h-1.8zM75.16 479.09h1.8v1.15h-1.8zM75.16 482.54h1.8v1.15h-1.8zM75.16 489.44h1.8v1.15h-1.8zM75.16 506.68h1.8v1.15h-1.8zM75.16 511.28h1.8v1.15h-1.8zM75.16 512.43h1.8v1.15h-1.8zM75.16 519.32h1.8v1.15h-1.8zM75.16 522.77h1.8v1.15h-1.8zM75.16 527.37h1.8v1.15h-1.8zM75.16 563h1.8v1.15h-1.8zM75.16 568.74h1.8v1.15h-1.8zM75.16 569.89h1.8v1.15h-1.8zM75.16 600.92h1.8v1.15h-1.8zM75.16 614.72h1.8v1.15h-1.8zM76.96 476.8h1.8v1.15h-1.8zM76.96 484.84h1.8v1.15h-1.8zM76.96 490.59h1.8v1.15h-1.8zM76.96 508.98h1.8v1.15h-1.8zM76.96 549.2h1.8v1.15h-1.8zM76.96 565.29h1.8v1.15h-1.8zM76.96 599.77h1.8v1.15h-1.8zM76.96 603.22h1.8v1.15h-1.8zM76.96 605.52h1.8v1.15h-1.8zM76.96 619.31h1.8v1.15h-1.8zM78.77 471.05h1.8v1.15h-1.8zM78.77 488.29h1.8v1.15h-1.8zM78.77 494.04h1.8v1.15h-1.8zM78.77 498.63h1.8v1.15h-1.8zM78.77 507.83h1.8v1.15h-1.8zM78.77 545.76h1.8v1.15h-1.8zM78.77 611.27h1.8v1.15h-1.8zM80.57 484.84h1.8v1.15h-1.8zM80.57 485.99h1.8v1.15h-1.8zM80.57 490.59h1.8v1.15h-1.8zM80.57 500.93h1.8v1.15h-1.8zM80.57 511.28h1.8v1.15h-1.8zM80.57 515.87h1.8v1.15h-1.8zM80.57 519.32h1.8v1.15h-1.8zM80.57 548.05h1.8v1.15h-1.8zM80.57 560.7h1.8v1.15h-1.8zM80.57 621.61h1.8v1.15h-1.8zM80.57 630.81h1.8v1.15h-1.8zM80.57 633.11h1.8v1.15h-1.8zM82.38 485.99h1.8v1.15h-1.8zM82.38 517.02h1.8v1.15h-1.8zM82.38 521.62h1.8v1.15h-1.8zM82.38 523.92h1.8v1.15h-1.8zM82.38 527.37h1.8v1.15h-1.8zM82.38 538.86h1.8v1.15h-1.8zM82.38 553.8h1.8v1.15h-1.8zM82.38 557.25h1.8v1.15h-1.8zM82.38 568.74h1.8v1.15h-1.8zM82.38 579.09h1.8v1.15h-1.8zM82.38 587.13h1.8v1.15h-1.8zM82.38 617.01h1.8v1.15h-1.8zM82.38 626.21h1.8v1.15h-1.8zM84.18 475.65h1.8v1.15h-1.8zM84.18 491.74h1.8v1.15h-1.8zM84.18 513.57h1.8v1.15h-1.8zM84.18 514.72h1.8v1.15h-1.8zM84.18 520.47h1.8v1.15h-1.8zM84.18 541.16h1.8v1.15h-1.8zM84.18 549.2h1.8v1.15h-1.8zM84.18 584.83h1.8v1.15h-1.8zM84.18 605.52h1.8v1.15h-1.8zM84.18 607.82h1.8v1.15h-1.8zM84.18 611.27h1.8v1.15h-1.8zM84.18 614.72h1.8v1.15h-1.8zM84.18 628.51h1.8v1.15h-1.8zM85.98 491.74h1.8v1.15h-1.8zM85.98 494.04h1.8v1.15h-1.8zM85.98 495.19h1.8v1.15h-1.8zM85.98 538.86h1.8v1.15h-1.8zM85.98 545.76h1.8v1.15h-1.8zM85.98 594.03h1.8v1.15h-1.8zM85.98 615.87h1.8v1.15h-1.8zM85.98 617.01h1.8v1.15h-1.8zM85.98 631.96h1.8v1.15h-1.8zM85.98 633.11h1.8v1.15h-1.8zM85.98 635.4h1.8v1.15h-1.8zM87.79 490.59h1.8v1.15h-1.8zM87.79 504.38h1.8v1.15h-1.8zM87.79 522.77h1.8v1.15h-1.8zM87.79 540.01h1.8v1.15h-1.8zM87.79 554.95h1.8v1.15h-1.8zM87.79 558.4h1.8v1.15h-1.8zM87.79 561.85h1.8v1.15h-1.8zM87.79 579.09h1.8v1.15h-1.8zM87.79 587.13h1.8v1.15h-1.8zM87.79 598.63h1.8v1.15h-1.8zM87.79 603.22h1.8v1.15h-1.8zM87.79 607.82h1.8v1.15h-1.8zM87.79 635.4h1.8v1.15h-1.8zM89.59 492.89h1.8v1.15h-1.8zM89.59 496.33h1.8v1.15h-1.8zM89.59 497.48h1.8v1.15h-1.8zM89.59 530.81h1.8v1.15h-1.8zM89.59 531.96h1.8v1.15h-1.8zM89.59 533.11h1.8v1.15h-1.8zM89.59 559.55h1.8v1.15h-1.8zM89.59 591.73h1.8v1.15h-1.8zM89.59 597.48h1.8v1.15h-1.8zM89.59 620.46h1.8v1.15h-1.8zM89.59 633.11h1.8v1.15h-1.8zM89.59 635.4h1.8v1.15h-1.8zM91.4 479.09h1.8v1.15h-1.8zM91.4 513.57h1.8v1.15h-1.8zM91.4 529.67h1.8v1.15h-1.8zM91.4 563h1.8v1.15h-1.8zM91.4 587.13h1.8v1.15h-1.8zM91.4 604.37h1.8v1.15h-1.8zM91.4 614.72h1.8v1.15h-1.8zM91.4 622.76h1.8v1.15h-1.8zM93.2 487.14h1.8v1.15h-1.8zM93.2 489.44h1.8v1.15h-1.8zM93.2 531.96h1.8v1.15h-1.8zM93.2 544.61h1.8v1.15h-1.8zM93.2 572.19h1.8v1.15h-1.8zM93.2 602.07h1.8v1.15h-1.8zM93.2 637.7h1.8v1.15h-1.8zM95.01 480.24h1.8v1.15h-1.8zM95.01 530.81h1.8v1.15h-1.8zM95.01 572.19h1.8v1.15h-1.8zM95.01 583.68h1.8v1.15h-1.8zM95.01 600.92h1.8v1.15h-1.8zM95.01 615.87h1.8v1.15h-1.8zM95.01 631.96h1.8v1.15h-1.8zM96.81 480.24h1.8v1.15h-1.8zM96.81 495.19h1.8v1.15h-1.8zM96.81 511.28h1.8v1.15h-1.8zM96.81 513.57h1.8v1.15h-1.8zM96.81 552.65h1.8v1.15h-1.8zM96.81 600.92h1.8v1.15h-1.8zM96.81 619.31h1.8v1.15h-1.8zM98.62 479.09h1.8v1.15h-1.8zM98.62 512.43h1.8v1.15h-1.8zM98.62 519.32h1.8v1.15h-1.8zM98.62 543.46h1.8v1.15h-1.8zM98.62 602.07h1.8v1.15h-1.8zM98.62 607.82h1.8v1.15h-1.8zM98.62 627.36h1.8v1.15h-1.8zM100.42 471.05h1.8v1.15h-1.8zM100.42 477.95h1.8v1.15h-1.8zM100.42 485.99h1.8v1.15h-1.8zM100.42 498.63h1.8v1.15h-1.8zM100.42 500.93h1.8v1.15h-1.8zM100.42 502.08h1.8v1.15h-1.8zM100.42 512.43h1.8v1.15h-1.8zM100.42 519.32h1.8v1.15h-1.8zM100.42 527.37h1.8v1.15h-1.8zM100.42 540.01h1.8v1.15h-1.8zM100.42 606.67h1.8v1.15h-1.8zM100.42 614.72h1.8v1.15h-1.8zM100.42 637.7h1.8v1.15h-1.8zM102.23 475.65h1.8v1.15h-1.8zM102.23 496.33h1.8v1.15h-1.8zM102.23 505.53h1.8v1.15h-1.8zM102.23 546.91h1.8v1.15h-1.8zM102.23 579.09h1.8v1.15h-1.8zM102.23 598.63h1.8v1.15h-1.8zM102.23 621.61h1.8v1.15h-1.8zM102.23 640h1.8v1.15h-1.8zM104.03 488.29h1.8v1.15h-1.8zM104.03 496.33h1.8v1.15h-1.8zM104.03 520.47h1.8v1.15h-1.8zM104.03 546.91h1.8v1.15h-1.8zM104.03 571.04h1.8v1.15h-1.8zM104.03 583.68h1.8v1.15h-1.8zM104.03 606.67h1.8v1.15h-1.8zM104.03 621.61h1.8v1.15h-1.8zM104.03 635.4h1.8v1.15h-1.8z"/>
<path fill="#989898" d="M19.2 487.14h1.8v1.15h-1.8zM22.81 596.33h1.8v1.15h-1.8zM24.61 512.43h1.8v1.15h-1.8zM28.23 515.87h1.8v1.15h-1.8zM28.23 566.44h1.8v1.15h-1.8zM30.03 487.14h1.8v1.15h-1.8zM30.03 503.23h1.8v1.15h-1.8zM30.03 600.92h1.8v1.15h-1.8zM31.84 595.18h1.8v1.15h-1.8zM31.84 611.27h1.8v1.15h-1.8zM33.64 476.8h1.8v1.15h-1.8zM33.64 477.95h1.8v1.15h-1.8zM33.64 553.8h1.8v1.15h-1.8zM33.64 574.49h1.8v1.15h-1.8zM33.64 591.73h1.8v1.15h-1.8zM33.64 629.66h1.8v1.15h-1.8zM35.45 599.77h1.8v1.15h-1.8zM37.25 484.84h1.8v1.15h-1.8zM37.25 619.31h1.8v1.15h-1.8zM39.05 528.52h1.8v1.15h-1.8zM39.05 531.96h1.8v1.15h-1.8zM40.86 542.31h1.8v1.15h-1.8zM40.86 594.03h1.8v1.15h-1.8zM40.86 626.21h1.8v1.15h-1.8zM42.66 518.17h1.8v1.15h-1.8zM42.66 519.32h1.8v1.15h-1.8zM42.66 585.98h1.8v1.15h-1.8zM44.47 512.43h1.8v1.15h-1.8zM44.47 587.13h1.8v1.15h-1.8zM44.47 594.03h1.8v1.15h-1.8zM46.27 597.48h1.8v1.15h-1.8zM48.08 540.01h1.8v1.15h-1.8zM49.88 630.81h1.8v1.15h-1.8zM55.3 513.57h1.8v1.15h-1.8zM55.3 553.8h1.8v1.15h-1.8zM55.3 585.98h1.8v1.15h-1.8zM55.3 636.55h1.8v1.15h-1.8zM57.11 494.04h1.8v1.15h-1.8zM58.91 519.32h1.8v1.15h-1.8zM58.91 565.29h1.8v1.15h-1.8zM60.72 622.76h1.8v1.15h-1.8zM62.52 520.47h1.8v1.15h-1.8zM62.52 536.56h1.8v1.15h-1.8zM62.52 584.83h1.8v1.15h-1.8zM62.52 633.11h1.8v1.15h-1.8zM64.33 611.27h1.8v1.15h-1.8zM64.33 637.7h1.8v1.15h-1.8zM66.13 485.99h1.8v1.15h-1.8zM66.13 521.62h1.8v1.15h-1.8zM67.94 526.22h1.8v1.15h-1.8zM67.94 556.1h1.8v1.15h-1.8zM67.94 615.87h1.8v1.15h-1.8zM69.74 533.11h1.8v1.15h-1.8zM75.16 517.02h1.8v1.15h-1.8zM75.16 558.4h1.8v1.15h-1.8zM75.16 573.34h1.8v1.15h-1.8zM76.96 500.93h1.8v1.15h-1.8zM76.96 552.65h1.8v1.15h-1.8zM76.96 568.74h1.8v1.15h-1.8zM76.96 575.64h1.8v1.15h-1.8zM76.96 592.88h1.8v1.15h-1.8zM76.96 594.03h1.8v1.15h-1.8zM78.77 481.39h1.8v1.15h-1.8zM78.77 529.67h1.8v1.15h-1.8zM80.57 545.76h1.8v1.15h-1.8zM80.57 606.67h1.8v1.15h-1.8zM80.57 641.15h1.8v1.15h-1.8zM82.38 502.08h1.8v1.15h-1.8zM82.38 542.31h1.8v1.15h-1.8zM82.38 565.29h1.8v1.15h-1.8zM82.38 574.49h1.8v1.15h-1.8zM82.38 585.98h1.8v1.15h-1.8zM82.38 604.37h1.8v1.15h-1.8zM85.98 552.65h1.8v1.15h-1.8zM87.79 484.84h1.8v1.15h-1.8zM87.79 514.72h1.8v1.15h-1.8zM89.59 481.39h1.8v1.15h-1.8zM89.59 519.32h1.8v1.15h-1.8zM89.59 551.5h1.8v1.15h-1.8zM91.4 613.57h1.8v1.15h-1.8zM91.4 619.31h1.8v1.15h-1.8zM93.2 540.01h1.8v1.15h-1.8zM93.2 598.63h1.8v1.15h-1.8zM93.2 600.92h1.8v1.15h-1.8zM95.01 477.95h1.8v1.15h-1.8zM95.01 536.56h1.8v1.15h-1.8zM95.01 582.53h1.8v1.15h-1.8zM95.01 591.73h1.8v1.15h-1.8zM96.81 498.63h1.8v1.15h-1.8zM96.81 510.13h1.8v1.15h-1.8zM96.81 512.43h1.8v1.15h-1.8zM98.62 550.35h1.8v1.15h-1.8zM100.42 499.78h1.8v1.15h-1.8zM100.42 619.31h1.8v1.15h-1.8zM102.23 518.17h1.8v1.15h-1.8zM102.23 529.67h1.8v1.15h-1.8zM102.23 630.81h1.8v1.15h-1.8zM104.03 475.65h1.8v1.15h-1.8z"/>
<path fill="#d8d060" d="M19.2 489.44h1.8v1.15h-1.8zM19.2 550.35h1.8v1.15h-1.8zM19.2 600.92h1.8v1.15h-1.8zM22.81 491.74h1.8v1.15h-1.8zM24.61 475.65h1.8v1.15h-1.8zM26.42 480.24h1.8v1.15h-1.8zM28.23 598.63h1.8v1.15h-1.8zM28.23 622.76h1.8v1.15h-1.8zM30.03 469.9h1.8v1.15h-1.8zM30.03 522.77h1.8v1.15h-1.8zM30.03 526.22h1.8v1.15h-1.8zM30.03 584.83h1.8v1.15h-1.8zM30.03 612.42h1.8v1.15h-1.8zM30.03 619.31h1.8v1.15h-1.8zM31.84 474.5h1.8v1.15h-1.8zM31.84 519.32h1.8v1.15h-1.8zM31.84 583.68h1.8v1.15h-1.8zM33.64 496.33h1.8v1.15h-1.8zM33.64 519.32h1.8v1.15h-1.8zM35.45 491.74h1.8v1.15h-1.8zM35.45 497.48h1.8v1.15h-1.8zM35.45 608.97h1.8v1.15h-1.8zM35.45 617.01h1.8v1.15h-1.8zM35.45 625.06h1.8v1.15h-1.8zM35.45 630.81h1.8v1.15h-1.8zM37.25 471.05h1.8v1.15h-1.8zM37.25 479.09h1.8v1.15h-1.8zM37.25 488.29h1.8v1.15h-1.8zM37.25 490.59h1.8v1.15h-1.8zM37.25 497.48h1.8v1.15h-1.8zM37.25 514.72h1.8v1.15h-1.8zM37.25 540.01h1.8v1.15h-1.8zM37.25 572.19h1.8v1.15h-1.8zM37.25 597.48h1.8v1.15h-1.8zM37.25 620.46h1.8v1.15h-1.8zM37.25 637.7h1.8v1.15h-1.8zM39.05 488.29h1.8v1.15h-1.8zM39.05 623.91h1.8v1.15h-1.8zM40.86 507.83h1.8v1.15h-1.8zM40.86 529.67h1.8v1.15h-1.8zM40.86 545.76h1.8v1.15h-1.8zM40.86 559.55h1.8v1.15h-1.8zM40.86 560.7h1.8v1.15h-1.8zM40.86 579.09h1.8v1.15h-1.8zM40.86 603.22h1.8v1.15h-1.8zM40.86 612.42h1.8v1.15h-1.8zM40.86 621.61h1.8v1.15h-1.8zM40.86 622.76h1.8v1.15h-1.8zM40.86 625.06h1.8v1.15h-1.8zM42.66 542.31h1.8v1.15h-1.8zM42.66 543.46h1.8v1.15h-1.8zM42.66 581.39h1.8v1.15h-1.8zM42.66 591.73h1.8v1.15h-1.8zM42.66 599.77h1.8v1.15h-1.8zM42.66 626.21h1.8v1.15h-1.8zM42.66 634.25h1.8v1.15h-1.8zM44.47 492.89h1.8v1.15h-1.8zM44.47 506.68h1.8v1.15h-1.8zM44.47 541.16h1.8v1.15h-1.8zM44.47 542.31h1.8v1.15h-1.8zM44.47 561.85h1.8v1.15h-1.8zM44.47 575.64h1.8v1.15h-1.8zM44.47 608.97h1.8v1.15h-1.8zM46.27 505.53h1.8v1.15h-1.8zM46.27 537.71h1.8v1.15h-1.8zM46.27 557.25h1.8v1.15h-1.8zM46.27 588.28h1.8v1.15h-1.8zM48.08 492.89h1.8v1.15h-1.8zM48.08 531.96h1.8v1.15h-1.8zM48.08 537.71h1.8v1.15h-1.8zM48.08 552.65h1.8v1.15h-1.8zM48.08 580.24h1.8v1.15h-1.8zM48.08 600.92h1.8v1.15h-1.8zM49.88 482.54h1.8v1.15h-1.8zM49.88 490.59h1.8v1.15h-1.8zM49.88 550.35h1.8v1.15h-1.8zM49.88 551.5h1.8v1.15h-1.8zM49.88 622.76h1.8v1.15h-1.8zM51.69 477.95h1.8v1.15h-1.8zM51.69 552.65h1.8v1.15h-1.8zM51.69 561.85h1.8v1.15h-1.8zM53.5 494.04h1.8v1.15h-1.8zM53.5 538.86h1.8v1.15h-1.8zM53.5 614.72h1.8v1.15h-1.8zM55.3 475.65h1.8v1.15h-1.8zM55.3 477.95h1.8v1.15h-1.8zM55.3 530.81h1.8v1.15h-1.8zM55.3 548.05h1.8v1.15h-1.8zM55.3 576.79h1.8v1.15h-1.8zM55.3 596.33h1.8v1.15h-1.8zM55.3 610.12h1.8v1.15h-1.8zM55.3 613.57h1.8v1.15h-1.8zM57.11 475.65h1.8v1.15h-1.8zM57.11 492.89h1.8v1.15h-1.8zM57.11 497.48h1.8v1.15h-1.8zM57.11 515.87h1.8v1.15h-1.8zM57.11 542.31h1.8v1.15h-1.8zM57.11 559.55h1.8v1.15h-1.8zM57.11 564.15h1.8v1.15h-1.8zM57.11 617.01h1.8v1.15h-1.8zM57.11 621.61h1.8v1.15h-1.8zM58.91 480.24h1.8v1.15h-1.8zM58.91 563h1.8v1.15h-1.8zM58.91 580.24h1.8v1.15h-1.8zM58.91 603.22h1.8v1.15h-1.8zM60.72 469.9h1.8v1.15h-1.8zM60.72 472.2h1.8v1.15h-1.8zM60.72 499.78h1.8v1.15h-1.8zM60.72 522.77h1.8v1.15h-1.8zM60.72 545.76h1.8v1.15h-1.8zM60.72 564.15h1.8v1.15h-1.8zM60.72 595.18h1.8v1.15h-1.8zM62.52 502.08h1.8v1.15h-1.8zM62.52 583.68h1.8v1.15h-1.8zM62.52 602.07h1.8v1.15h-1.8zM64.33 519.32h1.8v1.15h-1.8zM64.33 614.72h1.8v1.15h-1.8zM64.33 622.76h1.8v1.15h-1.8zM64.33 634.25h1.8v1.15h-1.8zM66.13 484.84h1.8v1.15h-1.8zM66.13 495.19h1.8v1.15h-1.8zM66.13 550.35h1.8v1.15h-1.8zM66.13 573.34h1.8v1.15h-1.8zM66.13 597.48h1.8v1.15h-1.8zM66.13 604.37h1.8v1.15h-1.8zM66.13 631.96h1.8v1.15h-1.8zM67.94 491.74h1.8v1.15h-1.8zM67.94 496.33h1.8v1.15h-1.8zM67.94 518.17h1.8v1.15h-1.8zM67.94 530.81h1.8v1.15h-1.8zM67.94 544.61h1.8v1.15h-1.8zM67.94 598.63h1.8v1.15h-1.8zM67.94 607.82h1.8v1.15h-1.8zM67.94 636.55h1.8v1.15h-1.8zM69.74 476.8h1.8v1.15h-1.8zM69.74 549.2h1.8v1.15h-1.8zM69.74 573.34h1.8v1.15h-1.8zM69.74 577.94h1.8v1.15h-1.8zM69.74 597.48h1.8v1.15h-1.8zM69.74 618.16h1.8v1.15h-1.8zM71.55 507.83h1.8v1.15h-1.8zM71.55 549.2h1.8v1.15h-1.8zM71.55 551.5h1.8v1.15h-1.8zM71.55 599.77h1.8v1.15h-1.8zM71.55 625.06h1.8v1.15h-1.8zM73.35 484.84h1.8v1.15h-1.8zM73.35 494.04h1.8v1.15h-1.8zM73.35 554.95h1.8v1.15h-1.8zM73.35 596.33h1.8v1.15h-1.8zM73.35 613.57h1.8v1.15h-1.8zM75.16 503.23h1.8v1.15h-1.8zM75.16 566.44h1.8v1.15h-1.8zM75.16 574.49h1.8v1.15h-1.8zM75.16 579.09h1.8v1.15h-1.8zM75.16 641.15h1.8v1.15h-1.8zM76.96 472.2h1.8v1.15h-1.8zM76.96 489.44h1.8v1.15h-1.8zM76.96 517.02h1.8v1.15h-1.8zM76.96 521.62h1.8v1.15h-1.8zM76.96 558.4h1.8v1.15h-1.8zM78.77 476.8h1.8v1.15h-1.8zM78.77 479.09h1.8v1.15h-1.8zM78.77 482.54h1.8v1.15h-1.8zM78.77 491.74h1.8v1.15h-1.8zM78.77 519.32h1.8v1.15h-1.8zM78.77 536.56h1.8v1.15h-1.8zM78.77 613.57h1.8v1.15h-1.8zM78.77 614.72h1.8v1.15h-1.8zM80.57 499.78h1.8v1.15h-1.8zM80.57 503.23h1.8v1.15h-1.8zM80.57 510.13h1.8v1.15h-1.8zM80.57 538.86h1.8v1.15h-1.8zM80.57 571.04h1.8v1.15h-1.8zM80.57 579.09h1.8v1.15h-1.8zM80.57 588.28h1.8v1.15h-1.8zM82.38 506.68h1.8v1.15h-1.8zM82.38 525.07h1.8v1.15h-1.8zM82.38 561.85h1.8v1.15h-1.8zM82.38 577.94h1.8v1.15h-1.8zM82.38 629.66h1.8v1.15h-1.8zM84.18 511.28h1.8v1.15h-1.8zM84.18 595.18h1.8v1.15h-1.8zM84.18 604.37h1.8v1.15h-1.8zM84.18 631.96h1.8v1.15h-1.8zM85.98 484.84h1.8v1.15h-1.8zM85.98 498.63h1.8v1.15h-1.8zM85.98 504.38h1.8v1.15h-1.8zM85.98 560.7h1.8v1.15h-1.8zM85.98 623.91h1.8v1.15h-1.8zM87.79 510.13h1.8v1.15h-1.8zM87.79 538.86h1.8v1.15h-1.8zM87.79 552.65h1.8v1.15h-1.8zM87.79 572.19h1.8v1.15h-1.8zM87.79 589.43h1.8v1.15h-1.8zM87.79 612.42h1.8v1.15h-1.8zM89.59 480.24h1.8v1.15h-1.8zM89.59 565.29h1.8v1.15h-1.8zM89.59 607.82h1.8v1.15h-1.8zM89.59 625.06h1.8v1.15h-1.8zM89.59 628.51h1.8v1.15h-1.8zM89.59 641.15h1.8v1.15h-1.8zM91.4 472.2h1.8v1.15h-1.8zM91.4 473.35h1.8v1.15h-1.8zM91.4 477.95h1.8v1.15h-1.8zM91.4 511.28h1.8v1.15h-1.8zM91.4 527.37h1.8v1.15h-1.8zM91.4 596.33h1.8v1.15h-1.8zM91.4 598.63h1.8v1.15h-1.8zM91.4 600.92h1.8v1.15h-1.8zM91.4 612.42h1.8v1.15h-1.8zM93.2 482.54h1.8v1.15h-1.8zM93.2 495.19h1.8v1.15h-1.8zM93.2 497.48h1.8v1.15h-1.8zM93.2 508.98h1.8v1.15h-1.8zM93.2 525.07h1.8v1.15h-1.8zM93.2 566.44h1.8v1.15h-1.8zM93.2 573.34h1.8v1.15h-1.8zM93.2 634.25h1.8v1.15h-1.8zM95.01 503.23h1.8v1.15h-1.8zM95.01 520.47h1.8v1.15h-1.8zM95.01 544.61h1.8v1.15h-1.8zM95.01 579.09h1.8v1.15h-1.8zM95.01 585.98h1.8v1.15h-1.8zM95.01 595.18h1.8v1.15h-1.8zM95.01 597.48h1.8v1.15h-1.8zM95.01 627.36h1.8v1.15h-1.8zM96.81 475.65h1.8v1.15h-1.8zM96.81 484.84h1.8v1.15h-1.8zM96.81 540.01h1.8v1.15h-1.8zM96.81 546.91h1.8v1.15h-1.8zM96.81 560.7h1.8v1.15h-1.8zM96.81 621.61h1.8v1.15h-1.8zM98.62 579.09h1.8v1.15h-1.8zM98.62 621.61h1.8v1.15h-1.8zM98.62 636.55h1.8v1.15h-1.8zM98.62 638.85h1.8v1.15h-1.8zM100.42 507.83h1.8v1.15h-1.8zM100.42 517.02h1.8v1.15h-1.8zM100.42 538.86h1.8v1.15h-1.8zM100.42 579.09h1.8v1.15h-1.8zM100.42 580.24h1.8v1.15h-1.8zM100.42 618.16h1.8v1.15h-1.8zM100.42 634.25h1.8v1.15h-1.8zM102.23 487.14h1.8v1.15h-1.8zM102.23 530.81h1.8v1.15h-1.8zM102.23 538.86h1.8v1.15h-1.8zM104.03 508.98h1.8v1.15h-1.8zM104.03 618.16h1.8v1.15h-1.8zM104.03 636.55h1.8v1.15h-1.8z"/>
<path fill="#909098" d="M19.2 498.63h1.8v1.15h-1.8zM21 522.77h1.8v1.15h-1.8zM21 525.07h1.8v1.15h-1.8zM24.61 561.85h1.8v1.15h-1.8zM24.61 612.42h1.8v1.15h-1.8zM26.42 597.48h1.8v1.15h-1.8zM28.23 541.16h1.8v1.15h-1.8zM28.23 633.11h1.8v1.15h-1.8zM30.03 488.29h1.8v1.15h-1.8zM30.03 490.59h1.8v1.15h-1.8zM30.03 530.81h1.8v1.15h-1.8zM30.03 550.35h1.8v1.15h-1.8zM30.03 554.95h1.8v1.15h-1.8zM31.84 495.19h1.8v1.15h-1.8zM31.84 552.65h1.8v1.15h-1.8zM31.84 606.67h1.8v1.15h-1.8zM31.84 628.51h1.8v1.15h-1.8zM33.64 515.87h1.8v1.15h-1.8zM33.64 564.15h1.8v1.15h-1.8zM33.64 587.13h1.8v1.15h-1.8zM35.45 477.95h1.8v1.15h-1.8zM35.45 513.57h1.8v1.15h-1.8zM35.45 536.56h1.8v1.15h-1.8zM35.45 606.67h1.8v1.15h-1.8zM35.45 635.4h1.8v1.15h-1.8zM37.25 502.08h1.8v1.15h-1.8zM37.25 568.74h1.8v1.15h-1.8zM37.25 584.83h1.8v1.15h-1.8zM39.05 489.44h1.8v1.15h-1.8zM39.05 597.48h1.8v1.15h-1.8zM39.05 605.52h1.8v1.15h-1.8zM40.86 564.15h1.8v1.15h-1.8zM42.66 508.98h1.8v1.15h-1.8zM42.66 527.37h1.8v1.15h-1.8zM44.47 502.08h1.8v1.15h-1.8zM44.47 567.59h1.8v1.15h-1.8zM44.47 603.22h1.8v1.15h-1.8zM44.47 636.55h1.8v1.15h-1.8zM46.27 472.2h1.8v1.15h-1.8zM46.27 587.13h1.8v1.15h-1.8zM46.27 640h1.8v1.15h-1.8zM48.08 488.29h1.8v1.15h-1.8zM48.08 522.77h1.8v1.15h-1.8zM48.08 526.22h1.8v1.15h-1.8zM48.08 536.56h1.8v1.15h-1.8zM48.08 564.15h1.8v1.15h-1.8zM48.08 581.39h1.8v1.15h-1.8zM49.88 476.8h1.8v1.15h-1.8zM49.88 597.48h1.8v1.15h-1.8zM49.88 607.82h1.8v1.15h-1.8zM49.88 621.61h1.8v1.15h-1.8zM51.69 490.59h1.8v1.15h-1.8zM51.69 521.62h1.8v1.15h-1.8zM51.69 590.58h1.8v1.15h-1.8zM53.5 471.05h1.8v1.15h-1.8zM53.5 475.65h1.8v1.15h-1.8zM53.5 517.02h1.8v1.15h-1.8zM53.5 540.01h1.8v1.15h-1.8zM53.5 557.25h1.8v1.15h-1.8zM53.5 604.37h1.8v1.15h-1.8zM53.5 613.57h1.8v1.15h-1.8zM55.3 510.13h1.8v1.15h-1.8zM55.3 545.76h1.8v1.15h-1.8zM55.3 640h1.8v1.15h-1.8zM57.11 569.89h1.8v1.15h-1.8zM57.11 602.07h1.8v1.15h-1.8zM57.11 613.57h1.8v1.15h-1.8zM58.91 510.13h1.8v1.15h-1.8zM58.91 552.65h1.8v1.15h-1.8zM58.91 566.44h1.8v1.15h-1.8zM58.91 597.48h1.8v1.15h-1.8zM58.91 622.76h1.8v1.15h-1.8zM58.91 623.91h1.8v1.15h-1.8zM60.72 534.26h1.8v1.15h-1.8zM62.52 538.86h1.8v1.15h-1.8zM62.52 544.61h1.8v1.15h-1.8zM64.33 482.54h1.8v1.15h-1.8zM64.33 556.1h1.8v1.15h-1.8zM66.13 641.15h1.8v1.15h-1.8zM67.94 492.89h1.8v1.15h-1.8zM67.94 508.98h1.8v1.15h-1.8zM67.94 533.11h1.8v1.15h-1.8zM67.94 542.31h1.8v1.15h-1.8zM67.94 579.09h1.8v1.15h-1.8zM69.74 497.48h1.8v1.15h-1.8zM69.74 499.78h1.8v1.15h-1.8zM69.74 506.68h1.8v1.15h-1.8zM69.74 515.87h1.8v1.15h-1.8zM69.74 568.74h1.8v1.15h-1.8zM69.74 584.83h1.8v1.15h-1.8zM69.74 631.96h1.8v1.15h-1.8zM71.55 527.37h1.8v1.15h-1.8zM71.55 546.91h1.8v1.15h-1.8zM71.55 566.44h1.8v1.15h-1.8zM75.16 571.04h1.8v1.15h-1.8zM75.16 598.63h1.8v1.15h-1.8zM75.16 607.82h1.8v1.15h-1.8zM75.16 612.42h1.8v1.15h-1.8zM76.96 469.9h1.8v1.15h-1.8zM76.96 487.14h1.8v1.15h-1.8zM76.96 584.83h1.8v1.15h-1.8zM76.96 589.43h1.8v1.15h-1.8zM78.77 477.95h1.8v1.15h-1.8zM78.77 585.98h1.8v1.15h-1.8zM78.77 603.22h1.8v1.15h-1.8zM78.77 604.37h1.8v1.15h-1.8zM78.77 638.85h1.8v1.15h-1.8zM80.57 472.2h1.8v1.15h-1.8zM80.57 495.19h1.8v1.15h-1.8zM80.57 504.38h1.8v1.15h-1.8zM80.57 533.11h1.8v1.15h-1.8zM80.57 540.01h1.8v1.15h-1.8zM80.57 549.2h1.8v1.15h-1.8zM80.57 576.79h1.8v1.15h-1.8zM80.57 640h1.8v1.15h-1.8zM82.38 495.19h1.8v1.15h-1.8zM82.38 500.93h1.8v1.15h-1.8zM82.38 552.65h1.8v1.15h-1.8zM82.38 558.4h1.8v1.15h-1.8zM82.38 582.53h1.8v1.15h-1.8zM84.18 525.07h1.8v1.15h-1.8zM84.18 542.31h1.8v1.15h-1.8zM84.18 633.11h1.8v1.15h-1.8zM85.98 549.2h1.8v1.15h-1.8zM85.98 581.39h1.8v1.15h-1.8zM87.79 534.26h1.8v1.15h-1.8zM89.59 584.83h1.8v1.15h-1.8zM91.4 518.17h1.8v1.15h-1.8zM91.4 519.32h1.8v1.15h-1.8zM91.4 554.95h1.8v1.15h-1.8zM93.2 488.29h1.8v1.15h-1.8zM93.2 510.13h1.8v1.15h-1.8zM93.2 583.68h1.8v1.15h-1.8zM95.01 475.65h1.8v1.15h-1.8zM95.01 506.68h1.8v1.15h-1.8zM95.01 537.71h1.8v1.15h-1.8zM95.01 618.16h1.8v1.15h-1.8zM96.81 473.35h1.8v1.15h-1.8zM96.81 531.96h1.8v1.15h-1.8zM96.81 541.16h1.8v1.15h-1.8zM96.81 542.31h1.8v1.15h-1.8zM96.81 602.07h1.8v1.15h-1.8zM98.62 490.59h1.8v1.15h-1.8zM98.62 537.71h1.8v1.15h-1.8zM98.62 575.64h1.8v1.15h-1.8zM98.62 613.57h1.8v1.15h-1.8zM100.42 554.95h1.8v1.15h-1.8zM100.42 615.87h1.8v1.15h-1.8zM100.42 629.66h1.8v1.15h-1.8zM100.42 633.11h1.8v1.15h-1.8zM102.23 512.43h1.8v1.15h-1.8zM102.23 553.8h1.8v1.15h-1.8zM102.23 576.79h1.8v1.15h-1.8zM102.23 626.21h1.8v1.15h-1.8z"/>
<path fill="#f8f048" d="M19.2 522.77h1.8v1.15h-1.8zM22.81 631.96h1.8v1.15h-1.8zM24.61 530.81h1.8v1.15h-1.8zM26.42 491.74h1.8v1.15h-1.8zM30.03 613.57h1.8v1.15h-1.8zM30.03 635.4h1.8v1.15h-1.8zM31.84 485.99h1.8v1.15h-1.8zM31.84 511.28h1.8v1.15h-1.8zM31.84 551.5h1.8v1.15h-1.8zM31.84 588.28h1.8v1.15h-1.8zM33.64 491.74h1.8v1.15h-1.8zM33.64 526.22h1.8v1.15h-1.8zM33.64 538.86h1.8v1.15h-1.8zM33.64 589.43h1.8v1.15h-1.8zM33.64 602.07h1.8v1.15h-1.8zM35.45 504.38h1.8v1.15h-1.8zM35.45 538.86h1.8v1.15h-1.8zM35.45 543.46h1.8v1.15h-1.8zM37.25 475.65h1.8v1.15h-1.8zM37.25 534.26h1.8v1.15h-1.8zM37.25 543.46h1.8v1.15h-1.8zM37.25 595.18h1.8v1.15h-1.8zM37.25 625.06h1.8v1.15h-1.8zM37.25 627.36h1.8v1.15h-1.8zM39.05 626.21h1.8v1.15h-1.8zM40.86 471.05h1.8v1.15h-1.8zM40.86 528.52h1.8v1.15h-1.8zM40.86 550.35h1.8v1.15h-1.8zM42.66 479.09h1.8v1.15h-1.8zM42.66 577.94h1.8v1.15h-1.8zM42.66 598.63h1.8v1.15h-1.8zM42.66 640h1.8v1.15h-1.8zM44.47 565.29h1.8v1.15h-1.8zM44.47 621.61h1.8v1.15h-1.8zM46.27 513.57h1.8v1.15h-1.8zM46.27 556.1h1.8v1.15h-1.8zM48.08 487.14h1.8v1.15h-1.8zM48.08 527.37h1.8v1.15h-1.8zM49.88 506.68h1.8v1.15h-1.8zM49.88 572.19h1.8v1.15h-1.8zM49.88 604.37h1.8v1.15h-1.8zM49.88 615.87h1.8v1.15h-1.8zM49.88 629.66h1.8v1.15h-1.8zM51.69 471.05h1.8v1.15h-1.8zM51.69 500.93h1.8v1.15h-1.8zM51.69 523.92h1.8v1.15h-1.8zM53.5 469.9h1.8v1.15h-1.8zM53.5 488.29h1.8v1.15h-1.8zM53.5 568.74h1.8v1.15h-1.8zM53.5 611.27h1.8v1.15h-1.8zM53.5 619.31h1.8v1.15h-1.8zM55.3 476.8h1.8v1.15h-1.8zM55.3 633.11h1.8v1.15h-1.8zM57.11 526.22h1.8v1.15h-1.8zM57.11 640h1.8v1.15h-1.8zM58.91 477.95h1.8v1.15h-1.8zM58.91 485.99h1.8v1.15h-1.8zM58.91 638.85h1.8v1.15h-1.8zM60.72 496.33h1.8v1.15h-1.8zM60.72 581.39h1.8v1.15h-1.8zM62.52 514.72h1.8v1.15h-1.8zM62.52 525.07h1.8v1.15h-1.8zM62.52 634.25h1.8v1.15h-1.8zM64.33 530.81h1.8v1.15h-1.8zM64.33 550.35h1.8v1.15h-1.8zM64.33 571.04h1.8v1.15h-1.8zM64.33 635.4h1.8v1.15h-1.8zM66.13 472.2h1.8v1.15h-1.8zM66.13 500.93h1.8v1.15h-1.8zM66.13 523.92h1.8v1.15h-1.8zM66.13 617.01h1.8v1.15h-1.8zM66.13 627.36h1.8v1.15h-1.8zM67.94 477.95h1.8v1.15h-1.8zM67.94 512.43h1.8v1.15h-1.8zM67.94 519.32h1.8v1.15h-1.8zM69.74 473.35h1.8v1.15h-1.8zM69.74 483.69h1.8v1.15h-1.8zM69.74 544.61h1.8v1.15h-1.8zM69.74 564.15h1.8v1.15h-1.8zM69.74 626.21h1.8v1.15h-1.8zM69.74 630.81h1.8v1.15h-1.8zM71.55 518.17h1.8v1.15h-1.8zM71.55 520.47h1.8v1.15h-1.8zM71.55 598.63h1.8v1.15h-1.8zM73.35 477.95h1.8v1.15h-1.8zM73.35 541.16h1.8v1.15h-1.8zM73.35 560.7h1.8v1.15h-1.8zM73.35 564.15h1.8v1.15h-1.8zM73.35 576.79h1.8v1.15h-1.8zM73.35 600.92h1.8v1.15h-1.8zM73.35 640h1.8v1.15h-1.8zM75.16 587.13h1.8v1.15h-1.8zM75.16 631.96h1.8v1.15h-1.8zM76.96 471.05h1.8v1.15h-1.8zM76.96 477.95h1.8v1.15h-1.8zM76.96 504.38h1.8v1.15h-1.8zM76.96 530.81h1.8v1.15h-1.8zM76.96 545.76h1.8v1.15h-1.8zM76.96 560.7h1.8v1.15h-1.8zM76.96 573.34h1.8v1.15h-1.8zM76.96 590.58h1.8v1.15h-1.8zM76.96 623.91h1.8v1.15h-1.8zM78.77 551.5h1.8v1.15h-1.8zM80.57 592.88h1.8v1.15h-1.8zM82.38 498.63h1.8v1.15h-1.8zM82.38 564.15h1.8v1.15h-1.8zM82.38 588.28h1.8v1.15h-1.8zM82.38 589.43h1.8v1.15h-1.8zM84.18 489.44h1.8v1.15h-1.8zM84.18 553.8h1.8v1.15h-1.8zM84.18 559.55h1.8v1.15h-1.8zM84.18 610.12h1.8v1.15h-1.8zM85.98 507.83h1.8v1.15h-1.8zM85.98 558.4h1.8v1.15h-1.8zM85.98 579.09h1.8v1.15h-1.8zM85.98 597.48h1.8v1.15h-1.8zM87.79 550.35h1.8v1.15h-1.8zM89.59 476.8h1.8v1.15h-1.8zM89.59 483.69h1.8v1.15h-1.8zM89.59 596.33h1.8v1.15h-1.8zM89.59 598.63h1.8v1.15h-1.8zM89.59 637.7h1.8v1.15h-1.8zM91.4 488.29h1.8v1.15h-1.8zM91.4 494.04h1.8v1.15h-1.8zM91.4 626.21h1.8v1.15h-1.8zM93.2 498.63h1.8v1.15h-1.8zM93.2 576.79h1.8v1.15h-1.8zM93.2 611.27h1.8v1.15h-1.8zM95.01 554.95h1.8v1.15h-1.8zM95.01 571.04h1.8v1.15h-1.8zM95.01 619.31h1.8v1.15h-1.8zM95.01 633.11h1.8v1.15h-1.8zM96.81 472.2h1.8v1.15h-1.8zM96.81 500.93h1.8v1.15h-1.8zM96.81 604.37h1.8v1.15h-1.8zM96.81 606.67h1.8v1.15h-1.8zM96.81 631.96h1.8v1.15h-1.8zM98.62 473.35h1.8v1.15h-1.8zM98.62 535.41h1.8v1.15h-1.8zM98.62 536.56h1.8v1.15h-1.8zM100.42 535.41h1.8v1.15h-1.8zM100.42 541.16h1.8v1.15h-1.8zM100.42 548.05h1.8v1.15h-1.8zM100.42 584.83h1.8v1.15h-1.8zM102.23 491.74h1.8v1.15h-1.8zM102.23 503.23h1.8v1.15h-1.8zM102.23 548.05h1.8v1.15h-1.8zM102.23 559.55h1.8v1.15h-1.8zM102.23 585.98h1.8v1.15h-1.8zM104.03 502.08h1.8v1.15h-1.8zM104.03 590.58h1.8v1.15h-1.8zM104.03 595.18h1.8v1.15h-1.8zM104.03 633.11h1.8v1.15h-1.8z"/>
<path fill="#a0a090" d="M19.2 530.81h1.8v1.15h-1.8zM19.2 613.57h1.8v1.15h-1.8zM21 469.9h1.8v1.15h-1.8zM21 584.83h1.8v1.15h-1.8zM21 623.91h1.8v1.15h-1.8zM22.81 543.46h1.8v1.15h-1.8zM22.81 602.07h1.8v1.15h-1.8zM26.42 484.84h1.8v1.15h-1.8zM28.23 534.26h1.8v1.15h-1.8zM31.84 473.35h1.8v1.15h-1.8zM31.84 564.15h1.8v1.15h-1.8zM31.84 615.87h1.8v1.15h-1.8zM33.64 510.13h1.8v1.15h-1.8zM33.64 545.76h1.8v1.15h-1.8zM33.64 557.25h1.8v1.15h-1.8zM33.64 566.44h1.8v1.15h-1.8zM33.64 612.42h1.8v1.15h-1.8zM35.45 484.84h1.8v1.15h-1.8zM35.45 490.59h1.8v1.15h-1.8zM35.45 559.55h1.8v1.15h-1.8zM37.25 525.07h1.8v1.15h-1.8zM37.25 530.81h1.8v1.15h-1.8zM37.25 565.29h1.8v1.15h-1.8zM37.25 633.11h1.8v1.15h-1.8zM37.25 635.4h1.8v1.15h-1.8zM39.05 529.67h1.8v1.15h-1.8zM39.05 534.26h1.8v1.15h-1.8zM39.05 577.94h1.8v1.15h-1.8zM39.05 598.63h1.8v1.15h-1.8zM40.86 489.44h1.8v1.15h-1.8zM40.86 498.63h1.8v1.15h-1.8zM40.86 590.58h1.8v1.15h-1.8zM40.86 635.4h1.8v1.15h-1.8zM42.66 576.79h1.8v1.15h-1.8zM44.47 499.78h1.8v1.15h-1.8zM44.47 534.26h1.8v1.15h-1.8zM44.47 558.4h1.8v1.15h-1.8zM44.47 613.57h1.8v1.15h-1.8zM44.47 638.85h1.8v1.15h-1.8zM46.27 482.54h1.8v1.15h-1.8zM46.27 490.59h1.8v1.15h-1.8zM46.27 523.92h1.8v1.15h-1.8zM48.08 521.62h1.8v1.15h-1.8zM49.88 548.05h1.8v1.15h-1.8zM49.88 612.42h1.8v1.15h-1.8zM49.88 638.85h1.8v1.15h-1.8zM51.69 502.08h1.8v1.15h-1.8zM51.69 514.72h1.8v1.15h-1.8zM51.69 534.26h1.8v1.15h-1.8zM51.69 610.12h1.8v1.15h-1.8zM53.5 476.8h1.8v1.15h-1.8zM53.5 542.31h1.8v1.15h-1.8zM53.5 580.24h1.8v1.15h-1.8zM53.5 620.46h1.8v1.15h-1.8zM57.11 490.59h1.8v1.15h-1.8zM57.11 507.83h1.8v1.15h-1.8zM57.11 548.05h1.8v1.15h-1.8zM57.11 553.8h1.8v1.15h-1.8zM57.11 596.33h1.8v1.15h-1.8zM58.91 488.29h1.8v1.15h-1.8zM58.91 560.7h1.8v1.15h-1.8zM60.72 557.25h1.8v1.15h-1.8zM60.72 560.7h1.8v1.15h-1.8zM60.72 598.63h1.8v1.15h-1.8zM62.52 504.38h1.8v1.15h-1.8zM62.52 579.09h1.8v1.15h-1.8zM62.52 580.24h1.8v1.15h-1.8zM62.52 585.98h1.8v1.15h-1.8zM64.33 469.9h1.8v1.15h-1.8zM64.33 474.5h1.8v1.15h-1.8zM64.33 561.85h1.8v1.15h-1.8zM64.33 581.39h1.8v1.15h-1.8zM64.33 629.66h1.8v1.15h-1.8zM66.13 527.37h1.8v1.15h-1.8zM66.13 553.8h1.8v1.15h-1.8zM66.13 594.03h1.8v1.15h-1.8zM66.13 602.07h1.8v1.15h-1.8zM67.94 497.48h1.8v1.15h-1.8zM69.74 469.9h1.8v1.15h-1.8zM69.74 482.54h1.8v1.15h-1.8zM69.74 487.14h1.8v1.15h-1.8zM69.74 508.98h1.8v1.15h-1.8zM69.74 529.67h1.8v1.15h-1.8zM69.74 600.92h1.8v1.15h-1.8zM69.74 620.46h1.8v1.15h-1.8zM71.55 522.77h1.8v1.15h-1.8zM73.35 506.68h1.8v1.15h-1.8zM73.35 528.52h1.8v1.15h-1.8zM73.35 548.05h1.8v1.15h-1.8zM73.35 594.03h1.8v1.15h-1.8zM73.35 610.12h1.8v1.15h-1.8zM73.35 637.7h1.8v1.15h-1.8zM75.16 496.33h1.8v1.15h-1.8zM75.16 510.13h1.8v1.15h-1.8zM76.96 481.39h1.8v1.15h-1.8zM76.96 534.26h1.8v1.15h-1.8zM76.96 577.94h1.8v1.15h-1.8zM76.96 587.13h1.8v1.15h-1.8zM76.96 633.11h1.8v1.15h-1.8zM78.77 518.17h1.8v1.15h-1.8zM78.77 568.74h1.8v1.15h-1.8zM78.77 584.83h1.8v1.15h-1.8zM80.57 492.89h1.8v1.15h-1.8zM80.57 597.48h1.8v1.15h-1.8zM80.57 628.51h1.8v1.15h-1.8zM80.57 636.55h1.8v1.15h-1.8zM82.38 483.69h1.8v1.15h-1.8zM82.38 512.43h1.8v1.15h-1.8zM82.38 545.76h1.8v1.15h-1.8zM82.38 625.06h1.8v1.15h-1.8zM82.38 633.11h1.8v1.15h-1.8zM84.18 483.69h1.8v1.15h-1.8zM84.18 529.67h1.8v1.15h-1.8zM85.98 471.05h1.8v1.15h-1.8zM85.98 598.63h1.8v1.15h-1.8zM87.79 545.76h1.8v1.15h-1.8zM87.79 548.05h1.8v1.15h-1.8zM89.59 473.35h1.8v1.15h-1.8zM89.59 477.95h1.8v1.15h-1.8zM89.59 517.02h1.8v1.15h-1.8zM89.59 563h1.8v1.15h-1.8zM89.59 619.31h1.8v1.15h-1.8zM91.4 503.23h1.8v1.15h-1.8zM91.4 582.53h1.8v1.15h-1.8zM93.2 496.33h1.8v1.15h-1.8zM93.2 515.87h1.8v1.15h-1.8zM93.2 617.01h1.8v1.15h-1.8zM93.2 622.76h1.8v1.15h-1.8zM95.01 608.97h1.8v1.15h-1.8zM96.81 504.38h1.8v1.15h-1.8zM98.62 484.84h1.8v1.15h-1.8zM98.62 540.01h1.8v1.15h-1.8zM98.62 561.85h1.8v1.15h-1.8zM98.62 634.25h1.8v1.15h-1.8zM100.42 550.35h1.8v1.15h-1.8zM100.42 610.12h1.8v1.15h-1.8zM100.42 612.42h1.8v1.15h-1.8zM100.42 635.4h1.8v1.15h-1.8zM102.23 572.19h1.8v1.15h-1.8zM104.03 541.16h1.8v1.15h-1.8zM104.03 588.28h1.8v1.15h-1.8zM104.03 626.21h1.8v1.15h-1.8zM104.03 630.81h1.8v1.15h-1.8z"/>
<path fill="#585090" d="M19.2 557.25h1.8v1.15h-1.8zM53.5 481.39h1.8v1.15h-1.8zM73.35 517.02h1.8v1.15h-1.8zM75.16 502.08h1.8v1.15h-1.8zM104.03 538.86h1.8v1.15h-1.8z"/>
<path fill="#b0b080" d="M19.2 594.03h1.8v1.15h-1.8zM24.61 503.23h1.8v1.15h-1.8zM24.61 631.96h1.8v1.15h-1.8zM26.42 546.91h1.8v1.15h-1.8zM28.23 482.54h1.8v1.15h-1.8zM28.23 521.62h1.8v1.15h-1.8zM30.03 602.07h1.8v1.15h-1.8zM31.84 481.39h1.8v1.15h-1.8zM31.84 614.72h1.8v1.15h-1.8zM31.84 636.55h1.8v1.15h-1.8zM33.64 634.25h1.8v1.15h-1.8zM35.45 529.67h1.8v1.15h-1.8zM35.45 638.85h1.8v1.15h-1.8zM37.25 588.28h1.8v1.15h-1.8zM39.05 582.53h1.8v1.15h-1.8zM39.05 591.73h1.8v1.15h-1.8zM39.05 628.51h1.8v1.15h-1.8zM40.86 534.26h1.8v1.15h-1.8zM40.86 571.04h1.8v1.15h-1.8zM40.86 598.63h1.8v1.15h-1.8zM42.66 573.34h1.8v1.15h-1.8zM44.47 530.81h1.8v1.15h-1.8zM44.47 610.12h1.8v1.15h-1.8zM44.47 633.11h1.8v1.15h-1.8zM46.27 484.84h1.8v1.15h-1.8zM46.27 633.11h1.8v1.15h-1.8zM48.08 525.07h1.8v1.15h-1.8zM48.08 634.25h1.8v1.15h-1.8zM49.88 627.36h1.8v1.15h-1.8zM51.69 491.74h1.8v1.15h-1.8zM51.69 525.07h1.8v1.15h-1.8zM51.69 527.37h1.8v1.15h-1.8zM51.69 544.61h1.8v1.15h-1.8zM51.69 605.52h1.8v1.15h-1.8zM51.69 626.21h1.8v1.15h-1.8zM53.5 545.76h1.8v1.15h-1.8zM55.3 559.55h1.8v1.15h-1.8zM55.3 573.34h1.8v1.15h-1.8zM57.11 471.05h1.8v1.15h-1.8zM57.11 472.2h1.8v1.15h-1.8zM57.11 511.28h1.8v1.15h-1.8zM57.11 560.7h1.8v1.15h-1.8zM58.91 515.87h1.8v1.15h-1.8zM58.91 606.67h1.8v1.15h-1.8zM60.72 506.68h1.8v1.15h-1.8zM60.72 544.61h1.8v1.15h-1.8zM60.72 553.8h1.8v1.15h-1.8zM62.52 576.79h1.8v1.15h-1.8zM62.52 581.39h1.8v1.15h-1.8zM62.52 640h1.8v1.15h-1.8zM64.33 504.38h1.8v1.15h-1.8zM64.33 543.46h1.8v1.15h-1.8zM64.33 564.15h1.8v1.15h-1.8zM64.33 587.13h1.8v1.15h-1.8zM66.13 538.86h1.8v1.15h-1.8zM66.13 638.85h1.8v1.15h-1.8zM67.94 587.13h1.8v1.15h-1.8zM69.74 557.25h1.8v1.15h-1.8zM69.74 634.25h1.8v1.15h-1.8zM71.55 476.8h1.8v1.15h-1.8zM71.55 502.08h1.8v1.15h-1.8zM73.35 608.97h1.8v1.15h-1.8zM73.35 626.21h1.8v1.15h-1.8zM75.16 529.67h1.8v1.15h-1.8zM75.16 633.11h1.8v1.15h-1.8zM78.77 542.31h1.8v1.15h-1.8zM78.77 606.67h1.8v1.15h-1.8zM80.57 566.44h1.8v1.15h-1.8zM82.38 479.09h1.8v1.15h-1.8zM82.38 631.96h1.8v1.15h-1.8zM84.18 484.84h1.8v1.15h-1.8zM84.18 608.97h1.8v1.15h-1.8zM85.98 488.29h1.8v1.15h-1.8zM85.98 574.49h1.8v1.15h-1.8zM85.98 608.97h1.8v1.15h-1.8zM85.98 610.12h1.8v1.15h-1.8zM87.79 482.54h1.8v1.15h-1.8zM87.79 569.89h1.8v1.15h-1.8zM91.4 577.94h1.8v1.15h-1.8zM91.4 583.68h1.8v1.15h-1.8zM91.4 637.7h1.8v1.15h-1.8zM93.2 475.65h1.8v1.15h-1.8zM93.2 523.92h1.8v1.15h-1.8zM93.2 569.89h1.8v1.15h-1.8zM93.2 635.4h1.8v1.15h-1.8zM95.01 504.38h1.8v1.15h-1.8zM95.01 580.24h1.8v1.15h-1.8zM95.01 621.61h1.8v1.15h-1.8zM95.01 623.91h1.8v1.15h-1.8zM98.62 507.83h1.8v1.15h-1.8zM98.62 545.76h1.8v1.15h-1.8zM100.42 557.25h1.8v1.15h-1.8zM102.23 500.93h1.8v1.15h-1.8zM102.23 534.26h1.8v1.15h-1.8zM102.23 614.72h1.8v1.15h-1.8zM102.23 638.85h1.8v1.15h-1.8zM104.03 474.5h1.8v1.15h-1.8zM104.03 521.62h1.8v1.15h-1.8zM104.03 560.7h1.8v1.15h-1.8zM104.03 629.66h1.8v1.15h-1.8z"/>
<path fill="#888898" d="M19.2 612.42h1.8v1.15h-1.8zM21 558.4h1.8v1.15h-1.8zM21 619.31h1.8v1.15h-1.8zM22.81 545.76h1.8v1.15h-1.8zM22.81 605.52h1.8v1.15h-1.8zM24.61 553.8h1.8v1.15h-1.8zM26.42 523.92h1.8v1.15h-1.8zM26.42 560.7h1.8v1.15h-1.8zM26.42 585.98h1.8v1.15h-1.8zM28.23 548.05h1.8v1.15h-1.8zM30.03 485.99h1.8v1.15h-1.8zM30.03 499.78h1.8v1.15h-1.8zM31.84 538.86h1.8v1.15h-1.8zM31.84 612.42h1.8v1.15h-1.8zM31.84 627.36h1.8v1.15h-1.8zM31.84 640h1.8v1.15h-1.8zM33.64 559.55h1.8v1.15h-1.8zM33.64 613.57h1.8v1.15h-1.8zM33.64 619.31h1.8v1.15h-1.8zM33.64 628.51h1.8v1.15h-1.8zM35.45 622.76h1.8v1.15h-1.8zM37.25 513.57h1.8v1.15h-1.8zM37.25 522.77h1.8v1.15h-1.8zM37.25 613.57h1.8v1.15h-1.8zM39.05 503.23h1.8v1.15h-1.8zM39.05 514.72h1.8v1.15h-1.8zM39.05 583.68h1.8v1.15h-1.8zM40.86 629.66h1.8v1.15h-1.8zM42.66 494.04h1.8v1.15h-1.8zM42.66 540.01h1.8v1.15h-1.8zM42.66 633.11h1.8v1.15h-1.8zM44.47 522.77h1.8v1.15h-1.8zM44.47 629.66h1.8v1.15h-1.8zM46.27 474.5h1.8v1.15h-1.8zM46.27 517.02h1.8v1.15h-1.8zM46.27 536.56h1.8v1.15h-1.8zM46.27 641.15h1.8v1.15h-1.8zM48.08 563h1.8v1.15h-1.8zM48.08 598.63h1.8v1.15h-1.8zM48.08 630.81h1.8v1.15h-1.8zM48.08 633.11h1.8v1.15h-1.8zM48.08 641.15h1.8v1.15h-1.8zM49.88 469.9h1.8v1.15h-1.8zM49.88 472.2h1.8v1.15h-1.8zM49.88 577.94h1.8v1.15h-1.8zM51.69 474.5h1.8v1.15h-1.8zM51.69 488.29h1.8v1.15h-1.8zM51.69 510.13h1.8v1.15h-1.8zM51.69 529.67h1.8v1.15h-1.8zM51.69 538.86h1.8v1.15h-1.8zM51.69 584.83h1.8v1.15h-1.8zM53.5 495.19h1.8v1.15h-1.8zM53.5 543.46h1.8v1.15h-1.8zM55.3 523.92h1.8v1.15h-1.8zM57.11 476.8h1.8v1.15h-1.8zM57.11 500.93h1.8v1.15h-1.8zM57.11 589.43h1.8v1.15h-1.8zM58.91 498.63h1.8v1.15h-1.8zM58.91 550.35h1.8v1.15h-1.8zM58.91 557.25h1.8v1.15h-1.8zM58.91 596.33h1.8v1.15h-1.8zM60.72 542.31h1.8v1.15h-1.8zM62.52 533.11h1.8v1.15h-1.8zM62.52 572.19h1.8v1.15h-1.8zM64.33 540.01h1.8v1.15h-1.8zM64.33 546.91h1.8v1.15h-1.8zM66.13 474.5h1.8v1.15h-1.8zM66.13 479.09h1.8v1.15h-1.8zM66.13 520.47h1.8v1.15h-1.8zM66.13 537.71h1.8v1.15h-1.8zM66.13 548.05h1.8v1.15h-1.8zM66.13 551.5h1.8v1.15h-1.8zM66.13 618.16h1.8v1.15h-1.8zM66.13 633.11h1.8v1.15h-1.8zM67.94 515.87h1.8v1.15h-1.8zM69.74 475.65h1.8v1.15h-1.8zM69.74 492.89h1.8v1.15h-1.8zM69.74 582.53h1.8v1.15h-1.8zM71.55 500.93h1.8v1.15h-1.8zM71.55 525.07h1.8v1.15h-1.8zM71.55 530.81h1.8v1.15h-1.8zM71.55 603.22h1.8v1.15h-1.8zM73.35 540.01h1.8v1.15h-1.8zM73.35 563h1.8v1.15h-1.8zM73.35 574.49h1.8v1.15h-1.8zM75.16 491.74h1.8v1.15h-1.8zM75.16 497.48h1.8v1.15h-1.8zM75.16 538.86h1.8v1.15h-1.8zM75.16 567.59h1.8v1.15h-1.8zM75.16 604.37h1.8v1.15h-1.8zM75.16 623.91h1.8v1.15h-1.8zM76.96 492.89h1.8v1.15h-1.8zM76.96 576.79h1.8v1.15h-1.8zM76.96 600.92h1.8v1.15h-1.8zM78.77 483.69h1.8v1.15h-1.8zM78.77 531.96h1.8v1.15h-1.8zM78.77 534.26h1.8v1.15h-1.8zM80.57 599.77h1.8v1.15h-1.8zM82.38 471.05h1.8v1.15h-1.8zM82.38 531.96h1.8v1.15h-1.8zM82.38 627.36h1.8v1.15h-1.8zM82.38 637.7h1.8v1.15h-1.8zM84.18 530.81h1.8v1.15h-1.8zM84.18 582.53h1.8v1.15h-1.8zM85.98 474.5h1.8v1.15h-1.8zM85.98 475.65h1.8v1.15h-1.8zM85.98 548.05h1.8v1.15h-1.8zM85.98 605.52h1.8v1.15h-1.8zM87.79 494.04h1.8v1.15h-1.8zM87.79 497.48h1.8v1.15h-1.8zM87.79 535.41h1.8v1.15h-1.8zM89.59 523.92h1.8v1.15h-1.8zM89.59 528.52h1.8v1.15h-1.8zM89.59 560.7h1.8v1.15h-1.8zM89.59 608.97h1.8v1.15h-1.8zM89.59 629.66h1.8v1.15h-1.8zM91.4 475.65h1.8v1.15h-1.8zM91.4 487.14h1.8v1.15h-1.8zM91.4 594.03h1.8v1.15h-1.8zM91.4 628.51h1.8v1.15h-1.8zM93.2 513.57h1.8v1.15h-1.8zM93.2 526.22h1.8v1.15h-1.8zM93.2 537.71h1.8v1.15h-1.8zM93.2 558.4h1.8v1.15h-1.8zM93.2 574.49h1.8v1.15h-1.8zM93.2 587.13h1.8v1.15h-1.8zM93.2 599.77h1.8v1.15h-1.8zM93.2 608.97h1.8v1.15h-1.8zM95.01 484.84h1.8v1.15h-1.8zM95.01 490.59h1.8v1.15h-1.8zM95.01 491.74h1.8v1.15h-1.8zM96.81 479.09h1.8v1.15h-1.8zM96.81 598.63h1.8v1.15h-1.8zM96.81 608.97h1.8v1.15h-1.8zM96.81 618.16h1.8v1.15h-1.8zM98.62 514.72h1.8v1.15h-1.8zM98.62 530.81h1.8v1.15h-1.8zM98.62 572.19h1.8v1.15h-1.8zM98.62 580.24h1.8v1.15h-1.8zM98.62 598.63h1.8v1.15h-1.8zM98.62 618.16h1.8v1.15h-1.8zM98.62 619.31h1.8v1.15h-1.8zM98.62 628.51h1.8v1.15h-1.8zM100.42 482.54h1.8v1.15h-1.8zM100.42 522.77h1.8v1.15h-1.8zM100.42 552.65h1.8v1.15h-1.8zM100.42 553.8h1.8v1.15h-1.8zM100.42 596.33h1.8v1.15h-1.8zM100.42 605.52h1.8v1.15h-1.8zM100.42 611.27h1.8v1.15h-1.8zM100.42 640h1.8v1.15h-1.8zM102.23 507.83h1.8v1.15h-1.8zM102.23 554.95h1.8v1.15h-1.8zM102.23 589.43h1.8v1.15h-1.8zM102.23 625.06h1.8v1.15h-1.8zM104.03 505.53h1.8v1.15h-1.8zM104.03 543.46h1.8v1.15h-1.8zM104.03 574.49h1.8v1.15h-1.8zM104.03 611.27h1.8v1.15h-1.8zM104.03 614.72h1.8v1.15h-1.8z"/>
<path fill="#d0c868" d="M19.2 623.91h1.8v1.15h-1.8zM21 625.06h1.8v1.15h-1.8zM22.81 484.84h1.8v1.15h-1.8zM24.61 641.15h1.8v1.15h-1.8zM30.03 471.05h1.8v1.15h-1.8zM30.03 492.89h1.8v1.15h-1.8zM30.03 500.93h1.8v1.15h-1.8zM30.03 504.38h1.8v1.15h-1.8zM30.03 557.25h1.8v1.15h-1.8zM30.03 558.4h1.8v1.15h-1.8zM30.03 595.18h1.8v1.15h-1.8zM30.03 622.76h1.8v1.15h-1.8zM30.03 625.06h1.8v1.15h-1.8zM30.03 631.96h1.8v1.15h-1.8zM30.03 641.15h1.8v1.15h-1.8zM31.84 497.48h1.8v1.15h-1.8zM31.84 502.08h1.8v1.15h-1.8zM31.84 580.24h1.8v1.15h-1.8zM31.84 603.22h1.8v1.15h-1.8zM33.64 514.72h1.8v1.15h-1.8zM33.64 537.71h1.8v1.15h-1.8zM33.64 581.39h1.8v1.15h-1.8zM33.64 615.87h1.8v1.15h-1.8zM35.45 527.37h1.8v1.15h-1.8zM35.45 546.91h1.8v1.15h-1.8zM35.45 583.68h1.8v1.15h-1.8zM35.45 587.13h1.8v1.15h-1.8zM35.45 595.18h1.8v1.15h-1.8zM35.45 641.15h1.8v1.15h-1.8zM37.25 489.44h1.8v1.15h-1.8zM37.25 517.02h1.8v1.15h-1.8zM37.25 544.61h1.8v1.15h-1.8zM37.25 640h1.8v1.15h-1.8zM39.05 500.93h1.8v1.15h-1.8zM39.05 511.28h1.8v1.15h-1.8zM39.05 606.67h1.8v1.15h-1.8zM40.86 469.9h1.8v1.15h-1.8zM40.86 474.5h1.8v1.15h-1.8zM40.86 487.14h1.8v1.15h-1.8zM40.86 503.23h1.8v1.15h-1.8zM40.86 504.38h1.8v1.15h-1.8zM40.86 548.05h1.8v1.15h-1.8zM40.86 557.25h1.8v1.15h-1.8zM40.86 591.73h1.8v1.15h-1.8zM40.86 613.57h1.8v1.15h-1.8zM40.86 615.87h1.8v1.15h-1.8zM40.86 620.46h1.8v1.15h-1.8zM42.66 526.22h1.8v1.15h-1.8zM42.66 533.11h1.8v1.15h-1.8zM42.66 602.07h1.8v1.15h-1.8zM42.66 607.82h1.8v1.15h-1.8zM44.47 507.83h1.8v1.15h-1.8zM44.47 521.62h1.8v1.15h-1.8zM44.47 592.88h1.8v1.15h-1.8zM44.47 595.18h1.8v1.15h-1.8zM44.47 637.7h1.8v1.15h-1.8zM46.27 480.24h1.8v1.15h-1.8zM46.27 510.13h1.8v1.15h-1.8zM46.27 544.61h1.8v1.15h-1.8zM46.27 569.89h1.8v1.15h-1.8zM48.08 490.59h1.8v1.15h-1.8zM48.08 503.23h1.8v1.15h-1.8zM48.08 544.61h1.8v1.15h-1.8zM48.08 595.18h1.8v1.15h-1.8zM49.88 471.05h1.8v1.15h-1.8zM49.88 487.14h1.8v1.15h-1.8zM49.88 491.74h1.8v1.15h-1.8zM49.88 510.13h1.8v1.15h-1.8zM49.88 512.43h1.8v1.15h-1.8zM49.88 531.96h1.8v1.15h-1.8zM49.88 552.65h1.8v1.15h-1.8zM51.69 472.2h1.8v1.15h-1.8zM51.69 479.09h1.8v1.15h-1.8zM51.69 503.23h1.8v1.15h-1.8zM51.69 505.53h1.8v1.15h-1.8zM51.69 553.8h1.8v1.15h-1.8zM51.69 569.89h1.8v1.15h-1.8zM53.5 480.24h1.8v1.15h-1.8zM53.5 529.67h1.8v1.15h-1.8zM53.5 533.11h1.8v1.15h-1.8zM53.5 536.56h1.8v1.15h-1.8zM53.5 549.2h1.8v1.15h-1.8zM53.5 567.59h1.8v1.15h-1.8zM53.5 615.87h1.8v1.15h-1.8zM53.5 627.36h1.8v1.15h-1.8zM53.5 638.85h1.8v1.15h-1.8zM55.3 469.9h1.8v1.15h-1.8zM55.3 481.39h1.8v1.15h-1.8zM55.3 500.93h1.8v1.15h-1.8zM55.3 554.95h1.8v1.15h-1.8zM55.3 566.44h1.8v1.15h-1.8zM55.3 581.39h1.8v1.15h-1.8zM55.3 615.87h1.8v1.15h-1.8zM55.3 628.51h1.8v1.15h-1.8zM57.11 538.86h1.8v1.15h-1.8zM57.11 556.1h1.8v1.15h-1.8zM57.11 567.59h1.8v1.15h-1.8zM57.11 627.36h1.8v1.15h-1.8zM58.91 471.05h1.8v1.15h-1.8zM58.91 494.04h1.8v1.15h-1.8zM58.91 500.93h1.8v1.15h-1.8zM58.91 526.22h1.8v1.15h-1.8zM58.91 582.53h1.8v1.15h-1.8zM58.91 626.21h1.8v1.15h-1.8zM58.91 634.25h1.8v1.15h-1.8zM58.91 637.7h1.8v1.15h-1.8zM60.72 517.02h1.8v1.15h-1.8zM60.72 548.05h1.8v1.15h-1.8zM60.72 627.36h1.8v1.15h-1.8zM62.52 512.43h1.8v1.15h-1.8zM64.33 476.8h1.8v1.15h-1.8zM64.33 477.95h1.8v1.15h-1.8zM64.33 485.99h1.8v1.15h-1.8zM64.33 566.44h1.8v1.15h-1.8zM64.33 628.51h1.8v1.15h-1.8zM66.13 549.2h1.8v1.15h-1.8zM66.13 607.82h1.8v1.15h-1.8zM66.13 623.91h1.8v1.15h-1.8zM67.94 487.14h1.8v1.15h-1.8zM67.94 549.2h1.8v1.15h-1.8zM67.94 572.19h1.8v1.15h-1.8zM67.94 635.4h1.8v1.15h-1.8zM69.74 480.24h1.8v1.15h-1.8zM69.74 494.04h1.8v1.15h-1.8zM69.74 554.95h1.8v1.15h-1.8zM69.74 627.36h1.8v1.15h-1.8zM71.55 499.78h1.8v1.15h-1.8zM73.35 480.24h1.8v1.15h-1.8zM73.35 487.14h1.8v1.15h-1.8zM73.35 549.2h1.8v1.15h-1.8zM73.35 580.24h1.8v1.15h-1.8zM75.16 625.06h1.8v1.15h-1.8zM76.96 494.04h1.8v1.15h-1.8zM76.96 528.52h1.8v1.15h-1.8zM76.96 564.15h1.8v1.15h-1.8zM76.96 569.89h1.8v1.15h-1.8zM76.96 580.24h1.8v1.15h-1.8zM76.96 634.25h1.8v1.15h-1.8zM78.77 480.24h1.8v1.15h-1.8zM78.77 484.84h1.8v1.15h-1.8zM78.77 510.13h1.8v1.15h-1.8zM78.77 569.89h1.8v1.15h-1.8zM78.77 629.66h1.8v1.15h-1.8zM80.57 582.53h1.8v1.15h-1.8zM80.57 602.07h1.8v1.15h-1.8zM82.38 497.48h1.8v1.15h-1.8zM82.38 583.68h1.8v1.15h-1.8zM82.38 636.55h1.8v1.15h-1.8zM84.18 477.95h1.8v1.15h-1.8zM84.18 561.85h1.8v1.15h-1.8zM84.18 591.73h1.8v1.15h-1.8zM84.18 615.87h1.8v1.15h-1.8zM84.18 636.55h1.8v1.15h-1.8zM85.98 508.98h1.8v1.15h-1.8zM85.98 544.61h1.8v1.15h-1.8zM85.98 569.89h1.8v1.15h-1.8zM85.98 588.28h1.8v1.15h-1.8zM85.98 590.58h1.8v1.15h-1.8zM85.98 607.82h1.8v1.15h-1.8zM87.79 477.95h1.8v1.15h-1.8zM87.79 564.15h1.8v1.15h-1.8zM87.79 599.77h1.8v1.15h-1.8zM87.79 619.31h1.8v1.15h-1.8zM87.79 638.85h1.8v1.15h-1.8zM89.59 515.87h1.8v1.15h-1.8zM89.59 536.56h1.8v1.15h-1.8zM89.59 546.91h1.8v1.15h-1.8zM89.59 573.34h1.8v1.15h-1.8zM89.59 589.43h1.8v1.15h-1.8zM91.4 471.05h1.8v1.15h-1.8zM91.4 499.78h1.8v1.15h-1.8zM91.4 512.43h1.8v1.15h-1.8zM91.4 528.52h1.8v1.15h-1.8zM91.4 550.35h1.8v1.15h-1.8zM91.4 595.18h1.8v1.15h-1.8zM91.4 597.48h1.8v1.15h-1.8zM91.4 606.67h1.8v1.15h-1.8zM91.4 611.27h1.8v1.15h-1.8zM93.2 479.09h1.8v1.15h-1.8zM93.2 521.62h1.8v1.15h-1.8zM95.01 487.14h1.8v1.15h-1.8zM95.01 533.11h1.8v1.15h-1.8zM95.01 535.41h1.8v1.15h-1.8zM95.01 573.34h1.8v1.15h-1.8zM95.01 576.79h1.8v1.15h-1.8zM95.01 594.03h1.8v1.15h-1.8zM96.81 469.9h1.8v1.15h-1.8zM96.81 517.02h1.8v1.15h-1.8zM96.81 518.17h1.8v1.15h-1.8zM96.81 545.76h1.8v1.15h-1.8zM96.81 551.5h1.8v1.15h-1.8zM96.81 581.39h1.8v1.15h-1.8zM96.81 594.03h1.8v1.15h-1.8zM96.81 596.33h1.8v1.15h-1.8zM96.81 605.52h1.8v1.15h-1.8zM98.62 481.39h1.8v1.15h-1.8zM98.62 482.54h1.8v1.15h-1.8zM98.62 503.23h1.8v1.15h-1.8zM98.62 525.07h1.8v1.15h-1.8zM98.62 589.43h1.8v1.15h-1.8zM98.62 590.58h1.8v1.15h-1.8zM98.62 629.66h1.8v1.15h-1.8zM100.42 582.53h1.8v1.15h-1.8zM100.42 622.76h1.8v1.15h-1.8zM100.42 623.91h1.8v1.15h-1.8zM102.23 506.68h1.8v1.15h-1.8zM102.23 597.48h1.8v1.15h-1.8zM104.03 523.92h1.8v1.15h-1.8zM104.03 545.76h1.8v1.15h-1.8zM104.03 559.55h1.8v1.15h-1.8zM104.03 600.92h1.8v1.15h-1.8z"/>
<path fill="#f8e848" d="M21 471.05h1.8v1.15h-1.8zM22.81 483.69h1.8v1.15h-1.8zM30.03 564.15h1.8v1.15h-1.8zM30.03 628.51h1.8v1.15h-1.8zM31.84 488.29h1.8v1.15h-1.8zM31.84 508.98h1.8v1.15h-1.8zM31.84 560.7h1.8v1.15h-1.8zM31.84 621.61h1.8v1.15h-1.8zM31.84 634.25h1.8v1.15h-1.8zM33.64 505.53h1.8v1.15h-1.8zM33.64 544.61h1.8v1.15h-1.8zM33.64 627.36h1.8v1.15h-1.8zM35.45 506.68h1.8v1.15h-1.8zM35.45 517.02h1.8v1.15h-1.8zM35.45 541.16h1.8v1.15h-1.8zM35.45 544.61h1.8v1.15h-1.8zM35.45 615.87h1.8v1.15h-1.8zM37.25 563h1.8v1.15h-1.8zM37.25 604.37h1.8v1.15h-1.8zM37.25 634.25h1.8v1.15h-1.8zM39.05 522.77h1.8v1.15h-1.8zM39.05 558.4h1.8v1.15h-1.8zM39.05 634.25h1.8v1.15h-1.8zM40.86 490.59h1.8v1.15h-1.8zM40.86 602.07h1.8v1.15h-1.8zM40.86 633.11h1.8v1.15h-1.8zM42.66 613.57h1.8v1.15h-1.8zM44.47 498.63h1.8v1.15h-1.8zM44.47 552.65h1.8v1.15h-1.8zM44.47 627.36h1.8v1.15h-1.8zM46.27 476.8h1.8v1.15h-1.8zM46.27 504.38h1.8v1.15h-1.8zM46.27 579.09h1.8v1.15h-1.8zM46.27 592.88h1.8v1.15h-1.8zM46.27 637.7h1.8v1.15h-1.8zM48.08 508.98h1.8v1.15h-1.8zM48.08 561.85h1.8v1.15h-1.8zM48.08 608.97h1.8v1.15h-1.8zM49.88 503.23h1.8v1.15h-1.8zM49.88 603.22h1.8v1.15h-1.8zM49.88 634.25h1.8v1.15h-1.8zM49.88 635.4h1.8v1.15h-1.8zM51.69 612.42h1.8v1.15h-1.8zM55.3 498.63h1.8v1.15h-1.8zM55.3 564.15h1.8v1.15h-1.8zM55.3 605.52h1.8v1.15h-1.8zM55.3 630.81h1.8v1.15h-1.8zM57.11 550.35h1.8v1.15h-1.8zM57.11 630.81h1.8v1.15h-1.8zM58.91 508.98h1.8v1.15h-1.8zM58.91 513.57h1.8v1.15h-1.8zM60.72 526.22h1.8v1.15h-1.8zM60.72 537.71h1.8v1.15h-1.8zM60.72 614.72h1.8v1.15h-1.8zM60.72 626.21h1.8v1.15h-1.8zM62.52 471.05h1.8v1.15h-1.8zM62.52 498.63h1.8v1.15h-1.8zM62.52 521.62h1.8v1.15h-1.8zM62.52 549.2h1.8v1.15h-1.8zM62.52 638.85h1.8v1.15h-1.8zM62.52 641.15h1.8v1.15h-1.8zM64.33 480.24h1.8v1.15h-1.8zM64.33 484.84h1.8v1.15h-1.8zM64.33 517.02h1.8v1.15h-1.8zM64.33 523.92h1.8v1.15h-1.8zM64.33 527.37h1.8v1.15h-1.8zM64.33 610.12h1.8v1.15h-1.8zM64.33 638.85h1.8v1.15h-1.8zM66.13 476.8h1.8v1.15h-1.8zM66.13 514.72h1.8v1.15h-1.8zM66.13 608.97h1.8v1.15h-1.8zM66.13 629.66h1.8v1.15h-1.8zM67.94 554.95h1.8v1.15h-1.8zM67.94 618.16h1.8v1.15h-1.8zM67.94 633.11h1.8v1.15h-1.8zM69.74 613.57h1.8v1.15h-1.8zM71.55 534.26h1.8v1.15h-1.8zM71.55 560.7h1.8v1.15h-1.8zM71.55 618.16h1.8v1.15h-1.8zM71.55 620.46h1.8v1.15h-1.8zM73.35 476.8h1.8v1.15h-1.8zM73.35 584.83h1.8v1.15h-1.8zM73.35 631.96h1.8v1.15h-1.8zM73.35 638.85h1.8v1.15h-1.8zM75.16 472.2h1.8v1.15h-1.8zM75.16 473.35h1.8v1.15h-1.8zM75.16 487.14h1.8v1.15h-1.8zM75.16 490.59h1.8v1.15h-1.8zM75.16 498.63h1.8v1.15h-1.8zM75.16 550.35h1.8v1.15h-1.8zM75.16 627.36h1.8v1.15h-1.8zM78.77 492.89h1.8v1.15h-1.8zM78.77 504.38h1.8v1.15h-1.8zM78.77 512.43h1.8v1.15h-1.8zM78.77 527.37h1.8v1.15h-1.8zM78.77 563h1.8v1.15h-1.8zM78.77 572.19h1.8v1.15h-1.8zM78.77 619.31h1.8v1.15h-1.8zM80.57 543.46h1.8v1.15h-1.8zM80.57 544.61h1.8v1.15h-1.8zM80.57 552.65h1.8v1.15h-1.8zM80.57 619.31h1.8v1.15h-1.8zM82.38 615.87h1.8v1.15h-1.8zM84.18 479.09h1.8v1.15h-1.8zM84.18 490.59h1.8v1.15h-1.8zM84.18 621.61h1.8v1.15h-1.8zM84.18 626.21h1.8v1.15h-1.8zM85.98 557.25h1.8v1.15h-1.8zM85.98 572.19h1.8v1.15h-1.8zM85.98 628.51h1.8v1.15h-1.8zM87.79 476.8h1.8v1.15h-1.8zM87.79 546.91h1.8v1.15h-1.8zM87.79 633.11h1.8v1.15h-1.8zM89.59 488.29h1.8v1.15h-1.8zM89.59 522.77h1.8v1.15h-1.8zM89.59 595.18h1.8v1.15h-1.8zM91.4 485.99h1.8v1.15h-1.8zM91.4 497.48h1.8v1.15h-1.8zM91.4 502.08h1.8v1.15h-1.8zM91.4 515.87h1.8v1.15h-1.8zM91.4 560.7h1.8v1.15h-1.8zM91.4 627.36h1.8v1.15h-1.8zM93.2 473.35h1.8v1.15h-1.8zM93.2 507.83h1.8v1.15h-1.8zM93.2 520.47h1.8v1.15h-1.8zM93.2 564.15h1.8v1.15h-1.8zM93.2 614.72h1.8v1.15h-1.8zM95.01 499.78h1.8v1.15h-1.8zM95.01 511.28h1.8v1.15h-1.8zM95.01 551.5h1.8v1.15h-1.8zM95.01 588.28h1.8v1.15h-1.8zM95.01 603.22h1.8v1.15h-1.8zM95.01 626.21h1.8v1.15h-1.8zM96.81 507.83h1.8v1.15h-1.8zM96.81 514.72h1.8v1.15h-1.8zM96.81 537.71h1.8v1.15h-1.8zM96.81 583.68h1.8v1.15h-1.8zM96.81 635.4h1.8v1.15h-1.8zM98.62 489.44h1.8v1.15h-1.8zM98.62 573.34h1.8v1.15h-1.8zM98.62 585.98h1.8v1.15h-1.8zM98.62 597.48h1.8v1.15h-1.8zM100.42 525.07h1.8v1.15h-1.8zM100.42 549.2h1.8v1.15h-1.8zM102.23 561.85h1.8v1.15h-1.8zM102.23 568.74h1.8v1.15h-1.8zM102.23 613.57h1.8v1.15h-1.8zM104.03 476.8h1.8v1.15h-1.8zM104.03 477.95h1.8v1.15h-1.8zM104.03 490.59h1.8v1.15h-1.8zM104.03 510.13h1.8v1.15h-1.8zM104.03 536.56h1.8v1.15h-1.8zM104.03 554.95h1.8v1.15h-1.8zM104.03 620.46h1.8v1.15h-1.8zM104.03 627.36h1.8v1.15h-1.8z"/>
<path fill="#e0d858" d="M21 497.48h1.8v1.15h-1.8zM22.81 494.04h1.8v1.15h-1.8zM24.61 490.59h1.8v1.15h-1.8zM24.61 583.68h1.8v1.15h-1.8zM26.42 627.36h1.8v1.15h-1.8zM28.23 613.57h1.8v1.15h-1.8zM28.23 625.06h1.8v1.15h-1.8zM30.03 540.01h1.8v1.15h-1.8zM30.03 566.44h1.8v1.15h-1.8zM30.03 572.19h1.8v1.15h-1.8zM30.03 598.63h1.8v1.15h-1.8zM30.03 615.87h1.8v1.15h-1.8zM30.03 621.61h1.8v1.15h-1.8zM31.84 503.23h1.8v1.15h-1.8zM31.84 515.87h1.8v1.15h-1.8zM31.84 566.44h1.8v1.15h-1.8zM33.64 508.98h1.8v1.15h-1.8zM33.64 543.46h1.8v1.15h-1.8zM33.64 582.53h1.8v1.15h-1.8zM33.64 620.46h1.8v1.15h-1.8zM33.64 637.7h1.8v1.15h-1.8zM33.64 638.85h1.8v1.15h-1.8zM35.45 475.65h1.8v1.15h-1.8zM35.45 487.14h1.8v1.15h-1.8zM35.45 511.28h1.8v1.15h-1.8zM35.45 514.72h1.8v1.15h-1.8zM35.45 565.29h1.8v1.15h-1.8zM35.45 618.16h1.8v1.15h-1.8zM37.25 485.99h1.8v1.15h-1.8zM37.25 498.63h1.8v1.15h-1.8zM37.25 631.96h1.8v1.15h-1.8zM39.05 521.62h1.8v1.15h-1.8zM39.05 592.88h1.8v1.15h-1.8zM39.05 602.07h1.8v1.15h-1.8zM40.86 476.8h1.8v1.15h-1.8zM40.86 483.69h1.8v1.15h-1.8zM40.86 575.64h1.8v1.15h-1.8zM40.86 580.24h1.8v1.15h-1.8zM40.86 631.96h1.8v1.15h-1.8zM42.66 469.9h1.8v1.15h-1.8zM42.66 497.48h1.8v1.15h-1.8zM44.47 481.39h1.8v1.15h-1.8zM44.47 488.29h1.8v1.15h-1.8zM44.47 496.33h1.8v1.15h-1.8zM44.47 500.93h1.8v1.15h-1.8zM44.47 553.8h1.8v1.15h-1.8zM44.47 580.24h1.8v1.15h-1.8zM44.47 598.63h1.8v1.15h-1.8zM44.47 599.77h1.8v1.15h-1.8zM44.47 623.91h1.8v1.15h-1.8zM44.47 630.81h1.8v1.15h-1.8zM46.27 473.35h1.8v1.15h-1.8zM46.27 522.77h1.8v1.15h-1.8zM46.27 625.06h1.8v1.15h-1.8zM46.27 627.36h1.8v1.15h-1.8zM46.27 629.66h1.8v1.15h-1.8zM48.08 469.9h1.8v1.15h-1.8zM48.08 560.7h1.8v1.15h-1.8zM48.08 606.67h1.8v1.15h-1.8zM48.08 617.01h1.8v1.15h-1.8zM51.69 507.83h1.8v1.15h-1.8zM51.69 548.05h1.8v1.15h-1.8zM51.69 594.03h1.8v1.15h-1.8zM51.69 618.16h1.8v1.15h-1.8zM51.69 628.51h1.8v1.15h-1.8zM51.69 637.7h1.8v1.15h-1.8zM53.5 479.09h1.8v1.15h-1.8zM53.5 492.89h1.8v1.15h-1.8zM53.5 523.92h1.8v1.15h-1.8zM53.5 530.81h1.8v1.15h-1.8zM53.5 531.96h1.8v1.15h-1.8zM53.5 560.7h1.8v1.15h-1.8zM55.3 519.32h1.8v1.15h-1.8zM55.3 603.22h1.8v1.15h-1.8zM55.3 621.61h1.8v1.15h-1.8zM57.11 529.67h1.8v1.15h-1.8zM57.11 540.01h1.8v1.15h-1.8zM57.11 588.28h1.8v1.15h-1.8zM57.11 595.18h1.8v1.15h-1.8zM57.11 599.77h1.8v1.15h-1.8zM57.11 612.42h1.8v1.15h-1.8zM57.11 629.66h1.8v1.15h-1.8zM57.11 631.96h1.8v1.15h-1.8zM58.91 492.89h1.8v1.15h-1.8zM58.91 573.34h1.8v1.15h-1.8zM58.91 615.87h1.8v1.15h-1.8zM58.91 635.4h1.8v1.15h-1.8zM60.72 498.63h1.8v1.15h-1.8zM60.72 505.53h1.8v1.15h-1.8zM62.52 484.84h1.8v1.15h-1.8zM62.52 485.99h1.8v1.15h-1.8zM62.52 546.91h1.8v1.15h-1.8zM62.52 589.43h1.8v1.15h-1.8zM62.52 613.57h1.8v1.15h-1.8zM62.52 614.72h1.8v1.15h-1.8zM64.33 481.39h1.8v1.15h-1.8zM64.33 514.72h1.8v1.15h-1.8zM66.13 480.24h1.8v1.15h-1.8zM66.13 489.44h1.8v1.15h-1.8zM66.13 519.32h1.8v1.15h-1.8zM66.13 543.46h1.8v1.15h-1.8zM66.13 577.94h1.8v1.15h-1.8zM66.13 595.18h1.8v1.15h-1.8zM66.13 600.92h1.8v1.15h-1.8zM66.13 630.81h1.8v1.15h-1.8zM67.94 505.53h1.8v1.15h-1.8zM67.94 523.92h1.8v1.15h-1.8zM67.94 527.37h1.8v1.15h-1.8zM67.94 528.52h1.8v1.15h-1.8zM67.94 540.01h1.8v1.15h-1.8zM69.74 479.09h1.8v1.15h-1.8zM69.74 485.99h1.8v1.15h-1.8zM69.74 490.59h1.8v1.15h-1.8zM69.74 502.08h1.8v1.15h-1.8zM69.74 574.49h1.8v1.15h-1.8zM69.74 581.39h1.8v1.15h-1.8zM69.74 607.82h1.8v1.15h-1.8zM71.55 469.9h1.8v1.15h-1.8zM71.55 538.86h1.8v1.15h-1.8zM71.55 556.1h1.8v1.15h-1.8zM71.55 561.85h1.8v1.15h-1.8zM71.55 597.48h1.8v1.15h-1.8zM71.55 627.36h1.8v1.15h-1.8zM73.35 569.89h1.8v1.15h-1.8zM73.35 572.19h1.8v1.15h-1.8zM73.35 573.34h1.8v1.15h-1.8zM75.16 495.19h1.8v1.15h-1.8zM75.16 588.28h1.8v1.15h-1.8zM75.16 619.31h1.8v1.15h-1.8zM75.16 628.51h1.8v1.15h-1.8zM76.96 497.48h1.8v1.15h-1.8zM76.96 502.08h1.8v1.15h-1.8zM76.96 514.72h1.8v1.15h-1.8zM76.96 529.67h1.8v1.15h-1.8zM76.96 567.59h1.8v1.15h-1.8zM76.96 640h1.8v1.15h-1.8zM78.77 474.5h1.8v1.15h-1.8zM78.77 508.98h1.8v1.15h-1.8zM78.77 538.86h1.8v1.15h-1.8zM78.77 561.85h1.8v1.15h-1.8zM78.77 602.07h1.8v1.15h-1.8zM80.57 477.95h1.8v1.15h-1.8zM80.57 506.68h1.8v1.15h-1.8zM80.57 513.57h1.8v1.15h-1.8zM80.57 573.34h1.8v1.15h-1.8zM80.57 600.92h1.8v1.15h-1.8zM82.38 476.8h1.8v1.15h-1.8zM82.38 484.84h1.8v1.15h-1.8zM82.38 537.71h1.8v1.15h-1.8zM82.38 543.46h1.8v1.15h-1.8zM82.38 554.95h1.8v1.15h-1.8zM82.38 599.77h1.8v1.15h-1.8zM82.38 641.15h1.8v1.15h-1.8zM84.18 469.9h1.8v1.15h-1.8zM84.18 471.05h1.8v1.15h-1.8zM84.18 485.99h1.8v1.15h-1.8zM84.18 492.89h1.8v1.15h-1.8zM84.18 500.93h1.8v1.15h-1.8zM84.18 590.58h1.8v1.15h-1.8zM84.18 625.06h1.8v1.15h-1.8zM85.98 529.67h1.8v1.15h-1.8zM85.98 543.46h1.8v1.15h-1.8zM85.98 595.18h1.8v1.15h-1.8zM87.79 496.33h1.8v1.15h-1.8zM87.79 507.83h1.8v1.15h-1.8zM87.79 513.57h1.8v1.15h-1.8zM87.79 610.12h1.8v1.15h-1.8zM87.79 634.25h1.8v1.15h-1.8zM89.59 490.59h1.8v1.15h-1.8zM89.59 606.67h1.8v1.15h-1.8zM89.59 621.61h1.8v1.15h-1.8zM89.59 630.81h1.8v1.15h-1.8zM91.4 469.9h1.8v1.15h-1.8zM91.4 492.89h1.8v1.15h-1.8zM91.4 548.05h1.8v1.15h-1.8zM91.4 552.65h1.8v1.15h-1.8zM91.4 599.77h1.8v1.15h-1.8zM91.4 630.81h1.8v1.15h-1.8zM93.2 472.2h1.8v1.15h-1.8zM93.2 511.28h1.8v1.15h-1.8zM93.2 519.32h1.8v1.15h-1.8zM93.2 550.35h1.8v1.15h-1.8zM93.2 606.67h1.8v1.15h-1.8zM93.2 628.51h1.8v1.15h-1.8zM93.2 633.11h1.8v1.15h-1.8zM95.01 472.2h1.8v1.15h-1.8zM95.01 476.8h1.8v1.15h-1.8zM95.01 566.44h1.8v1.15h-1.8zM95.01 606.67h1.8v1.15h-1.8zM96.81 538.86h1.8v1.15h-1.8zM96.81 633.11h1.8v1.15h-1.8zM98.62 495.19h1.8v1.15h-1.8zM98.62 496.33h1.8v1.15h-1.8zM98.62 553.8h1.8v1.15h-1.8zM98.62 558.4h1.8v1.15h-1.8zM98.62 604.37h1.8v1.15h-1.8zM98.62 626.21h1.8v1.15h-1.8zM100.42 469.9h1.8v1.15h-1.8zM100.42 472.2h1.8v1.15h-1.8zM100.42 481.39h1.8v1.15h-1.8zM100.42 528.52h1.8v1.15h-1.8zM100.42 530.81h1.8v1.15h-1.8zM100.42 558.4h1.8v1.15h-1.8zM100.42 572.19h1.8v1.15h-1.8zM100.42 575.64h1.8v1.15h-1.8zM100.42 608.97h1.8v1.15h-1.8zM102.23 476.8h1.8v1.15h-1.8zM102.23 489.44h1.8v1.15h-1.8zM102.23 499.78h1.8v1.15h-1.8zM102.23 515.87h1.8v1.15h-1.8zM102.23 627.36h1.8v1.15h-1.8zM102.23 629.66h1.8v1.15h-1.8zM104.03 552.65h1.8v1.15h-1.8zM104.03 569.89h1.8v1.15h-1.8z"/>
<path fill="#e0d850" d="M21 499.78h1.8v1.15h-1.8zM37.25 641.15h1.8v1.15h-1.8zM39.05 631.96h1.8v1.15h-1.8zM58.91 607.82h1.8v1.15h-1.8zM75.16 514.72h1.8v1.15h-1.8zM75.16 597.48h1.8v1.15h-1.8zM80.57 627.36h1.8v1.15h-1.8zM80.57 638.85h1.8v1.15h-1.8zM87.79 551.5h1.8v1.15h-1.8zM95.01 515.87h1.8v1.15h-1.8zM95.01 557.25h1.8v1.15h-1.8zM98.62 637.7h1.8v1.15h-1.8zM100.42 602.07h1.8v1.15h-1.8z"/>
<path fill="#f0e048" d="M21 518.17h1.8v1.15h-1.8zM30.03 548.05h1.8v1.15h-1.8zM30.03 618.16h1.8v1.15h-1.8zM31.84 523.92h1.8v1.15h-1.8zM31.84 589.43h1.8v1.15h-1.8zM33.64 597.48h1.8v1.15h-1.8zM37.25 523.92h1.8v1.15h-1.8zM39.05 530.81h1.8v1.15h-1.8zM39.05 579.09h1.8v1.15h-1.8zM42.66 496.33h1.8v1.15h-1.8zM42.66 525.07h1.8v1.15h-1.8zM46.27 610.12h1.8v1.15h-1.8zM48.08 533.11h1.8v1.15h-1.8zM48.08 627.36h1.8v1.15h-1.8zM49.88 497.48h1.8v1.15h-1.8zM49.88 511.28h1.8v1.15h-1.8zM49.88 626.21h1.8v1.15h-1.8zM51.69 551.5h1.8v1.15h-1.8zM51.69 587.13h1.8v1.15h-1.8zM53.5 507.83h1.8v1.15h-1.8zM53.5 514.72h1.8v1.15h-1.8zM53.5 607.82h1.8v1.15h-1.8zM57.11 504.38h1.8v1.15h-1.8zM57.11 527.37h1.8v1.15h-1.8zM57.11 534.26h1.8v1.15h-1.8zM57.11 575.64h1.8v1.15h-1.8zM57.11 592.88h1.8v1.15h-1.8zM58.91 583.68h1.8v1.15h-1.8zM64.33 549.2h1.8v1.15h-1.8zM66.13 544.61h1.8v1.15h-1.8zM66.13 596.33h1.8v1.15h-1.8zM67.94 560.7h1.8v1.15h-1.8zM67.94 629.66h1.8v1.15h-1.8zM71.55 636.55h1.8v1.15h-1.8zM73.35 497.48h1.8v1.15h-1.8zM75.16 471.05h1.8v1.15h-1.8zM75.16 484.84h1.8v1.15h-1.8zM76.96 638.85h1.8v1.15h-1.8zM78.77 583.68h1.8v1.15h-1.8zM80.57 546.91h1.8v1.15h-1.8zM82.38 504.38h1.8v1.15h-1.8zM85.98 564.15h1.8v1.15h-1.8zM85.98 576.79h1.8v1.15h-1.8zM87.79 629.66h1.8v1.15h-1.8zM89.59 634.25h1.8v1.15h-1.8zM93.2 607.82h1.8v1.15h-1.8zM98.62 487.14h1.8v1.15h-1.8zM104.03 567.59h1.8v1.15h-1.8z"/>
<path fill="#a8a088" d="M21 535.41h1.8v1.15h-1.8zM28.23 492.89h1.8v1.15h-1.8zM30.03 502.08h1.8v1.15h-1.8zM31.84 541.16h1.8v1.15h-1.8zM37.25 492.89h1.8v1.15h-1.8zM39.05 504.38h1.8v1.15h-1.8zM39.05 563h1.8v1.15h-1.8zM39.05 576.79h1.8v1.15h-1.8zM39.05 641.15h1.8v1.15h-1.8zM40.86 485.99h1.8v1.15h-1.8zM44.47 591.73h1.8v1.15h-1.8zM46.27 525.07h1.8v1.15h-1.8zM49.88 546.91h1.8v1.15h-1.8zM51.69 638.85h1.8v1.15h-1.8zM53.5 505.53h1.8v1.15h-1.8zM55.3 533.11h1.8v1.15h-1.8zM57.11 607.82h1.8v1.15h-1.8zM58.91 502.08h1.8v1.15h-1.8zM60.72 485.99h1.8v1.15h-1.8zM60.72 541.16h1.8v1.15h-1.8zM62.52 637.7h1.8v1.15h-1.8zM64.33 630.81h1.8v1.15h-1.8zM69.74 633.11h1.8v1.15h-1.8zM73.35 483.69h1.8v1.15h-1.8zM73.35 583.68h1.8v1.15h-1.8zM73.35 604.37h1.8v1.15h-1.8zM75.16 577.94h1.8v1.15h-1.8zM76.96 546.91h1.8v1.15h-1.8zM78.77 620.46h1.8v1.15h-1.8zM78.77 633.11h1.8v1.15h-1.8zM85.98 469.9h1.8v1.15h-1.8zM89.59 471.05h1.8v1.15h-1.8zM89.59 504.38h1.8v1.15h-1.8zM91.4 480.24h1.8v1.15h-1.8zM91.4 491.74h1.8v1.15h-1.8zM93.2 480.24h1.8v1.15h-1.8zM95.01 496.33h1.8v1.15h-1.8zM95.01 512.43h1.8v1.15h-1.8zM95.01 567.59h1.8v1.15h-1.8zM96.81 556.1h1.8v1.15h-1.8zM96.81 628.51h1.8v1.15h-1.8zM102.23 527.37h1.8v1.15h-1.8zM104.03 568.74h1.8v1.15h-1.8z"/>
<path fill="#b8b878" d="M21 537.71h1.8v1.15h-1.8zM21 544.61h1.8v1.15h-1.8zM24.61 566.44h1.8v1.15h-1.8zM26.42 535.41h1.8v1.15h-1.8zM30.03 591.73h1.8v1.15h-1.8zM31.84 512.43h1.8v1.15h-1.8zM31.84 617.01h1.8v1.15h-1.8zM31.84 623.91h1.8v1.15h-1.8zM31.84 629.66h1.8v1.15h-1.8zM33.64 569.89h1.8v1.15h-1.8zM33.64 622.76h1.8v1.15h-1.8zM37.25 533.11h1.8v1.15h-1.8zM37.25 548.05h1.8v1.15h-1.8zM39.05 469.9h1.8v1.15h-1.8zM42.66 574.49h1.8v1.15h-1.8zM42.66 611.27h1.8v1.15h-1.8zM44.47 515.87h1.8v1.15h-1.8zM44.47 596.33h1.8v1.15h-1.8zM44.47 631.96h1.8v1.15h-1.8zM46.27 499.78h1.8v1.15h-1.8zM48.08 612.42h1.8v1.15h-1.8zM51.69 633.11h1.8v1.15h-1.8zM53.5 515.87h1.8v1.15h-1.8zM53.5 518.17h1.8v1.15h-1.8zM55.3 550.35h1.8v1.15h-1.8zM55.3 579.09h1.8v1.15h-1.8zM55.3 591.73h1.8v1.15h-1.8zM58.91 489.44h1.8v1.15h-1.8zM58.91 535.41h1.8v1.15h-1.8zM58.91 554.95h1.8v1.15h-1.8zM60.72 491.74h1.8v1.15h-1.8zM60.72 536.56h1.8v1.15h-1.8zM60.72 565.29h1.8v1.15h-1.8zM60.72 583.68h1.8v1.15h-1.8zM62.52 528.52h1.8v1.15h-1.8zM62.52 560.7h1.8v1.15h-1.8zM64.33 471.05h1.8v1.15h-1.8zM64.33 626.21h1.8v1.15h-1.8zM66.13 504.38h1.8v1.15h-1.8zM66.13 505.53h1.8v1.15h-1.8zM66.13 506.68h1.8v1.15h-1.8zM66.13 636.55h1.8v1.15h-1.8zM69.74 527.37h1.8v1.15h-1.8zM69.74 552.65h1.8v1.15h-1.8zM69.74 612.42h1.8v1.15h-1.8zM69.74 635.4h1.8v1.15h-1.8zM71.55 583.68h1.8v1.15h-1.8zM73.35 530.81h1.8v1.15h-1.8zM73.35 553.8h1.8v1.15h-1.8zM73.35 581.39h1.8v1.15h-1.8zM75.16 540.01h1.8v1.15h-1.8zM75.16 599.77h1.8v1.15h-1.8zM76.96 523.92h1.8v1.15h-1.8zM76.96 536.56h1.8v1.15h-1.8zM76.96 566.44h1.8v1.15h-1.8zM76.96 595.18h1.8v1.15h-1.8zM76.96 607.82h1.8v1.15h-1.8zM78.77 540.01h1.8v1.15h-1.8zM78.77 577.94h1.8v1.15h-1.8zM80.57 558.4h1.8v1.15h-1.8zM82.38 549.2h1.8v1.15h-1.8zM82.38 592.88h1.8v1.15h-1.8zM82.38 611.27h1.8v1.15h-1.8zM82.38 618.16h1.8v1.15h-1.8zM82.38 623.91h1.8v1.15h-1.8zM84.18 512.43h1.8v1.15h-1.8zM87.79 480.24h1.8v1.15h-1.8zM89.59 499.78h1.8v1.15h-1.8zM91.4 543.46h1.8v1.15h-1.8zM91.4 574.49h1.8v1.15h-1.8zM93.2 561.85h1.8v1.15h-1.8zM95.01 635.4h1.8v1.15h-1.8zM96.81 485.99h1.8v1.15h-1.8zM96.81 561.85h1.8v1.15h-1.8zM96.81 617.01h1.8v1.15h-1.8zM98.62 480.24h1.8v1.15h-1.8zM98.62 556.1h1.8v1.15h-1.8zM98.62 566.44h1.8v1.15h-1.8zM100.42 476.8h1.8v1.15h-1.8zM100.42 491.74h1.8v1.15h-1.8zM102.23 564.15h1.8v1.15h-1.8zM102.23 604.37h1.8v1.15h-1.8zM104.03 485.99h1.8v1.15h-1.8zM104.03 495.19h1.8v1.15h-1.8zM104.03 597.48h1.8v1.15h-1.8z"/>
<path fill="#e0d058" d="M21 557.25h1.8v1.15h-1.8zM26.42 551.5h1.8v1.15h-1.8zM30.03 553.8h1.8v1.15h-1.8zM35.45 508.98h1.8v1.15h-1.8zM40.86 521.62h1.8v1.15h-1.8zM44.47 634.25h1.8v1.15h-1.8zM46.27 530.81h1.8v1.15h-1.8zM57.11 635.4h1.8v1.15h-1.8zM62.52 518.17h1.8v1.15h-1.8zM64.33 535.41h1.8v1.15h-1.8zM64.33 573.34h1.8v1.15h-1.8zM66.13 587.13h1.8v1.15h-1.8zM84.18 574.49h1.8v1.15h-1.8zM89.59 561.85h1.8v1.15h-1.8zM93.2 505.53h1.8v1.15h-1.8zM96.81 519.32h1.8v1.15h-1.8zM102.23 581.39h1.8v1.15h-1.8z"/>
<path fill="#c0b878" d="M21 564.15h1.8v1.15h-1.8zM24.61 620.46h1.8v1.15h-1.8zM26.42 469.9h1.8v1.15h-1.8zM26.42 618.16h1.8v1.15h-1.8zM30.03 525.07h1.8v1.15h-1.8zM31.84 520.47h1.8v1.15h-1.8zM31.84 559.55h1.8v1.15h-1.8zM35.45 482.54h1.8v1.15h-1.8zM35.45 626.21h1.8v1.15h-1.8zM39.05 520.47h1.8v1.15h-1.8zM39.05 550.35h1.8v1.15h-1.8zM40.86 527.37h1.8v1.15h-1.8zM44.47 514.72h1.8v1.15h-1.8zM46.27 535.41h1.8v1.15h-1.8zM46.27 634.25h1.8v1.15h-1.8zM48.08 590.58h1.8v1.15h-1.8zM48.08 619.31h1.8v1.15h-1.8zM53.5 498.63h1.8v1.15h-1.8zM55.3 491.74h1.8v1.15h-1.8zM55.3 560.7h1.8v1.15h-1.8zM58.91 506.68h1.8v1.15h-1.8zM58.91 627.36h1.8v1.15h-1.8zM60.72 615.87h1.8v1.15h-1.8zM62.52 517.02h1.8v1.15h-1.8zM62.52 595.18h1.8v1.15h-1.8zM64.33 591.73h1.8v1.15h-1.8zM66.13 494.04h1.8v1.15h-1.8zM67.94 472.2h1.8v1.15h-1.8zM67.94 525.07h1.8v1.15h-1.8zM73.35 529.67h1.8v1.15h-1.8zM73.35 566.44h1.8v1.15h-1.8zM75.16 504.38h1.8v1.15h-1.8zM75.16 508.98h1.8v1.15h-1.8zM76.96 541.16h1.8v1.15h-1.8zM82.38 541.16h1.8v1.15h-1.8zM84.18 579.09h1.8v1.15h-1.8zM84.18 606.67h1.8v1.15h-1.8zM85.98 627.36h1.8v1.15h-1.8zM87.79 608.97h1.8v1.15h-1.8zM91.4 553.8h1.8v1.15h-1.8zM93.2 595.18h1.8v1.15h-1.8zM95.01 552.65h1.8v1.15h-1.8zM95.01 613.57h1.8v1.15h-1.8zM96.81 550.35h1.8v1.15h-1.8zM100.42 574.49h1.8v1.15h-1.8zM102.23 617.01h1.8v1.15h-1.8z"/>
<path fill="#b8b880" d="M21 566.44h1.8v1.15h-1.8zM28.23 507.83h1.8v1.15h-1.8zM30.03 521.62h1.8v1.15h-1.8zM46.27 497.48h1.8v1.15h-1.8zM51.69 484.84h1.8v1.15h-1.8zM58.91 561.85h1.8v1.15h-1.8zM60.72 641.15h1.8v1.15h-1.8zM69.74 512.43h1.8v1.15h-1.8zM84.18 494.04h1.8v1.15h-1.8zM93.2 552.65h1.8v1.15h-1.8z"/>
<path fill="#d0c860" d="M21 636.55h1.8v1.15h-1.8zM31.84 469.9h1.8v1.15h-1.8zM42.66 548.05h1.8v1.15h-1.8zM44.47 574.49h1.8v1.15h-1.8zM46.27 630.81h1.8v1.15h-1.8zM48.08 585.98h1.8v1.15h-1.8zM49.88 543.46h1.8v1.15h-1.8zM67.94 591.73h1.8v1.15h-1.8zM69.74 595.18h1.8v1.15h-1.8zM76.96 522.77h1.8v1.15h-1.8zM91.4 489.44h1.8v1.15h-1.8zM93.2 483.69h1.8v1.15h-1.8zM95.01 507.83h1.8v1.15h-1.8z"/>
<path fill="#a8a888" d="M22.81 549.2h1.8v1.15h-1.8zM24.61 554.95h1.8v1.15h-1.8zM26.42 528.52h1.8v1.15h-1.8zM28.23 483.69h1.8v1.15h-1.8zM28.23 595.18h1.8v1.15h-1.8zM30.03 590.58h1.8v1.15h-1.8zM30.03 608.97h1.8v1.15h-1.8zM30.03 633.11h1.8v1.15h-1.8zM31.84 500.93h1.8v1.15h-1.8zM31.84 522.77h1.8v1.15h-1.8zM33.64 490.59h1.8v1.15h-1.8zM33.64 606.67h1.8v1.15h-1.8zM33.64 633.11h1.8v1.15h-1.8zM35.45 474.5h1.8v1.15h-1.8zM35.45 481.39h1.8v1.15h-1.8zM35.45 498.63h1.8v1.15h-1.8zM35.45 605.52h1.8v1.15h-1.8zM37.25 506.68h1.8v1.15h-1.8zM37.25 519.32h1.8v1.15h-1.8zM37.25 556.1h1.8v1.15h-1.8zM39.05 506.68h1.8v1.15h-1.8zM39.05 541.16h1.8v1.15h-1.8zM39.05 548.05h1.8v1.15h-1.8zM39.05 554.95h1.8v1.15h-1.8zM39.05 621.61h1.8v1.15h-1.8zM40.86 530.81h1.8v1.15h-1.8zM42.66 521.62h1.8v1.15h-1.8zM42.66 563h1.8v1.15h-1.8zM42.66 582.53h1.8v1.15h-1.8zM44.47 487.14h1.8v1.15h-1.8zM46.27 554.95h1.8v1.15h-1.8zM46.27 574.49h1.8v1.15h-1.8zM46.27 583.68h1.8v1.15h-1.8zM46.27 589.43h1.8v1.15h-1.8zM48.08 565.29h1.8v1.15h-1.8zM49.88 558.4h1.8v1.15h-1.8zM49.88 606.67h1.8v1.15h-1.8zM49.88 633.11h1.8v1.15h-1.8zM51.69 543.46h1.8v1.15h-1.8zM51.69 573.34h1.8v1.15h-1.8zM51.69 591.73h1.8v1.15h-1.8zM53.5 559.55h1.8v1.15h-1.8zM53.5 573.34h1.8v1.15h-1.8zM53.5 576.79h1.8v1.15h-1.8zM55.3 565.29h1.8v1.15h-1.8zM55.3 588.28h1.8v1.15h-1.8zM57.11 489.44h1.8v1.15h-1.8zM57.11 499.78h1.8v1.15h-1.8zM58.91 572.19h1.8v1.15h-1.8zM60.72 513.57h1.8v1.15h-1.8zM60.72 573.34h1.8v1.15h-1.8zM60.72 577.94h1.8v1.15h-1.8zM60.72 599.77h1.8v1.15h-1.8zM62.52 474.5h1.8v1.15h-1.8zM62.52 475.65h1.8v1.15h-1.8zM62.52 511.28h1.8v1.15h-1.8zM62.52 513.57h1.8v1.15h-1.8zM64.33 506.68h1.8v1.15h-1.8zM64.33 563h1.8v1.15h-1.8zM67.94 511.28h1.8v1.15h-1.8zM67.94 600.92h1.8v1.15h-1.8zM69.74 534.26h1.8v1.15h-1.8zM69.74 563h1.8v1.15h-1.8zM69.74 617.01h1.8v1.15h-1.8zM71.55 572.19h1.8v1.15h-1.8zM73.35 482.54h1.8v1.15h-1.8zM73.35 522.77h1.8v1.15h-1.8zM73.35 556.1h1.8v1.15h-1.8zM73.35 599.77h1.8v1.15h-1.8zM75.16 634.25h1.8v1.15h-1.8zM76.96 542.31h1.8v1.15h-1.8zM76.96 613.57h1.8v1.15h-1.8zM78.77 506.68h1.8v1.15h-1.8zM80.57 530.81h1.8v1.15h-1.8zM80.57 577.94h1.8v1.15h-1.8zM80.57 581.39h1.8v1.15h-1.8zM80.57 589.43h1.8v1.15h-1.8zM82.38 490.59h1.8v1.15h-1.8zM82.38 548.05h1.8v1.15h-1.8zM84.18 567.59h1.8v1.15h-1.8zM87.79 529.67h1.8v1.15h-1.8zM87.79 559.55h1.8v1.15h-1.8zM87.79 585.98h1.8v1.15h-1.8zM87.79 613.57h1.8v1.15h-1.8zM89.59 514.72h1.8v1.15h-1.8zM89.59 529.67h1.8v1.15h-1.8zM89.59 542.31h1.8v1.15h-1.8zM89.59 558.4h1.8v1.15h-1.8zM89.59 569.89h1.8v1.15h-1.8zM91.4 484.84h1.8v1.15h-1.8zM91.4 514.72h1.8v1.15h-1.8zM91.4 520.47h1.8v1.15h-1.8zM91.4 567.59h1.8v1.15h-1.8zM91.4 603.22h1.8v1.15h-1.8zM93.2 612.42h1.8v1.15h-1.8zM93.2 620.46h1.8v1.15h-1.8zM95.01 560.7h1.8v1.15h-1.8zM95.01 636.55h1.8v1.15h-1.8zM96.81 577.94h1.8v1.15h-1.8zM98.62 492.89h1.8v1.15h-1.8zM98.62 577.94h1.8v1.15h-1.8zM98.62 641.15h1.8v1.15h-1.8zM100.42 474.5h1.8v1.15h-1.8zM100.42 489.44h1.8v1.15h-1.8zM100.42 597.48h1.8v1.15h-1.8zM100.42 631.96h1.8v1.15h-1.8zM102.23 495.19h1.8v1.15h-1.8zM102.23 498.63h1.8v1.15h-1.8zM102.23 540.01h1.8v1.15h-1.8zM102.23 541.16h1.8v1.15h-1.8zM102.23 560.7h1.8v1.15h-1.8zM102.23 567.59h1.8v1.15h-1.8zM102.23 588.28h1.8v1.15h-1.8zM102.23 634.25h1.8v1.15h-1.8zM104.03 556.1h1.8v1.15h-1.8zM104.03 605.52h1.8v1.15h-1.8zM104.03 610.12h1.8v1.15h-1.8z"/>
<path fill="#e8d850" d="M24.61 525.07h1.8v1.15h-1.8zM30.03 582.53h1.8v1.15h-1.8zM31.84 471.05h1.8v1.15h-1.8zM31.84 579.09h1.8v1.15h-1.8zM33.64 469.9h1.8v1.15h-1.8zM33.64 492.89h1.8v1.15h-1.8zM33.64 556.1h1.8v1.15h-1.8zM33.64 565.29h1.8v1.15h-1.8zM35.45 627.36h1.8v1.15h-1.8zM37.25 527.37h1.8v1.15h-1.8zM39.05 599.77h1.8v1.15h-1.8zM39.05 636.55h1.8v1.15h-1.8zM40.86 482.54h1.8v1.15h-1.8zM42.66 502.08h1.8v1.15h-1.8zM42.66 638.85h1.8v1.15h-1.8zM44.47 491.74h1.8v1.15h-1.8zM48.08 558.4h1.8v1.15h-1.8zM49.88 515.87h1.8v1.15h-1.8zM49.88 568.74h1.8v1.15h-1.8zM51.69 487.14h1.8v1.15h-1.8zM51.69 625.06h1.8v1.15h-1.8zM53.5 506.68h1.8v1.15h-1.8zM53.5 636.55h1.8v1.15h-1.8zM55.3 511.28h1.8v1.15h-1.8zM58.91 503.23h1.8v1.15h-1.8zM58.91 604.37h1.8v1.15h-1.8zM58.91 613.57h1.8v1.15h-1.8zM60.72 580.24h1.8v1.15h-1.8zM60.72 588.28h1.8v1.15h-1.8zM60.72 612.42h1.8v1.15h-1.8zM62.52 534.26h1.8v1.15h-1.8zM64.33 507.83h1.8v1.15h-1.8zM64.33 537.71h1.8v1.15h-1.8zM64.33 631.96h1.8v1.15h-1.8zM66.13 591.73h1.8v1.15h-1.8zM66.13 611.27h1.8v1.15h-1.8zM67.94 475.65h1.8v1.15h-1.8zM67.94 577.94h1.8v1.15h-1.8zM69.74 518.17h1.8v1.15h-1.8zM71.55 569.89h1.8v1.15h-1.8zM73.35 551.5h1.8v1.15h-1.8zM73.35 577.94h1.8v1.15h-1.8zM75.16 507.83h1.8v1.15h-1.8zM75.16 530.81h1.8v1.15h-1.8zM75.16 549.2h1.8v1.15h-1.8zM76.96 480.24h1.8v1.15h-1.8zM76.96 596.33h1.8v1.15h-1.8zM80.57 489.44h1.8v1.15h-1.8zM82.38 640h1.8v1.15h-1.8zM84.18 603.22h1.8v1.15h-1.8zM85.98 584.83h1.8v1.15h-1.8zM87.79 625.06h1.8v1.15h-1.8zM89.59 544.61h1.8v1.15h-1.8zM93.2 582.53h1.8v1.15h-1.8zM93.2 626.21h1.8v1.15h-1.8zM95.01 550.35h1.8v1.15h-1.8zM96.81 527.37h1.8v1.15h-1.8zM98.62 497.48h1.8v1.15h-1.8zM100.42 625.06h1.8v1.15h-1.8zM102.23 473.35h1.8v1.15h-1.8zM102.23 543.46h1.8v1.15h-1.8zM102.23 615.87h1.8v1.15h-1.8z"/>
<path fill="#b0a888" d="M26.42 515.87h1.8v1.15h-1.8zM28.23 628.51h1.8v1.15h-1.8zM30.03 497.48h1.8v1.15h-1.8zM30.03 569.89h1.8v1.15h-1.8zM30.03 577.94h1.8v1.15h-1.8zM31.84 487.14h1.8v1.15h-1.8zM33.64 471.05h1.8v1.15h-1.8zM35.45 531.96h1.8v1.15h-1.8zM35.45 566.44h1.8v1.15h-1.8zM39.05 543.46h1.8v1.15h-1.8zM39.05 551.5h1.8v1.15h-1.8zM39.05 574.49h1.8v1.15h-1.8zM40.86 587.13h1.8v1.15h-1.8zM40.86 640h1.8v1.15h-1.8zM58.91 571.04h1.8v1.15h-1.8zM58.91 610.12h1.8v1.15h-1.8zM62.52 480.24h1.8v1.15h-1.8zM62.52 571.04h1.8v1.15h-1.8zM66.13 499.78h1.8v1.15h-1.8zM69.74 489.44h1.8v1.15h-1.8zM69.74 505.53h1.8v1.15h-1.8zM71.55 475.65h1.8v1.15h-1.8zM71.55 494.04h1.8v1.15h-1.8zM71.55 508.98h1.8v1.15h-1.8zM71.55 594.03h1.8v1.15h-1.8zM75.16 499.78h1.8v1.15h-1.8zM76.96 582.53h1.8v1.15h-1.8zM76.96 614.72h1.8v1.15h-1.8zM78.77 499.78h1.8v1.15h-1.8zM82.38 474.5h1.8v1.15h-1.8zM84.18 497.48h1.8v1.15h-1.8zM85.98 519.32h1.8v1.15h-1.8zM85.98 619.31h1.8v1.15h-1.8zM87.79 474.5h1.8v1.15h-1.8zM91.4 495.19h1.8v1.15h-1.8zM95.01 584.83h1.8v1.15h-1.8zM96.81 499.78h1.8v1.15h-1.8zM98.62 474.5h1.8v1.15h-1.8zM98.62 612.42h1.8v1.15h-1.8zM104.03 548.05h1.8v1.15h-1.8z"/>
<path fill="#f0e050" d="M26.42 622.76h1.8v1.15h-1.8zM28.23 495.19h1.8v1.15h-1.8zM30.03 495.19h1.8v1.15h-1.8zM30.03 512.43h1.8v1.15h-1.8zM30.03 585.98h1.8v1.15h-1.8zM30.03 617.01h1.8v1.15h-1.8zM31.84 489.44h1.8v1.15h-1.8zM31.84 536.56h1.8v1.15h-1.8zM31.84 597.48h1.8v1.15h-1.8zM31.84 619.31h1.8v1.15h-1.8zM33.64 513.57h1.8v1.15h-1.8zM33.64 571.04h1.8v1.15h-1.8zM33.64 573.34h1.8v1.15h-1.8zM33.64 636.55h1.8v1.15h-1.8zM35.45 471.05h1.8v1.15h-1.8zM35.45 542.31h1.8v1.15h-1.8zM35.45 603.22h1.8v1.15h-1.8zM37.25 503.23h1.8v1.15h-1.8zM37.25 542.31h1.8v1.15h-1.8zM37.25 551.5h1.8v1.15h-1.8zM39.05 559.55h1.8v1.15h-1.8zM40.86 481.39h1.8v1.15h-1.8zM40.86 531.96h1.8v1.15h-1.8zM40.86 569.89h1.8v1.15h-1.8zM40.86 595.18h1.8v1.15h-1.8zM40.86 627.36h1.8v1.15h-1.8zM42.66 482.54h1.8v1.15h-1.8zM42.66 545.76h1.8v1.15h-1.8zM44.47 600.92h1.8v1.15h-1.8zM46.27 500.93h1.8v1.15h-1.8zM48.08 483.69h1.8v1.15h-1.8zM48.08 494.04h1.8v1.15h-1.8zM48.08 502.08h1.8v1.15h-1.8zM49.88 500.93h1.8v1.15h-1.8zM49.88 579.09h1.8v1.15h-1.8zM51.69 492.89h1.8v1.15h-1.8zM51.69 542.31h1.8v1.15h-1.8zM51.69 629.66h1.8v1.15h-1.8zM53.5 477.95h1.8v1.15h-1.8zM55.3 525.07h1.8v1.15h-1.8zM55.3 528.52h1.8v1.15h-1.8zM55.3 535.41h1.8v1.15h-1.8zM55.3 537.71h1.8v1.15h-1.8zM55.3 583.68h1.8v1.15h-1.8zM55.3 598.63h1.8v1.15h-1.8zM57.11 583.68h1.8v1.15h-1.8zM58.91 523.92h1.8v1.15h-1.8zM60.72 576.79h1.8v1.15h-1.8zM60.72 603.22h1.8v1.15h-1.8zM60.72 618.16h1.8v1.15h-1.8zM62.52 592.88h1.8v1.15h-1.8zM62.52 611.27h1.8v1.15h-1.8zM64.33 495.19h1.8v1.15h-1.8zM66.13 590.58h1.8v1.15h-1.8zM67.94 522.77h1.8v1.15h-1.8zM71.55 480.24h1.8v1.15h-1.8zM71.55 529.67h1.8v1.15h-1.8zM71.55 559.55h1.8v1.15h-1.8zM73.35 536.56h1.8v1.15h-1.8zM73.35 568.74h1.8v1.15h-1.8zM73.35 589.43h1.8v1.15h-1.8zM75.16 477.95h1.8v1.15h-1.8zM75.16 546.91h1.8v1.15h-1.8zM75.16 610.12h1.8v1.15h-1.8zM75.16 636.55h1.8v1.15h-1.8zM76.96 488.29h1.8v1.15h-1.8zM76.96 538.86h1.8v1.15h-1.8zM76.96 588.28h1.8v1.15h-1.8zM76.96 626.21h1.8v1.15h-1.8zM78.77 630.81h1.8v1.15h-1.8zM80.57 625.06h1.8v1.15h-1.8zM82.38 469.9h1.8v1.15h-1.8zM82.38 473.35h1.8v1.15h-1.8zM84.18 480.24h1.8v1.15h-1.8zM84.18 531.96h1.8v1.15h-1.8zM84.18 537.71h1.8v1.15h-1.8zM84.18 577.94h1.8v1.15h-1.8zM85.98 512.43h1.8v1.15h-1.8zM85.98 620.46h1.8v1.15h-1.8zM87.79 495.19h1.8v1.15h-1.8zM87.79 512.43h1.8v1.15h-1.8zM87.79 617.01h1.8v1.15h-1.8zM89.59 498.63h1.8v1.15h-1.8zM93.2 512.43h1.8v1.15h-1.8zM93.2 625.06h1.8v1.15h-1.8zM95.01 498.63h1.8v1.15h-1.8zM95.01 543.46h1.8v1.15h-1.8zM95.01 564.15h1.8v1.15h-1.8zM95.01 617.01h1.8v1.15h-1.8zM96.81 491.74h1.8v1.15h-1.8zM98.62 518.17h1.8v1.15h-1.8zM98.62 523.92h1.8v1.15h-1.8zM98.62 544.61h1.8v1.15h-1.8zM98.62 633.11h1.8v1.15h-1.8zM98.62 640h1.8v1.15h-1.8zM100.42 473.35h1.8v1.15h-1.8zM100.42 475.65h1.8v1.15h-1.8zM102.23 481.39h1.8v1.15h-1.8zM102.23 582.53h1.8v1.15h-1.8zM102.23 606.67h1.8v1.15h-1.8zM104.03 526.22h1.8v1.15h-1.8zM104.03 557.25h1.8v1.15h-1.8z"/>
<path fill="#a0a088" d="M28.23 469.9h1.8v1.15h-1.8zM30.03 549.2h1.8v1.15h-1.8zM37.25 546.91h1.8v1.15h-1.8zM44.47 640h1.8v1.15h-1.8zM51.69 606.67h1.8v1.15h-1.8zM66.13 582.53h1.8v1.15h-1.8zM67.94 484.84h1.8v1.15h-1.8zM67.94 625.06h1.8v1.15h-1.8zM75.16 589.43h1.8v1.15h-1.8zM76.96 556.1h1.8v1.15h-1.8zM80.57 498.63h1.8v1.15h-1.8zM85.98 583.68h1.8v1.15h-1.8zM95.01 495.19h1.8v1.15h-1.8zM96.81 520.47h1.8v1.15h-1.8zM102.23 471.05h1.8v1.15h-1.8z"/>
<path fill="#989890" d="M28.23 529.67h1.8v1.15h-1.8zM28.23 564.15h1.8v1.15h-1.8zM30.03 518.17h1.8v1.15h-1.8zM30.03 604.37h1.8v1.15h-1.8zM30.03 629.66h1.8v1.15h-1.8zM31.84 505.53h1.8v1.15h-1.8zM31.84 535.41h1.8v1.15h-1.8zM33.64 641.15h1.8v1.15h-1.8zM37.25 549.2h1.8v1.15h-1.8zM37.25 612.42h1.8v1.15h-1.8zM39.05 472.2h1.8v1.15h-1.8zM39.05 496.33h1.8v1.15h-1.8zM40.86 496.33h1.8v1.15h-1.8zM40.86 514.72h1.8v1.15h-1.8zM44.47 479.09h1.8v1.15h-1.8zM48.08 620.46h1.8v1.15h-1.8zM49.88 488.29h1.8v1.15h-1.8zM49.88 526.22h1.8v1.15h-1.8zM49.88 623.91h1.8v1.15h-1.8zM49.88 636.55h1.8v1.15h-1.8zM51.69 535.41h1.8v1.15h-1.8zM51.69 595.18h1.8v1.15h-1.8zM53.5 566.44h1.8v1.15h-1.8zM53.5 590.58h1.8v1.15h-1.8zM57.11 608.97h1.8v1.15h-1.8zM57.11 628.51h1.8v1.15h-1.8zM58.91 590.58h1.8v1.15h-1.8zM60.72 549.2h1.8v1.15h-1.8zM62.52 548.05h1.8v1.15h-1.8zM62.52 625.06h1.8v1.15h-1.8zM64.33 500.93h1.8v1.15h-1.8zM64.33 565.29h1.8v1.15h-1.8zM64.33 568.74h1.8v1.15h-1.8zM64.33 582.53h1.8v1.15h-1.8zM64.33 584.83h1.8v1.15h-1.8zM66.13 513.57h1.8v1.15h-1.8zM67.94 628.51h1.8v1.15h-1.8zM69.74 611.27h1.8v1.15h-1.8zM69.74 628.51h1.8v1.15h-1.8zM71.55 630.81h1.8v1.15h-1.8zM73.35 469.9h1.8v1.15h-1.8zM73.35 508.98h1.8v1.15h-1.8zM73.35 523.92h1.8v1.15h-1.8zM75.16 536.56h1.8v1.15h-1.8zM76.96 510.13h1.8v1.15h-1.8zM78.77 497.48h1.8v1.15h-1.8zM78.77 582.53h1.8v1.15h-1.8zM82.38 530.81h1.8v1.15h-1.8zM84.18 487.14h1.8v1.15h-1.8zM84.18 560.7h1.8v1.15h-1.8zM85.98 541.16h1.8v1.15h-1.8zM89.59 604.37h1.8v1.15h-1.8zM91.4 605.52h1.8v1.15h-1.8zM93.2 499.78h1.8v1.15h-1.8zM96.81 476.8h1.8v1.15h-1.8zM96.81 588.28h1.8v1.15h-1.8zM100.42 520.47h1.8v1.15h-1.8zM100.42 543.46h1.8v1.15h-1.8zM100.42 594.03h1.8v1.15h-1.8zM102.23 526.22h1.8v1.15h-1.8zM102.23 620.46h1.8v1.15h-1.8z"/>
<path fill="#504888" d="M30.03 523.92h1.8v1.15h-1.8zM75.16 626.21h1.8v1.15h-1.8zM91.4 536.56h1.8v1.15h-1.8z"/>
<path fill="#c8c868" d="M30.03 528.52h1.8v1.15h-1.8zM37.25 521.62h1.8v1.15h-1.8zM40.86 484.84h1.8v1.15h-1.8zM42.66 506.68h1.8v1.15h-1.8zM42.66 507.83h1.8v1.15h-1.8zM42.66 588.28h1.8v1.15h-1.8zM44.47 604.37h1.8v1.15h-1.8zM44.47 641.15h1.8v1.15h-1.8zM46.27 585.98h1.8v1.15h-1.8zM46.27 614.72h1.8v1.15h-1.8zM46.27 636.55h1.8v1.15h-1.8zM48.08 594.03h1.8v1.15h-1.8zM49.88 495.19h1.8v1.15h-1.8zM51.69 615.87h1.8v1.15h-1.8zM55.3 522.77h1.8v1.15h-1.8zM55.3 557.25h1.8v1.15h-1.8zM62.52 596.33h1.8v1.15h-1.8zM62.52 620.46h1.8v1.15h-1.8zM64.33 567.59h1.8v1.15h-1.8zM67.94 576.79h1.8v1.15h-1.8zM67.94 640h1.8v1.15h-1.8zM69.74 559.55h1.8v1.15h-1.8zM71.55 498.63h1.8v1.15h-1.8zM71.55 568.74h1.8v1.15h-1.8zM73.35 519.32h1.8v1.15h-1.8zM73.35 622.76h1.8v1.15h-1.8zM75.16 488.29h1.8v1.15h-1.8zM76.96 506.68h1.8v1.15h-1.8zM78.77 557.25h1.8v1.15h-1.8zM78.77 573.34h1.8v1.15h-1.8zM78.77 618.16h1.8v1.15h-1.8zM82.38 491.74h1.8v1.15h-1.8zM84.18 545.76h1.8v1.15h-1.8zM87.79 506.68h1.8v1.15h-1.8zM89.59 567.59h1.8v1.15h-1.8zM91.4 505.53h1.8v1.15h-1.8zM95.01 549.2h1.8v1.15h-1.8zM95.01 638.85h1.8v1.15h-1.8zM96.81 471.05h1.8v1.15h-1.8zM100.42 592.88h1.8v1.15h-1.8z"/>
<path fill="#808098" d="M31.84 504.38h1.8v1.15h-1.8zM31.84 594.03h1.8v1.15h-1.8zM33.64 531.96h1.8v1.15h-1.8zM33.64 568.74h1.8v1.15h-1.8zM35.45 600.92h1.8v1.15h-1.8zM39.05 512.43h1.8v1.15h-1.8zM42.66 560.7h1.8v1.15h-1.8zM46.27 623.91h1.8v1.15h-1.8zM48.08 506.68h1.8v1.15h-1.8zM51.69 557.25h1.8v1.15h-1.8zM51.69 608.97h1.8v1.15h-1.8zM57.11 585.98h1.8v1.15h-1.8zM58.91 495.19h1.8v1.15h-1.8zM64.33 575.64h1.8v1.15h-1.8zM67.94 569.89h1.8v1.15h-1.8zM73.35 591.73h1.8v1.15h-1.8zM76.96 511.28h1.8v1.15h-1.8zM82.38 620.46h1.8v1.15h-1.8zM84.18 612.42h1.8v1.15h-1.8zM84.18 637.7h1.8v1.15h-1.8zM85.98 530.81h1.8v1.15h-1.8zM89.59 622.76h1.8v1.15h-1.8zM91.4 608.97h1.8v1.15h-1.8zM93.2 590.58h1.8v1.15h-1.8zM98.62 531.96h1.8v1.15h-1.8zM100.42 591.73h1.8v1.15h-1.8z"/>
<path fill="#d0d060" d="M31.84 599.77h1.8v1.15h-1.8zM35.45 512.43h1.8v1.15h-1.8zM42.66 566.44h1.8v1.15h-1.8zM48.08 477.95h1.8v1.15h-1.8zM51.69 520.47h1.8v1.15h-1.8zM62.52 499.78h1.8v1.15h-1.8zM69.74 596.33h1.8v1.15h-1.8zM71.55 505.53h1.8v1.15h-1.8zM75.16 494.04h1.8v1.15h-1.8zM78.77 589.43h1.8v1.15h-1.8zM80.57 557.25h1.8v1.15h-1.8zM84.18 521.62h1.8v1.15h-1.8zM89.59 556.1h1.8v1.15h-1.8zM96.81 580.24h1.8v1.15h-1.8zM98.62 485.99h1.8v1.15h-1.8z"/>
<path fill="#b0a880" d="M31.84 625.06h1.8v1.15h-1.8zM33.64 611.27h1.8v1.15h-1.8zM46.27 483.69h1.8v1.15h-1.8zM46.27 503.23h1.8v1.15h-1.8zM46.27 549.2h1.8v1.15h-1.8zM49.88 569.89h1.8v1.15h-1.8zM49.88 583.68h1.8v1.15h-1.8zM51.69 498.63h1.8v1.15h-1.8zM51.69 550.35h1.8v1.15h-1.8zM55.3 536.56h1.8v1.15h-1.8zM57.11 474.5h1.8v1.15h-1.8zM60.72 511.28h1.8v1.15h-1.8zM60.72 569.89h1.8v1.15h-1.8zM62.52 473.35h1.8v1.15h-1.8zM64.33 596.33h1.8v1.15h-1.8zM64.33 599.77h1.8v1.15h-1.8zM73.35 597.48h1.8v1.15h-1.8zM78.77 634.25h1.8v1.15h-1.8zM80.57 473.35h1.8v1.15h-1.8zM80.57 610.12h1.8v1.15h-1.8zM84.18 502.08h1.8v1.15h-1.8zM87.79 577.94h1.8v1.15h-1.8zM89.59 505.53h1.8v1.15h-1.8zM89.59 611.27h1.8v1.15h-1.8zM93.2 506.68h1.8v1.15h-1.8zM100.42 514.72h1.8v1.15h-1.8zM102.23 480.24h1.8v1.15h-1.8zM104.03 492.89h1.8v1.15h-1.8zM104.03 577.94h1.8v1.15h-1.8z"/>
<path fill="#505088" d="M33.64 527.37h1.8v1.15h-1.8zM39.05 523.92h1.8v1.15h-1.8zM40.86 628.51h1.8v1.15h-1.8zM46.27 491.74h1.8v1.15h-1.8zM55.3 597.48h1.8v1.15h-1.8zM69.74 572.19h1.8v1.15h-1.8zM71.55 590.58h1.8v1.15h-1.8zM82.38 576.79h1.8v1.15h-1.8zM89.59 580.24h1.8v1.15h-1.8z"/>
<path fill="#585890" d="M35.45 469.9h1.8v1.15h-1.8zM51.69 576.79h1.8v1.15h-1.8zM60.72 637.7h1.8v1.15h-1.8zM69.74 526.22h1.8v1.15h-1.8z"/>
<path fill="#d8d058" d="M35.45 612.42h1.8v1.15h-1.8zM46.27 541.16h1.8v1.15h-1.8zM51.69 494.04h1.8v1.15h-1.8zM53.5 519.32h1.8v1.15h-1.8zM53.5 581.39h1.8v1.15h-1.8zM55.3 627.36h1.8v1.15h-1.8zM55.3 637.7h1.8v1.15h-1.8zM57.11 615.87h1.8v1.15h-1.8zM62.52 530.81h1.8v1.15h-1.8zM62.52 597.48h1.8v1.15h-1.8zM69.74 503.23h1.8v1.15h-1.8zM71.55 511.28h1.8v1.15h-1.8zM71.55 635.4h1.8v1.15h-1.8zM75.16 513.57h1.8v1.15h-1.8zM78.77 554.95h1.8v1.15h-1.8zM85.98 629.66h1.8v1.15h-1.8zM93.2 640h1.8v1.15h-1.8zM96.81 607.82h1.8v1.15h-1.8zM100.42 628.51h1.8v1.15h-1.8zM102.23 510.13h1.8v1.15h-1.8zM104.03 640h1.8v1.15h-1.8z"/>
<path fill="#484888" d="M37.25 508.98h1.8v1.15h-1.8zM37.25 553.8h1.8v1.15h-1.8zM37.25 638.85h1.8v1.15h-1.8zM40.86 599.77h1.8v1.15h-1.8zM42.66 498.63h1.8v1.15h-1.8zM46.27 582.53h1.8v1.15h-1.8zM48.08 631.96h1.8v1.15h-1.8zM60.72 488.29h1.8v1.15h-1.8zM60.72 634.25h1.8v1.15h-1.8zM66.13 522.77h1.8v1.15h-1.8zM67.94 514.72h1.8v1.15h-1.8zM91.4 575.64h1.8v1.15h-1.8zM93.2 557.25h1.8v1.15h-1.8zM95.01 590.58h1.8v1.15h-1.8zM100.42 497.48h1.8v1.15h-1.8zM104.03 566.44h1.8v1.15h-1.8z"/>
<path fill="#a09890" d="M48.08 511.28h1.8v1.15h-1.8zM48.08 637.7h1.8v1.15h-1.8zM49.88 533.11h1.8v1.15h-1.8zM49.88 608.97h1.8v1.15h-1.8zM51.69 603.22h1.8v1.15h-1.8zM55.3 492.89h1.8v1.15h-1.8zM71.55 489.44h1.8v1.15h-1.8zM71.55 492.89h1.8v1.15h-1.8zM82.38 590.58h1.8v1.15h-1.8zM87.79 590.58h1.8v1.15h-1.8zM91.4 584.83h1.8v1.15h-1.8zM95.01 592.88h1.8v1.15h-1.8zM96.81 637.7h1.8v1.15h-1.8z"/>
<path fill="#505090" d="M53.5 597.48h1.8v1.15h-1.8zM60.72 640h1.8v1.15h-1.8zM62.52 505.53h1.8v1.15h-1.8z"/>
</g>
<text transform="translate(46.77,452.2) scale(1.110,1)" font-size="7.41" fill="#231f20">control</text>
<rect x="107.7" y="469.9" width="70.39" height="172.4" fill="#7070a0"/>
<path fill="#7070a0" d="M107.7 469.9h70.39v1.15h-70.39zM107.7 473.35h70.39v1.15h-70.39zM107.7 474.5h70.39v1.15h-70.39zM107.7 477.95h70.39v1.15h-70.39zM107.7 482.54h70.39v1.15h-70.39zM107.7 495.19h70.39v1.15h-70.39zM107.7 500.93h70.39v1.15h-70.39zM107.7 502.08h70.39v1.15h-70.39zM107.7 504.38h70.39v1.15h-70.39zM107.7 506.68h70.39v1.15h-70.39zM107.7 508.98h70.39v1.15h-70.39zM107.7 510.13h70.39v1.15h-70.39zM107.7 515.87h70.39v1.15h-70.39zM107.7 518.17h70.39v1.15h-70.39zM107.7 521.62h70.39v1.15h-70.39zM107.7 523.92h70.39v1.15h-70.39zM107.7 530.81h70.39v1.15h-70.39zM107.7 533.11h70.39v1.15h-70.39zM107.7 537.71h70.39v1.15h-70.39zM107.7 540.01h70.39v1.15h-70.39zM107.7 551.5h70.39v1.15h-70.39zM107.7 558.4h70.39v1.15h-70.39zM107.7 560.7h70.39v1.15h-70.39zM107.7 564.15h70.39v1.15h-70.39zM107.7 567.59h70.39v1.15h-70.39zM107.7 574.49h70.39v1.15h-70.39zM107.7 576.79h70.39v1.15h-70.39zM107.7 577.94h70.39v1.15h-70.39zM107.7 584.83h70.39v1.15h-70.39zM107.7 585.98h70.39v1.15h-70.39zM107.7 588.28h70.39v1.15h-70.39zM107.7 605.52h70.39v1.15h-70.39zM107.7 612.42h70.39v1.15h-70.39zM107.7 615.87h70.39v1.15h-70.39zM107.7 625.06h70.39v1.15h-70.39zM107.7 629.66h70.39v1.15h-70.39zM107.7 630.81h70.39v1.15h-70.39zM107.7 634.25h70.39v1.15h-70.39zM107.7 637.7h70.39v1.15h-70.39z"/>
<path fill="#7878a0" d="M107.7 471.05h70.39v1.15h-70.39zM107.7 475.65h70.39v1.15h-70.39zM107.7 479.09h70.39v1.15h-70.39zM107.7 480.24h70.39v1.15h-70.39zM107.7 484.84h70.39v1.15h-70.39zM107.7 485.99h70.39v1.15h-70.39zM107.7 490.59h70.39v1.15h-70.39zM107.7 491.74h70.39v1.15h-70.39zM107.7 503.23h70.39v1.15h-70.39zM107.7 505.53h70.39v1.15h-70.39zM107.7 507.83h70.39v1.15h-70.39zM107.7 513.57h70.39v1.15h-70.39zM107.7 514.72h70.39v1.15h-70.39zM107.7 520.47h70.39v1.15h-70.39zM107.7 522.77h70.39v1.15h-70.39zM107.7 526.22h70.39v1.15h-70.39zM107.7 535.41h70.39v1.15h-70.39zM107.7 536.56h70.39v1.15h-70.39zM107.7 542.31h70.39v1.15h-70.39zM107.7 548.05h70.39v1.15h-70.39zM107.7 550.35h70.39v1.15h-70.39zM107.7 553.8h70.39v1.15h-70.39zM107.7 556.1h70.39v1.15h-70.39zM107.7 563h70.39v1.15h-70.39zM107.7 568.74h70.39v1.15h-70.39zM107.7 569.89h70.39v1.15h-70.39zM107.7 575.64h70.39v1.15h-70.39zM107.7 581.39h70.39v1.15h-70.39zM107.7 583.68h70.39v1.15h-70.39zM107.7 589.43h70.39v1.15h-70.39zM107.7 590.58h70.39v1.15h-70.39zM107.7 595.18h70.39v1.15h-70.39zM107.7 598.63h70.39v1.15h-70.39zM107.7 604.37h70.39v1.15h-70.39zM107.7 611.27h70.39v1.15h-70.39zM107.7 613.57h70.39v1.15h-70.39zM107.7 614.72h70.39v1.15h-70.39zM107.7 618.16h70.39v1.15h-70.39zM107.7 621.61h70.39v1.15h-70.39zM107.7 622.76h70.39v1.15h-70.39zM107.7 623.91h70.39v1.15h-70.39zM107.7 635.4h70.39v1.15h-70.39zM107.7 641.15h70.39v1.15h-70.39z"/>
<path fill="#8080a0" d="M107.7 472.2h70.39v1.15h-70.39zM107.7 488.29h70.39v1.15h-70.39zM107.7 489.44h70.39v1.15h-70.39zM107.7 511.28h70.39v1.15h-70.39zM107.7 512.43h70.39v1.15h-70.39zM107.7 525.07h70.39v1.15h-70.39zM107.7 529.67h70.39v1.15h-70.39zM107.7 531.96h70.39v1.15h-70.39zM107.7 541.16h70.39v1.15h-70.39zM107.7 561.85h70.39v1.15h-70.39zM107.7 565.29h70.39v1.15h-70.39zM107.7 572.19h70.39v1.15h-70.39zM107.7 587.13h70.39v1.15h-70.39zM107.7 594.03h70.39v1.15h-70.39zM107.7 599.77h70.39v1.15h-70.39zM107.7 602.07h70.39v1.15h-70.39zM107.7 603.22h70.39v1.15h-70.39zM107.7 608.97h70.39v1.15h-70.39zM107.7 626.21h70.39v1.15h-70.39zM107.7 638.85h70.39v1.15h-70.39zM107.7 640h70.39v1.15h-70.39z"/>
<path fill="#6868a0" d="M107.7 476.8h70.39v1.15h-70.39zM107.7 497.48h70.39v1.15h-70.39zM107.7 498.63h70.39v1.15h-70.39zM107.7 517.02h70.39v1.15h-70.39zM107.7 528.52h70.39v1.15h-70.39zM107.7 544.61h70.39v1.15h-70.39zM107.7 552.65h70.39v1.15h-70.39zM107.7 559.55h70.39v1.15h-70.39zM107.7 566.44h70.39v1.15h-70.39zM107.7 573.34h70.39v1.15h-70.39zM107.7 582.53h70.39v1.15h-70.39zM107.7 591.73h70.39v1.15h-70.39zM107.7 596.33h70.39v1.15h-70.39zM107.7 597.48h70.39v1.15h-70.39zM107.7 600.92h70.39v1.15h-70.39zM107.7 610.12h70.39v1.15h-70.39zM107.7 620.46h70.39v1.15h-70.39zM107.7 627.36h70.39v1.15h-70.39z"/>
<path fill="#686898" d="M107.7 481.39h70.39v1.15h-70.39zM107.7 483.69h70.39v1.15h-70.39zM107.7 487.14h70.39v1.15h-70.39zM107.7 492.89h70.39v1.15h-70.39zM107.7 494.04h70.39v1.15h-70.39zM107.7 496.33h70.39v1.15h-70.39zM107.7 499.78h70.39v1.15h-70.39zM107.7 519.32h70.39v1.15h-70.39zM107.7 527.37h70.39v1.15h-70.39zM107.7 534.26h70.39v1.15h-70.39zM107.7 538.86h70.39v1.15h-70.39zM107.7 543.46h70.39v1.15h-70.39zM107.7 545.76h70.39v1.15h-70.39zM107.7 546.91h70.39v1.15h-70.39zM107.7 549.2h70.39v1.15h-70.39zM107.7 554.95h70.39v1.15h-70.39zM107.7 557.25h70.39v1.15h-70.39zM107.7 571.04h70.39v1.15h-70.39zM107.7 579.09h70.39v1.15h-70.39zM107.7 580.24h70.39v1.15h-70.39zM107.7 592.88h70.39v1.15h-70.39zM107.7 606.67h70.39v1.15h-70.39zM107.7 607.82h70.39v1.15h-70.39zM107.7 617.01h70.39v1.15h-70.39zM107.7 619.31h70.39v1.15h-70.39zM107.7 628.51h70.39v1.15h-70.39zM107.7 631.96h70.39v1.15h-70.39zM107.7 633.11h70.39v1.15h-70.39zM107.7 636.55h70.39v1.15h-70.39z"/>
<rect x="107.7" y="464.4" width="16.25" height="3.9" fill="#a82c40"/>
<text x="115.82" y="462.6" font-size="7.9" text-anchor="middle" fill="#231f20">A</text>
<rect x="123.95" y="464.4" width="28.88" height="3.9" fill="#3c5a88"/>
<text x="138.39" y="462.6" font-size="7.9" text-anchor="middle" fill="#231f20">B</text>
<rect x="152.82" y="464.4" width="16.25" height="3.9" fill="#6aa84e"/>
<text x="160.95" y="462.6" font-size="7.9" text-anchor="middle" fill="#231f20">C</text>
<rect x="169.07" y="464.4" width="9.03" height="3.9" fill="#6c4070"/>
<text x="173.58" y="462.6" font-size="7.9" text-anchor="middle" fill="#231f20">D</text>
<g filter="url(#hb)">
<path fill="#505088" d="M107.7 473.35h1.8v1.15h-1.8zM136.58 558.4h1.8v1.15h-1.8zM147.41 629.66h1.8v1.15h-1.8zM151.02 605.52h1.8v1.15h-1.8zM152.82 483.69h1.8v1.15h-1.8zM160.05 614.72h1.8v1.15h-1.8zM163.66 580.24h1.8v1.15h-1.8zM170.88 610.12h1.8v1.15h-1.8zM172.68 576.79h1.8v1.15h-1.8zM174.49 485.99h1.8v1.15h-1.8zM174.49 526.22h1.8v1.15h-1.8z"/>
<path fill="#888898" d="M107.7 485.99h1.8v1.15h-1.8zM107.7 536.56h1.8v1.15h-1.8zM107.7 561.85h1.8v1.15h-1.8zM107.7 595.18h1.8v1.15h-1.8zM107.7 611.27h1.8v1.15h-1.8zM107.7 630.81h1.8v1.15h-1.8zM109.51 505.53h1.8v1.15h-1.8zM109.51 607.82h1.8v1.15h-1.8zM111.31 472.2h1.8v1.15h-1.8zM111.31 575.64h1.8v1.15h-1.8zM111.31 606.67h1.8v1.15h-1.8zM113.12 498.63h1.8v1.15h-1.8zM113.12 507.83h1.8v1.15h-1.8zM113.12 513.57h1.8v1.15h-1.8zM113.12 542.31h1.8v1.15h-1.8zM113.12 608.97h1.8v1.15h-1.8zM114.92 503.23h1.8v1.15h-1.8zM114.92 534.26h1.8v1.15h-1.8zM116.73 503.23h1.8v1.15h-1.8zM116.73 523.92h1.8v1.15h-1.8zM116.73 596.33h1.8v1.15h-1.8zM116.73 637.7h1.8v1.15h-1.8zM118.53 507.83h1.8v1.15h-1.8zM118.53 581.39h1.8v1.15h-1.8zM118.53 608.97h1.8v1.15h-1.8zM120.34 488.29h1.8v1.15h-1.8zM120.34 494.04h1.8v1.15h-1.8zM120.34 526.22h1.8v1.15h-1.8zM120.34 567.59h1.8v1.15h-1.8zM120.34 610.12h1.8v1.15h-1.8zM120.34 623.91h1.8v1.15h-1.8zM122.14 515.87h1.8v1.15h-1.8zM122.14 533.11h1.8v1.15h-1.8zM122.14 535.41h1.8v1.15h-1.8zM122.14 622.76h1.8v1.15h-1.8zM122.14 633.11h1.8v1.15h-1.8zM123.95 488.29h1.8v1.15h-1.8zM123.95 511.28h1.8v1.15h-1.8zM123.95 630.81h1.8v1.15h-1.8zM125.75 543.46h1.8v1.15h-1.8zM125.75 552.65h1.8v1.15h-1.8zM125.75 577.94h1.8v1.15h-1.8zM125.75 613.57h1.8v1.15h-1.8zM127.56 510.13h1.8v1.15h-1.8zM127.56 517.02h1.8v1.15h-1.8zM127.56 525.07h1.8v1.15h-1.8zM127.56 541.16h1.8v1.15h-1.8zM127.56 558.4h1.8v1.15h-1.8zM127.56 566.44h1.8v1.15h-1.8zM127.56 575.64h1.8v1.15h-1.8zM127.56 590.58h1.8v1.15h-1.8zM129.36 514.72h1.8v1.15h-1.8zM129.36 572.19h1.8v1.15h-1.8zM129.36 591.73h1.8v1.15h-1.8zM131.16 508.98h1.8v1.15h-1.8zM131.16 511.28h1.8v1.15h-1.8zM132.97 475.65h1.8v1.15h-1.8zM132.97 510.13h1.8v1.15h-1.8zM132.97 533.11h1.8v1.15h-1.8zM132.97 543.46h1.8v1.15h-1.8zM132.97 591.73h1.8v1.15h-1.8zM132.97 621.61h1.8v1.15h-1.8zM134.78 491.74h1.8v1.15h-1.8zM134.78 544.61h1.8v1.15h-1.8zM134.78 602.07h1.8v1.15h-1.8zM136.58 538.86h1.8v1.15h-1.8zM136.58 557.25h1.8v1.15h-1.8zM136.58 571.04h1.8v1.15h-1.8zM136.58 594.03h1.8v1.15h-1.8zM138.38 500.93h1.8v1.15h-1.8zM138.38 576.79h1.8v1.15h-1.8zM138.38 637.7h1.8v1.15h-1.8zM140.19 534.26h1.8v1.15h-1.8zM140.19 595.18h1.8v1.15h-1.8zM140.19 610.12h1.8v1.15h-1.8zM142 485.99h1.8v1.15h-1.8zM142 565.29h1.8v1.15h-1.8zM142 585.98h1.8v1.15h-1.8zM142 603.22h1.8v1.15h-1.8zM142 620.46h1.8v1.15h-1.8zM143.8 488.29h1.8v1.15h-1.8zM143.8 520.47h1.8v1.15h-1.8zM143.8 521.62h1.8v1.15h-1.8zM143.8 525.07h1.8v1.15h-1.8zM143.8 541.16h1.8v1.15h-1.8zM145.61 517.02h1.8v1.15h-1.8zM145.61 528.52h1.8v1.15h-1.8zM145.61 612.42h1.8v1.15h-1.8zM147.41 512.43h1.8v1.15h-1.8zM147.41 600.92h1.8v1.15h-1.8zM147.41 612.42h1.8v1.15h-1.8zM147.41 614.72h1.8v1.15h-1.8zM147.41 635.4h1.8v1.15h-1.8zM149.22 500.93h1.8v1.15h-1.8zM149.22 518.17h1.8v1.15h-1.8zM149.22 614.72h1.8v1.15h-1.8zM151.02 597.48h1.8v1.15h-1.8zM151.02 612.42h1.8v1.15h-1.8zM151.02 623.91h1.8v1.15h-1.8zM152.82 512.43h1.8v1.15h-1.8zM152.82 529.67h1.8v1.15h-1.8zM152.82 531.96h1.8v1.15h-1.8zM152.82 603.22h1.8v1.15h-1.8zM154.63 491.74h1.8v1.15h-1.8zM154.63 537.71h1.8v1.15h-1.8zM154.63 595.18h1.8v1.15h-1.8zM156.44 526.22h1.8v1.15h-1.8zM158.24 520.47h1.8v1.15h-1.8zM158.24 534.26h1.8v1.15h-1.8zM158.24 563h1.8v1.15h-1.8zM158.24 566.44h1.8v1.15h-1.8zM158.24 594.03h1.8v1.15h-1.8zM160.05 541.16h1.8v1.15h-1.8zM160.05 582.53h1.8v1.15h-1.8zM161.85 485.99h1.8v1.15h-1.8zM161.85 544.61h1.8v1.15h-1.8zM161.85 604.37h1.8v1.15h-1.8zM161.85 637.7h1.8v1.15h-1.8zM163.66 502.08h1.8v1.15h-1.8zM163.66 527.37h1.8v1.15h-1.8zM163.66 529.67h1.8v1.15h-1.8zM163.66 607.82h1.8v1.15h-1.8zM163.66 613.57h1.8v1.15h-1.8zM163.66 615.87h1.8v1.15h-1.8zM163.66 618.16h1.8v1.15h-1.8zM163.66 633.11h1.8v1.15h-1.8zM165.46 497.48h1.8v1.15h-1.8zM165.46 583.68h1.8v1.15h-1.8zM165.46 611.27h1.8v1.15h-1.8zM165.46 622.76h1.8v1.15h-1.8zM167.26 497.48h1.8v1.15h-1.8zM169.07 490.59h1.8v1.15h-1.8zM169.07 495.19h1.8v1.15h-1.8zM169.07 565.29h1.8v1.15h-1.8zM169.07 587.13h1.8v1.15h-1.8zM170.88 597.48h1.8v1.15h-1.8zM172.68 520.47h1.8v1.15h-1.8zM174.49 610.12h1.8v1.15h-1.8zM174.49 621.61h1.8v1.15h-1.8zM176.29 513.57h1.8v1.15h-1.8zM176.29 534.26h1.8v1.15h-1.8zM176.29 550.35h1.8v1.15h-1.8zM176.29 551.5h1.8v1.15h-1.8zM176.29 580.24h1.8v1.15h-1.8zM176.29 625.06h1.8v1.15h-1.8z"/>
<path fill="#b8b878" d="M107.7 487.14h1.8v1.15h-1.8zM109.51 552.65h1.8v1.15h-1.8zM109.51 630.81h1.8v1.15h-1.8zM111.31 517.02h1.8v1.15h-1.8zM111.31 568.74h1.8v1.15h-1.8zM118.53 525.07h1.8v1.15h-1.8zM118.53 542.31h1.8v1.15h-1.8zM118.53 551.5h1.8v1.15h-1.8zM123.95 550.35h1.8v1.15h-1.8zM125.75 618.16h1.8v1.15h-1.8zM127.56 582.53h1.8v1.15h-1.8zM127.56 589.43h1.8v1.15h-1.8zM129.36 626.21h1.8v1.15h-1.8zM132.97 474.5h1.8v1.15h-1.8zM132.97 514.72h1.8v1.15h-1.8zM134.78 504.38h1.8v1.15h-1.8zM138.38 607.82h1.8v1.15h-1.8zM140.19 529.67h1.8v1.15h-1.8zM140.19 572.19h1.8v1.15h-1.8zM142 559.55h1.8v1.15h-1.8zM147.41 534.26h1.8v1.15h-1.8zM149.22 475.65h1.8v1.15h-1.8zM149.22 623.91h1.8v1.15h-1.8zM151.02 473.35h1.8v1.15h-1.8zM151.02 487.14h1.8v1.15h-1.8zM151.02 542.31h1.8v1.15h-1.8zM151.02 592.88h1.8v1.15h-1.8zM151.02 611.27h1.8v1.15h-1.8zM154.63 500.93h1.8v1.15h-1.8zM156.44 536.56h1.8v1.15h-1.8zM156.44 627.36h1.8v1.15h-1.8zM160.05 540.01h1.8v1.15h-1.8zM160.05 581.39h1.8v1.15h-1.8zM160.05 618.16h1.8v1.15h-1.8zM161.85 496.33h1.8v1.15h-1.8zM161.85 559.55h1.8v1.15h-1.8zM163.66 545.76h1.8v1.15h-1.8zM163.66 602.07h1.8v1.15h-1.8zM165.46 564.15h1.8v1.15h-1.8zM169.07 563h1.8v1.15h-1.8zM169.07 564.15h1.8v1.15h-1.8zM169.07 594.03h1.8v1.15h-1.8zM170.88 482.54h1.8v1.15h-1.8zM170.88 636.55h1.8v1.15h-1.8zM172.68 546.91h1.8v1.15h-1.8zM174.49 546.91h1.8v1.15h-1.8zM176.29 545.76h1.8v1.15h-1.8z"/>
<path fill="#504888" d="M107.7 491.74h1.8v1.15h-1.8zM129.36 476.8h1.8v1.15h-1.8zM158.24 488.29h1.8v1.15h-1.8z"/>
<path fill="#f0e848" d="M107.7 492.89h1.8v1.15h-1.8zM107.7 551.5h1.8v1.15h-1.8zM109.51 473.35h1.8v1.15h-1.8zM109.51 484.84h1.8v1.15h-1.8zM111.31 515.87h1.8v1.15h-1.8zM111.31 587.13h1.8v1.15h-1.8zM111.31 594.03h1.8v1.15h-1.8zM111.31 636.55h1.8v1.15h-1.8zM113.12 546.91h1.8v1.15h-1.8zM114.92 525.07h1.8v1.15h-1.8zM118.53 526.22h1.8v1.15h-1.8zM120.34 508.98h1.8v1.15h-1.8zM120.34 522.77h1.8v1.15h-1.8zM123.95 573.34h1.8v1.15h-1.8zM125.75 490.59h1.8v1.15h-1.8zM125.75 526.22h1.8v1.15h-1.8zM125.75 530.81h1.8v1.15h-1.8zM127.56 538.86h1.8v1.15h-1.8zM127.56 540.01h1.8v1.15h-1.8zM127.56 563h1.8v1.15h-1.8zM127.56 573.34h1.8v1.15h-1.8zM127.56 611.27h1.8v1.15h-1.8zM127.56 618.16h1.8v1.15h-1.8zM129.36 525.07h1.8v1.15h-1.8zM131.16 473.35h1.8v1.15h-1.8zM131.16 481.39h1.8v1.15h-1.8zM131.16 553.8h1.8v1.15h-1.8zM131.16 589.43h1.8v1.15h-1.8zM131.16 611.27h1.8v1.15h-1.8zM131.16 635.4h1.8v1.15h-1.8zM132.97 525.07h1.8v1.15h-1.8zM136.58 514.72h1.8v1.15h-1.8zM140.19 525.07h1.8v1.15h-1.8zM142 635.4h1.8v1.15h-1.8zM143.8 475.65h1.8v1.15h-1.8zM143.8 614.72h1.8v1.15h-1.8zM143.8 633.11h1.8v1.15h-1.8zM145.61 553.8h1.8v1.15h-1.8zM145.61 597.48h1.8v1.15h-1.8zM147.41 496.33h1.8v1.15h-1.8zM147.41 527.37h1.8v1.15h-1.8zM149.22 577.94h1.8v1.15h-1.8zM149.22 589.43h1.8v1.15h-1.8zM151.02 508.98h1.8v1.15h-1.8zM151.02 584.83h1.8v1.15h-1.8zM151.02 598.63h1.8v1.15h-1.8zM151.02 618.16h1.8v1.15h-1.8zM151.02 625.06h1.8v1.15h-1.8zM152.82 521.62h1.8v1.15h-1.8zM152.82 626.21h1.8v1.15h-1.8zM152.82 635.4h1.8v1.15h-1.8zM154.63 507.83h1.8v1.15h-1.8zM154.63 567.59h1.8v1.15h-1.8zM156.44 487.14h1.8v1.15h-1.8zM158.24 543.46h1.8v1.15h-1.8zM158.24 576.79h1.8v1.15h-1.8zM160.05 587.13h1.8v1.15h-1.8zM160.05 596.33h1.8v1.15h-1.8zM161.85 521.62h1.8v1.15h-1.8zM161.85 549.2h1.8v1.15h-1.8zM165.46 471.05h1.8v1.15h-1.8zM165.46 492.89h1.8v1.15h-1.8zM165.46 537.71h1.8v1.15h-1.8zM165.46 608.97h1.8v1.15h-1.8zM167.26 476.8h1.8v1.15h-1.8zM169.07 506.68h1.8v1.15h-1.8zM169.07 517.02h1.8v1.15h-1.8zM169.07 538.86h1.8v1.15h-1.8zM169.07 612.42h1.8v1.15h-1.8zM170.88 554.95h1.8v1.15h-1.8zM172.68 513.57h1.8v1.15h-1.8zM172.68 533.11h1.8v1.15h-1.8zM172.68 556.1h1.8v1.15h-1.8zM174.49 497.48h1.8v1.15h-1.8zM176.29 480.24h1.8v1.15h-1.8zM176.29 481.39h1.8v1.15h-1.8zM176.29 529.67h1.8v1.15h-1.8z"/>
<path fill="#a8a888" d="M107.7 502.08h1.8v1.15h-1.8zM111.31 564.15h1.8v1.15h-1.8zM113.12 499.78h1.8v1.15h-1.8zM113.12 626.21h1.8v1.15h-1.8zM114.92 527.37h1.8v1.15h-1.8zM114.92 530.81h1.8v1.15h-1.8zM116.73 560.7h1.8v1.15h-1.8zM116.73 625.06h1.8v1.15h-1.8zM116.73 631.96h1.8v1.15h-1.8zM118.53 590.58h1.8v1.15h-1.8zM120.34 519.32h1.8v1.15h-1.8zM122.14 514.72h1.8v1.15h-1.8zM122.14 529.67h1.8v1.15h-1.8zM122.14 576.79h1.8v1.15h-1.8zM123.95 530.81h1.8v1.15h-1.8zM123.95 556.1h1.8v1.15h-1.8zM123.95 588.28h1.8v1.15h-1.8zM125.75 528.52h1.8v1.15h-1.8zM125.75 589.43h1.8v1.15h-1.8zM127.56 522.77h1.8v1.15h-1.8zM127.56 527.37h1.8v1.15h-1.8zM129.36 507.83h1.8v1.15h-1.8zM129.36 582.53h1.8v1.15h-1.8zM131.16 476.8h1.8v1.15h-1.8zM131.16 584.83h1.8v1.15h-1.8zM131.16 615.87h1.8v1.15h-1.8zM132.97 506.68h1.8v1.15h-1.8zM132.97 515.87h1.8v1.15h-1.8zM132.97 540.01h1.8v1.15h-1.8zM132.97 554.95h1.8v1.15h-1.8zM132.97 557.25h1.8v1.15h-1.8zM134.78 481.39h1.8v1.15h-1.8zM134.78 610.12h1.8v1.15h-1.8zM136.58 590.58h1.8v1.15h-1.8zM136.58 600.92h1.8v1.15h-1.8zM138.38 577.94h1.8v1.15h-1.8zM138.38 600.92h1.8v1.15h-1.8zM140.19 513.57h1.8v1.15h-1.8zM140.19 577.94h1.8v1.15h-1.8zM142 627.36h1.8v1.15h-1.8zM142 630.81h1.8v1.15h-1.8zM143.8 480.24h1.8v1.15h-1.8zM143.8 485.99h1.8v1.15h-1.8zM143.8 537.71h1.8v1.15h-1.8zM145.61 491.74h1.8v1.15h-1.8zM145.61 523.92h1.8v1.15h-1.8zM145.61 640h1.8v1.15h-1.8zM147.41 514.72h1.8v1.15h-1.8zM147.41 579.09h1.8v1.15h-1.8zM147.41 587.13h1.8v1.15h-1.8zM149.22 538.86h1.8v1.15h-1.8zM149.22 576.79h1.8v1.15h-1.8zM151.02 484.84h1.8v1.15h-1.8zM151.02 525.07h1.8v1.15h-1.8zM151.02 582.53h1.8v1.15h-1.8zM152.82 495.19h1.8v1.15h-1.8zM152.82 536.56h1.8v1.15h-1.8zM152.82 595.18h1.8v1.15h-1.8zM152.82 597.48h1.8v1.15h-1.8zM152.82 599.77h1.8v1.15h-1.8zM152.82 625.06h1.8v1.15h-1.8zM154.63 557.25h1.8v1.15h-1.8zM156.44 473.35h1.8v1.15h-1.8zM156.44 520.47h1.8v1.15h-1.8zM156.44 575.64h1.8v1.15h-1.8zM156.44 608.97h1.8v1.15h-1.8zM156.44 630.81h1.8v1.15h-1.8zM158.24 498.63h1.8v1.15h-1.8zM158.24 585.98h1.8v1.15h-1.8zM158.24 611.27h1.8v1.15h-1.8zM161.85 557.25h1.8v1.15h-1.8zM161.85 606.67h1.8v1.15h-1.8zM163.66 490.59h1.8v1.15h-1.8zM163.66 604.37h1.8v1.15h-1.8zM165.46 604.37h1.8v1.15h-1.8zM167.26 598.63h1.8v1.15h-1.8zM167.26 634.25h1.8v1.15h-1.8zM169.07 496.33h1.8v1.15h-1.8zM169.07 500.93h1.8v1.15h-1.8zM169.07 560.7h1.8v1.15h-1.8zM170.88 499.78h1.8v1.15h-1.8zM172.68 475.65h1.8v1.15h-1.8zM172.68 558.4h1.8v1.15h-1.8zM172.68 617.01h1.8v1.15h-1.8zM174.49 483.69h1.8v1.15h-1.8zM174.49 508.98h1.8v1.15h-1.8zM174.49 512.43h1.8v1.15h-1.8zM174.49 533.11h1.8v1.15h-1.8zM174.49 588.28h1.8v1.15h-1.8zM174.49 637.7h1.8v1.15h-1.8zM176.29 482.54h1.8v1.15h-1.8zM176.29 484.84h1.8v1.15h-1.8zM176.29 506.68h1.8v1.15h-1.8zM176.29 554.95h1.8v1.15h-1.8zM176.29 582.53h1.8v1.15h-1.8zM176.29 626.21h1.8v1.15h-1.8z"/>
<path fill="#909098" d="M107.7 506.68h1.8v1.15h-1.8zM107.7 564.15h1.8v1.15h-1.8zM107.7 621.61h1.8v1.15h-1.8zM109.51 589.43h1.8v1.15h-1.8zM111.31 540.01h1.8v1.15h-1.8zM114.92 557.25h1.8v1.15h-1.8zM114.92 600.92h1.8v1.15h-1.8zM114.92 611.27h1.8v1.15h-1.8zM114.92 618.16h1.8v1.15h-1.8zM116.73 490.59h1.8v1.15h-1.8zM116.73 518.17h1.8v1.15h-1.8zM116.73 529.67h1.8v1.15h-1.8zM116.73 610.12h1.8v1.15h-1.8zM116.73 635.4h1.8v1.15h-1.8zM118.53 571.04h1.8v1.15h-1.8zM120.34 487.14h1.8v1.15h-1.8zM120.34 557.25h1.8v1.15h-1.8zM122.14 491.74h1.8v1.15h-1.8zM122.14 580.24h1.8v1.15h-1.8zM123.95 471.05h1.8v1.15h-1.8zM123.95 537.71h1.8v1.15h-1.8zM123.95 540.01h1.8v1.15h-1.8zM123.95 563h1.8v1.15h-1.8zM123.95 611.27h1.8v1.15h-1.8zM123.95 625.06h1.8v1.15h-1.8zM123.95 636.55h1.8v1.15h-1.8zM127.56 469.9h1.8v1.15h-1.8zM127.56 556.1h1.8v1.15h-1.8zM127.56 560.7h1.8v1.15h-1.8zM127.56 583.68h1.8v1.15h-1.8zM127.56 596.33h1.8v1.15h-1.8zM127.56 605.52h1.8v1.15h-1.8zM127.56 641.15h1.8v1.15h-1.8zM129.36 533.11h1.8v1.15h-1.8zM129.36 563h1.8v1.15h-1.8zM131.16 520.47h1.8v1.15h-1.8zM131.16 560.7h1.8v1.15h-1.8zM131.16 582.53h1.8v1.15h-1.8zM132.97 469.9h1.8v1.15h-1.8zM132.97 481.39h1.8v1.15h-1.8zM132.97 542.31h1.8v1.15h-1.8zM134.78 503.23h1.8v1.15h-1.8zM134.78 531.96h1.8v1.15h-1.8zM134.78 560.7h1.8v1.15h-1.8zM136.58 484.84h1.8v1.15h-1.8zM136.58 534.26h1.8v1.15h-1.8zM136.58 546.91h1.8v1.15h-1.8zM136.58 559.55h1.8v1.15h-1.8zM136.58 611.27h1.8v1.15h-1.8zM136.58 621.61h1.8v1.15h-1.8zM138.38 495.19h1.8v1.15h-1.8zM138.38 534.26h1.8v1.15h-1.8zM138.38 588.28h1.8v1.15h-1.8zM138.38 589.43h1.8v1.15h-1.8zM138.38 590.58h1.8v1.15h-1.8zM138.38 605.52h1.8v1.15h-1.8zM138.38 623.91h1.8v1.15h-1.8zM140.19 477.95h1.8v1.15h-1.8zM140.19 506.68h1.8v1.15h-1.8zM140.19 538.86h1.8v1.15h-1.8zM140.19 544.61h1.8v1.15h-1.8zM140.19 582.53h1.8v1.15h-1.8zM140.19 623.91h1.8v1.15h-1.8zM142 522.77h1.8v1.15h-1.8zM143.8 476.8h1.8v1.15h-1.8zM143.8 559.55h1.8v1.15h-1.8zM143.8 587.13h1.8v1.15h-1.8zM145.61 582.53h1.8v1.15h-1.8zM147.41 488.29h1.8v1.15h-1.8zM147.41 577.94h1.8v1.15h-1.8zM147.41 623.91h1.8v1.15h-1.8zM147.41 626.21h1.8v1.15h-1.8zM149.22 517.02h1.8v1.15h-1.8zM149.22 523.92h1.8v1.15h-1.8zM149.22 558.4h1.8v1.15h-1.8zM151.02 475.65h1.8v1.15h-1.8zM151.02 482.54h1.8v1.15h-1.8zM151.02 528.52h1.8v1.15h-1.8zM151.02 550.35h1.8v1.15h-1.8zM151.02 568.74h1.8v1.15h-1.8zM152.82 585.98h1.8v1.15h-1.8zM152.82 640h1.8v1.15h-1.8zM154.63 554.95h1.8v1.15h-1.8zM154.63 600.92h1.8v1.15h-1.8zM154.63 633.11h1.8v1.15h-1.8zM154.63 636.55h1.8v1.15h-1.8zM156.44 596.33h1.8v1.15h-1.8zM158.24 496.33h1.8v1.15h-1.8zM158.24 583.68h1.8v1.15h-1.8zM158.24 615.87h1.8v1.15h-1.8zM158.24 640h1.8v1.15h-1.8zM160.05 481.39h1.8v1.15h-1.8zM160.05 490.59h1.8v1.15h-1.8zM160.05 506.68h1.8v1.15h-1.8zM160.05 548.05h1.8v1.15h-1.8zM160.05 612.42h1.8v1.15h-1.8zM161.85 499.78h1.8v1.15h-1.8zM161.85 542.31h1.8v1.15h-1.8zM161.85 550.35h1.8v1.15h-1.8zM161.85 554.95h1.8v1.15h-1.8zM161.85 575.64h1.8v1.15h-1.8zM161.85 592.88h1.8v1.15h-1.8zM161.85 599.77h1.8v1.15h-1.8zM161.85 619.31h1.8v1.15h-1.8zM163.66 479.09h1.8v1.15h-1.8zM163.66 514.72h1.8v1.15h-1.8zM163.66 550.35h1.8v1.15h-1.8zM165.46 481.39h1.8v1.15h-1.8zM165.46 489.44h1.8v1.15h-1.8zM165.46 587.13h1.8v1.15h-1.8zM165.46 596.33h1.8v1.15h-1.8zM165.46 640h1.8v1.15h-1.8zM167.26 488.29h1.8v1.15h-1.8zM167.26 528.52h1.8v1.15h-1.8zM167.26 580.24h1.8v1.15h-1.8zM167.26 603.22h1.8v1.15h-1.8zM169.07 620.46h1.8v1.15h-1.8zM169.07 627.36h1.8v1.15h-1.8zM170.88 528.52h1.8v1.15h-1.8zM170.88 634.25h1.8v1.15h-1.8zM172.68 484.84h1.8v1.15h-1.8zM172.68 511.28h1.8v1.15h-1.8zM172.68 551.5h1.8v1.15h-1.8zM174.49 518.17h1.8v1.15h-1.8zM174.49 613.57h1.8v1.15h-1.8zM176.29 536.56h1.8v1.15h-1.8zM176.29 558.4h1.8v1.15h-1.8zM176.29 572.19h1.8v1.15h-1.8zM176.29 583.68h1.8v1.15h-1.8z"/>
<path fill="#e8d850" d="M107.7 534.26h1.8v1.15h-1.8zM114.92 625.06h1.8v1.15h-1.8zM131.16 507.83h1.8v1.15h-1.8zM152.82 567.59h1.8v1.15h-1.8zM156.44 538.86h1.8v1.15h-1.8zM170.88 529.67h1.8v1.15h-1.8zM172.68 607.82h1.8v1.15h-1.8z"/>
<path fill="#b0a888" d="M107.7 541.16h1.8v1.15h-1.8zM109.51 504.38h1.8v1.15h-1.8zM109.51 566.44h1.8v1.15h-1.8zM111.31 491.74h1.8v1.15h-1.8zM113.12 526.22h1.8v1.15h-1.8zM113.12 550.35h1.8v1.15h-1.8zM114.92 512.43h1.8v1.15h-1.8zM116.73 589.43h1.8v1.15h-1.8zM120.34 603.22h1.8v1.15h-1.8zM122.14 568.74h1.8v1.15h-1.8zM123.95 472.2h1.8v1.15h-1.8zM125.75 567.59h1.8v1.15h-1.8zM127.56 614.72h1.8v1.15h-1.8zM129.36 544.61h1.8v1.15h-1.8zM129.36 604.37h1.8v1.15h-1.8zM131.16 558.4h1.8v1.15h-1.8zM131.16 636.55h1.8v1.15h-1.8zM132.97 589.43h1.8v1.15h-1.8zM138.38 618.16h1.8v1.15h-1.8zM140.19 613.57h1.8v1.15h-1.8zM142 561.85h1.8v1.15h-1.8zM143.8 611.27h1.8v1.15h-1.8zM145.61 610.12h1.8v1.15h-1.8zM147.41 618.16h1.8v1.15h-1.8zM149.22 479.09h1.8v1.15h-1.8zM149.22 498.63h1.8v1.15h-1.8zM149.22 587.13h1.8v1.15h-1.8zM154.63 484.84h1.8v1.15h-1.8zM154.63 552.65h1.8v1.15h-1.8zM156.44 497.48h1.8v1.15h-1.8zM156.44 612.42h1.8v1.15h-1.8zM161.85 525.07h1.8v1.15h-1.8zM172.68 544.61h1.8v1.15h-1.8z"/>
<path fill="#989898" d="M107.7 545.76h1.8v1.15h-1.8zM109.51 536.56h1.8v1.15h-1.8zM109.51 603.22h1.8v1.15h-1.8zM109.51 623.91h1.8v1.15h-1.8zM111.31 511.28h1.8v1.15h-1.8zM111.31 603.22h1.8v1.15h-1.8zM113.12 531.96h1.8v1.15h-1.8zM113.12 615.87h1.8v1.15h-1.8zM113.12 625.06h1.8v1.15h-1.8zM114.92 494.04h1.8v1.15h-1.8zM114.92 529.67h1.8v1.15h-1.8zM114.92 595.18h1.8v1.15h-1.8zM116.73 617.01h1.8v1.15h-1.8zM118.53 623.91h1.8v1.15h-1.8zM118.53 640h1.8v1.15h-1.8zM122.14 482.54h1.8v1.15h-1.8zM122.14 520.47h1.8v1.15h-1.8zM122.14 527.37h1.8v1.15h-1.8zM125.75 481.39h1.8v1.15h-1.8zM127.56 480.24h1.8v1.15h-1.8zM127.56 500.93h1.8v1.15h-1.8zM129.36 505.53h1.8v1.15h-1.8zM129.36 585.98h1.8v1.15h-1.8zM129.36 590.58h1.8v1.15h-1.8zM131.16 579.09h1.8v1.15h-1.8zM132.97 521.62h1.8v1.15h-1.8zM132.97 528.52h1.8v1.15h-1.8zM134.78 489.44h1.8v1.15h-1.8zM134.78 518.17h1.8v1.15h-1.8zM134.78 575.64h1.8v1.15h-1.8zM134.78 630.81h1.8v1.15h-1.8zM136.58 479.09h1.8v1.15h-1.8zM136.58 496.33h1.8v1.15h-1.8zM136.58 633.11h1.8v1.15h-1.8zM138.38 492.89h1.8v1.15h-1.8zM138.38 625.06h1.8v1.15h-1.8zM140.19 585.98h1.8v1.15h-1.8zM142 634.25h1.8v1.15h-1.8zM143.8 471.05h1.8v1.15h-1.8zM143.8 484.84h1.8v1.15h-1.8zM143.8 567.59h1.8v1.15h-1.8zM143.8 569.89h1.8v1.15h-1.8zM143.8 620.46h1.8v1.15h-1.8zM145.61 475.65h1.8v1.15h-1.8zM145.61 520.47h1.8v1.15h-1.8zM145.61 529.67h1.8v1.15h-1.8zM147.41 469.9h1.8v1.15h-1.8zM147.41 473.35h1.8v1.15h-1.8zM147.41 526.22h1.8v1.15h-1.8zM149.22 477.95h1.8v1.15h-1.8zM149.22 485.99h1.8v1.15h-1.8zM149.22 537.71h1.8v1.15h-1.8zM149.22 565.29h1.8v1.15h-1.8zM149.22 600.92h1.8v1.15h-1.8zM149.22 634.25h1.8v1.15h-1.8zM151.02 481.39h1.8v1.15h-1.8zM151.02 531.96h1.8v1.15h-1.8zM151.02 629.66h1.8v1.15h-1.8zM152.82 513.57h1.8v1.15h-1.8zM152.82 590.58h1.8v1.15h-1.8zM154.63 543.46h1.8v1.15h-1.8zM156.44 599.77h1.8v1.15h-1.8zM158.24 489.44h1.8v1.15h-1.8zM160.05 522.77h1.8v1.15h-1.8zM160.05 550.35h1.8v1.15h-1.8zM160.05 576.79h1.8v1.15h-1.8zM160.05 626.21h1.8v1.15h-1.8zM161.85 497.48h1.8v1.15h-1.8zM161.85 564.15h1.8v1.15h-1.8zM161.85 607.82h1.8v1.15h-1.8zM161.85 633.11h1.8v1.15h-1.8zM169.07 483.69h1.8v1.15h-1.8zM169.07 527.37h1.8v1.15h-1.8zM169.07 559.55h1.8v1.15h-1.8zM170.88 551.5h1.8v1.15h-1.8zM170.88 552.65h1.8v1.15h-1.8zM170.88 569.89h1.8v1.15h-1.8zM170.88 600.92h1.8v1.15h-1.8zM172.68 540.01h1.8v1.15h-1.8zM172.68 553.8h1.8v1.15h-1.8zM174.49 520.47h1.8v1.15h-1.8zM174.49 545.76h1.8v1.15h-1.8zM174.49 623.91h1.8v1.15h-1.8z"/>
<path fill="#b8b080" d="M107.7 550.35h1.8v1.15h-1.8zM107.7 577.94h1.8v1.15h-1.8zM107.7 591.73h1.8v1.15h-1.8zM109.51 485.99h1.8v1.15h-1.8zM111.31 476.8h1.8v1.15h-1.8zM111.31 585.98h1.8v1.15h-1.8zM111.31 598.63h1.8v1.15h-1.8zM111.31 602.07h1.8v1.15h-1.8zM116.73 592.88h1.8v1.15h-1.8zM116.73 607.82h1.8v1.15h-1.8zM118.53 517.02h1.8v1.15h-1.8zM118.53 576.79h1.8v1.15h-1.8zM120.34 628.51h1.8v1.15h-1.8zM122.14 590.58h1.8v1.15h-1.8zM123.95 535.41h1.8v1.15h-1.8zM127.56 615.87h1.8v1.15h-1.8zM127.56 627.36h1.8v1.15h-1.8zM129.36 506.68h1.8v1.15h-1.8zM129.36 527.37h1.8v1.15h-1.8zM131.16 592.88h1.8v1.15h-1.8zM131.16 608.97h1.8v1.15h-1.8zM132.97 489.44h1.8v1.15h-1.8zM132.97 628.51h1.8v1.15h-1.8zM134.78 565.29h1.8v1.15h-1.8zM134.78 605.52h1.8v1.15h-1.8zM136.58 499.78h1.8v1.15h-1.8zM136.58 537.71h1.8v1.15h-1.8zM138.38 480.24h1.8v1.15h-1.8zM138.38 510.13h1.8v1.15h-1.8zM140.19 485.99h1.8v1.15h-1.8zM140.19 535.41h1.8v1.15h-1.8zM140.19 583.68h1.8v1.15h-1.8zM142 529.67h1.8v1.15h-1.8zM143.8 556.1h1.8v1.15h-1.8zM145.61 584.83h1.8v1.15h-1.8zM145.61 617.01h1.8v1.15h-1.8zM147.41 503.23h1.8v1.15h-1.8zM147.41 563h1.8v1.15h-1.8zM149.22 510.13h1.8v1.15h-1.8zM151.02 474.5h1.8v1.15h-1.8zM151.02 535.41h1.8v1.15h-1.8zM151.02 580.24h1.8v1.15h-1.8zM152.82 475.65h1.8v1.15h-1.8zM152.82 527.37h1.8v1.15h-1.8zM154.63 512.43h1.8v1.15h-1.8zM154.63 548.05h1.8v1.15h-1.8zM154.63 573.34h1.8v1.15h-1.8zM158.24 529.67h1.8v1.15h-1.8zM160.05 519.32h1.8v1.15h-1.8zM160.05 554.95h1.8v1.15h-1.8zM161.85 556.1h1.8v1.15h-1.8zM161.85 576.79h1.8v1.15h-1.8zM163.66 636.55h1.8v1.15h-1.8zM167.26 537.71h1.8v1.15h-1.8zM169.07 585.98h1.8v1.15h-1.8zM169.07 617.01h1.8v1.15h-1.8zM172.68 481.39h1.8v1.15h-1.8zM172.68 491.74h1.8v1.15h-1.8zM174.49 530.81h1.8v1.15h-1.8zM176.29 549.2h1.8v1.15h-1.8zM176.29 608.97h1.8v1.15h-1.8zM176.29 620.46h1.8v1.15h-1.8z"/>
<path fill="#b0b080" d="M107.7 558.4h1.8v1.15h-1.8zM107.7 581.39h1.8v1.15h-1.8zM107.7 585.98h1.8v1.15h-1.8zM107.7 607.82h1.8v1.15h-1.8zM109.51 490.59h1.8v1.15h-1.8zM109.51 496.33h1.8v1.15h-1.8zM109.51 511.28h1.8v1.15h-1.8zM109.51 548.05h1.8v1.15h-1.8zM109.51 600.92h1.8v1.15h-1.8zM109.51 638.85h1.8v1.15h-1.8zM111.31 471.05h1.8v1.15h-1.8zM111.31 500.93h1.8v1.15h-1.8zM113.12 595.18h1.8v1.15h-1.8zM113.12 603.22h1.8v1.15h-1.8zM113.12 619.31h1.8v1.15h-1.8zM113.12 635.4h1.8v1.15h-1.8zM116.73 540.01h1.8v1.15h-1.8zM116.73 582.53h1.8v1.15h-1.8zM118.53 535.41h1.8v1.15h-1.8zM118.53 556.1h1.8v1.15h-1.8zM120.34 590.58h1.8v1.15h-1.8zM120.34 635.4h1.8v1.15h-1.8zM122.14 528.52h1.8v1.15h-1.8zM122.14 560.7h1.8v1.15h-1.8zM123.95 585.98h1.8v1.15h-1.8zM125.75 469.9h1.8v1.15h-1.8zM127.56 542.31h1.8v1.15h-1.8zM131.16 594.03h1.8v1.15h-1.8zM132.97 502.08h1.8v1.15h-1.8zM136.58 554.95h1.8v1.15h-1.8zM136.58 566.44h1.8v1.15h-1.8zM138.38 482.54h1.8v1.15h-1.8zM142 541.16h1.8v1.15h-1.8zM142 552.65h1.8v1.15h-1.8zM143.8 498.63h1.8v1.15h-1.8zM143.8 557.25h1.8v1.15h-1.8zM143.8 563h1.8v1.15h-1.8zM145.61 489.44h1.8v1.15h-1.8zM145.61 507.83h1.8v1.15h-1.8zM147.41 515.87h1.8v1.15h-1.8zM147.41 546.91h1.8v1.15h-1.8zM149.22 525.07h1.8v1.15h-1.8zM151.02 497.48h1.8v1.15h-1.8zM151.02 591.73h1.8v1.15h-1.8zM152.82 519.32h1.8v1.15h-1.8zM152.82 546.91h1.8v1.15h-1.8zM152.82 553.8h1.8v1.15h-1.8zM152.82 558.4h1.8v1.15h-1.8zM152.82 561.85h1.8v1.15h-1.8zM154.63 533.11h1.8v1.15h-1.8zM154.63 596.33h1.8v1.15h-1.8zM154.63 631.96h1.8v1.15h-1.8zM156.44 476.8h1.8v1.15h-1.8zM156.44 613.57h1.8v1.15h-1.8zM156.44 628.51h1.8v1.15h-1.8zM160.05 636.55h1.8v1.15h-1.8zM161.85 477.95h1.8v1.15h-1.8zM165.46 505.53h1.8v1.15h-1.8zM165.46 590.58h1.8v1.15h-1.8zM165.46 636.55h1.8v1.15h-1.8zM167.26 571.04h1.8v1.15h-1.8zM169.07 484.84h1.8v1.15h-1.8zM169.07 533.11h1.8v1.15h-1.8zM170.88 533.11h1.8v1.15h-1.8zM170.88 627.36h1.8v1.15h-1.8zM172.68 477.95h1.8v1.15h-1.8zM172.68 506.68h1.8v1.15h-1.8zM172.68 507.83h1.8v1.15h-1.8zM172.68 636.55h1.8v1.15h-1.8zM172.68 641.15h1.8v1.15h-1.8zM174.49 590.58h1.8v1.15h-1.8zM176.29 498.63h1.8v1.15h-1.8zM176.29 521.62h1.8v1.15h-1.8zM176.29 544.61h1.8v1.15h-1.8z"/>
<path fill="#e0d858" d="M107.7 560.7h1.8v1.15h-1.8zM113.12 505.53h1.8v1.15h-1.8zM120.34 546.91h1.8v1.15h-1.8zM125.75 521.62h1.8v1.15h-1.8zM127.56 512.43h1.8v1.15h-1.8zM127.56 519.32h1.8v1.15h-1.8zM129.36 550.35h1.8v1.15h-1.8zM129.36 561.85h1.8v1.15h-1.8zM131.16 612.42h1.8v1.15h-1.8zM132.97 640h1.8v1.15h-1.8zM134.78 603.22h1.8v1.15h-1.8zM138.38 596.33h1.8v1.15h-1.8zM138.38 640h1.8v1.15h-1.8zM140.19 598.63h1.8v1.15h-1.8zM142 476.8h1.8v1.15h-1.8zM143.8 588.28h1.8v1.15h-1.8zM143.8 641.15h1.8v1.15h-1.8zM145.61 508.98h1.8v1.15h-1.8zM147.41 596.33h1.8v1.15h-1.8zM149.22 503.23h1.8v1.15h-1.8zM151.02 572.19h1.8v1.15h-1.8zM154.63 488.29h1.8v1.15h-1.8zM154.63 603.22h1.8v1.15h-1.8zM158.24 550.35h1.8v1.15h-1.8zM158.24 573.34h1.8v1.15h-1.8zM161.85 487.14h1.8v1.15h-1.8zM165.46 529.67h1.8v1.15h-1.8zM172.68 474.5h1.8v1.15h-1.8zM172.68 611.27h1.8v1.15h-1.8zM176.29 603.22h1.8v1.15h-1.8z"/>
<path fill="#a0a090" d="M107.7 571.04h1.8v1.15h-1.8zM107.7 574.49h1.8v1.15h-1.8zM107.7 605.52h1.8v1.15h-1.8zM107.7 635.4h1.8v1.15h-1.8zM109.51 476.8h1.8v1.15h-1.8zM109.51 481.39h1.8v1.15h-1.8zM109.51 606.67h1.8v1.15h-1.8zM113.12 489.44h1.8v1.15h-1.8zM113.12 584.83h1.8v1.15h-1.8zM113.12 612.42h1.8v1.15h-1.8zM114.92 487.14h1.8v1.15h-1.8zM114.92 492.89h1.8v1.15h-1.8zM114.92 526.22h1.8v1.15h-1.8zM114.92 538.86h1.8v1.15h-1.8zM114.92 577.94h1.8v1.15h-1.8zM114.92 594.03h1.8v1.15h-1.8zM116.73 548.05h1.8v1.15h-1.8zM116.73 554.95h1.8v1.15h-1.8zM116.73 611.27h1.8v1.15h-1.8zM120.34 548.05h1.8v1.15h-1.8zM122.14 473.35h1.8v1.15h-1.8zM122.14 635.4h1.8v1.15h-1.8zM123.95 602.07h1.8v1.15h-1.8zM125.75 546.91h1.8v1.15h-1.8zM125.75 615.87h1.8v1.15h-1.8zM127.56 526.22h1.8v1.15h-1.8zM127.56 592.88h1.8v1.15h-1.8zM127.56 602.07h1.8v1.15h-1.8zM127.56 604.37h1.8v1.15h-1.8zM127.56 640h1.8v1.15h-1.8zM129.36 556.1h1.8v1.15h-1.8zM129.36 571.04h1.8v1.15h-1.8zM129.36 622.76h1.8v1.15h-1.8zM129.36 641.15h1.8v1.15h-1.8zM132.97 523.92h1.8v1.15h-1.8zM132.97 545.76h1.8v1.15h-1.8zM132.97 548.05h1.8v1.15h-1.8zM134.78 574.49h1.8v1.15h-1.8zM134.78 623.91h1.8v1.15h-1.8zM136.58 490.59h1.8v1.15h-1.8zM136.58 494.04h1.8v1.15h-1.8zM136.58 604.37h1.8v1.15h-1.8zM136.58 623.91h1.8v1.15h-1.8zM136.58 641.15h1.8v1.15h-1.8zM138.38 499.78h1.8v1.15h-1.8zM138.38 541.16h1.8v1.15h-1.8zM138.38 544.61h1.8v1.15h-1.8zM138.38 571.04h1.8v1.15h-1.8zM140.19 496.33h1.8v1.15h-1.8zM140.19 499.78h1.8v1.15h-1.8zM140.19 581.39h1.8v1.15h-1.8zM142 490.59h1.8v1.15h-1.8zM142 505.53h1.8v1.15h-1.8zM142 581.39h1.8v1.15h-1.8zM143.8 494.04h1.8v1.15h-1.8zM143.8 522.77h1.8v1.15h-1.8zM145.61 510.13h1.8v1.15h-1.8zM145.61 537.71h1.8v1.15h-1.8zM145.61 564.15h1.8v1.15h-1.8zM145.61 628.51h1.8v1.15h-1.8zM147.41 507.83h1.8v1.15h-1.8zM147.41 541.16h1.8v1.15h-1.8zM147.41 551.5h1.8v1.15h-1.8zM147.41 594.03h1.8v1.15h-1.8zM147.41 595.18h1.8v1.15h-1.8zM147.41 597.48h1.8v1.15h-1.8zM149.22 569.89h1.8v1.15h-1.8zM149.22 596.33h1.8v1.15h-1.8zM151.02 471.05h1.8v1.15h-1.8zM151.02 560.7h1.8v1.15h-1.8zM152.82 476.8h1.8v1.15h-1.8zM152.82 572.19h1.8v1.15h-1.8zM152.82 606.67h1.8v1.15h-1.8zM154.63 520.47h1.8v1.15h-1.8zM154.63 549.2h1.8v1.15h-1.8zM154.63 594.03h1.8v1.15h-1.8zM156.44 530.81h1.8v1.15h-1.8zM156.44 589.43h1.8v1.15h-1.8zM156.44 640h1.8v1.15h-1.8zM158.24 481.39h1.8v1.15h-1.8zM158.24 523.92h1.8v1.15h-1.8zM158.24 574.49h1.8v1.15h-1.8zM158.24 604.37h1.8v1.15h-1.8zM158.24 610.12h1.8v1.15h-1.8zM158.24 635.4h1.8v1.15h-1.8zM160.05 551.5h1.8v1.15h-1.8zM161.85 546.91h1.8v1.15h-1.8zM163.66 482.54h1.8v1.15h-1.8zM163.66 519.32h1.8v1.15h-1.8zM163.66 521.62h1.8v1.15h-1.8zM163.66 543.46h1.8v1.15h-1.8zM165.46 512.43h1.8v1.15h-1.8zM165.46 549.2h1.8v1.15h-1.8zM165.46 576.79h1.8v1.15h-1.8zM165.46 618.16h1.8v1.15h-1.8zM167.26 583.68h1.8v1.15h-1.8zM167.26 587.13h1.8v1.15h-1.8zM169.07 471.05h1.8v1.15h-1.8zM169.07 568.74h1.8v1.15h-1.8zM169.07 580.24h1.8v1.15h-1.8zM169.07 596.33h1.8v1.15h-1.8zM170.88 495.19h1.8v1.15h-1.8zM172.68 485.99h1.8v1.15h-1.8zM172.68 583.68h1.8v1.15h-1.8zM172.68 634.25h1.8v1.15h-1.8zM174.49 569.89h1.8v1.15h-1.8zM176.29 469.9h1.8v1.15h-1.8zM176.29 479.09h1.8v1.15h-1.8z"/>
<path fill="#989890" d="M107.7 602.07h1.8v1.15h-1.8zM109.51 523.92h1.8v1.15h-1.8zM111.31 630.81h1.8v1.15h-1.8zM113.12 552.65h1.8v1.15h-1.8zM113.12 628.51h1.8v1.15h-1.8zM114.92 473.35h1.8v1.15h-1.8zM114.92 523.92h1.8v1.15h-1.8zM114.92 623.91h1.8v1.15h-1.8zM116.73 476.8h1.8v1.15h-1.8zM118.53 567.59h1.8v1.15h-1.8zM120.34 572.19h1.8v1.15h-1.8zM120.34 595.18h1.8v1.15h-1.8zM122.14 595.18h1.8v1.15h-1.8zM123.95 506.68h1.8v1.15h-1.8zM125.75 498.63h1.8v1.15h-1.8zM129.36 546.91h1.8v1.15h-1.8zM132.97 494.04h1.8v1.15h-1.8zM132.97 590.58h1.8v1.15h-1.8zM132.97 631.96h1.8v1.15h-1.8zM134.78 585.98h1.8v1.15h-1.8zM134.78 627.36h1.8v1.15h-1.8zM138.38 520.47h1.8v1.15h-1.8zM138.38 540.01h1.8v1.15h-1.8zM140.19 497.48h1.8v1.15h-1.8zM142 611.27h1.8v1.15h-1.8zM145.61 576.79h1.8v1.15h-1.8zM149.22 490.59h1.8v1.15h-1.8zM149.22 567.59h1.8v1.15h-1.8zM149.22 610.12h1.8v1.15h-1.8zM151.02 513.57h1.8v1.15h-1.8zM154.63 528.52h1.8v1.15h-1.8zM154.63 572.19h1.8v1.15h-1.8zM154.63 640h1.8v1.15h-1.8zM156.44 489.44h1.8v1.15h-1.8zM158.24 557.25h1.8v1.15h-1.8zM158.24 589.43h1.8v1.15h-1.8zM161.85 505.53h1.8v1.15h-1.8zM161.85 518.17h1.8v1.15h-1.8zM167.26 479.09h1.8v1.15h-1.8zM167.26 518.17h1.8v1.15h-1.8zM167.26 535.41h1.8v1.15h-1.8zM169.07 507.83h1.8v1.15h-1.8zM169.07 610.12h1.8v1.15h-1.8zM169.07 618.16h1.8v1.15h-1.8zM170.88 479.09h1.8v1.15h-1.8zM170.88 607.82h1.8v1.15h-1.8zM172.68 526.22h1.8v1.15h-1.8zM174.49 482.54h1.8v1.15h-1.8zM176.29 522.77h1.8v1.15h-1.8zM176.29 613.57h1.8v1.15h-1.8z"/>
<path fill="#a8a088" d="M107.7 629.66h1.8v1.15h-1.8zM109.51 542.31h1.8v1.15h-1.8zM111.31 505.53h1.8v1.15h-1.8zM113.12 484.84h1.8v1.15h-1.8zM114.92 481.39h1.8v1.15h-1.8zM116.73 480.24h1.8v1.15h-1.8zM116.73 612.42h1.8v1.15h-1.8zM116.73 615.87h1.8v1.15h-1.8zM116.73 633.11h1.8v1.15h-1.8zM120.34 473.35h1.8v1.15h-1.8zM122.14 553.8h1.8v1.15h-1.8zM123.95 527.37h1.8v1.15h-1.8zM123.95 564.15h1.8v1.15h-1.8zM125.75 505.53h1.8v1.15h-1.8zM125.75 640h1.8v1.15h-1.8zM129.36 511.28h1.8v1.15h-1.8zM132.97 520.47h1.8v1.15h-1.8zM136.58 630.81h1.8v1.15h-1.8zM138.38 545.76h1.8v1.15h-1.8zM138.38 634.25h1.8v1.15h-1.8zM140.19 515.87h1.8v1.15h-1.8zM143.8 596.33h1.8v1.15h-1.8zM145.61 496.33h1.8v1.15h-1.8zM149.22 619.31h1.8v1.15h-1.8zM151.02 483.69h1.8v1.15h-1.8zM151.02 495.19h1.8v1.15h-1.8zM154.63 492.89h1.8v1.15h-1.8zM158.24 515.87h1.8v1.15h-1.8zM158.24 575.64h1.8v1.15h-1.8zM161.85 513.57h1.8v1.15h-1.8zM163.66 536.56h1.8v1.15h-1.8zM165.46 606.67h1.8v1.15h-1.8zM167.26 519.32h1.8v1.15h-1.8zM170.88 525.07h1.8v1.15h-1.8zM170.88 557.25h1.8v1.15h-1.8zM170.88 591.73h1.8v1.15h-1.8zM172.68 633.11h1.8v1.15h-1.8zM174.49 600.92h1.8v1.15h-1.8z"/>
<path fill="#c0b878" d="M109.51 469.9h1.8v1.15h-1.8zM109.51 518.17h1.8v1.15h-1.8zM116.73 534.26h1.8v1.15h-1.8zM116.73 573.34h1.8v1.15h-1.8zM127.56 572.19h1.8v1.15h-1.8zM131.16 541.16h1.8v1.15h-1.8zM134.78 502.08h1.8v1.15h-1.8zM136.58 599.77h1.8v1.15h-1.8zM140.19 560.7h1.8v1.15h-1.8zM140.19 617.01h1.8v1.15h-1.8zM140.19 637.7h1.8v1.15h-1.8zM142 531.96h1.8v1.15h-1.8zM143.8 507.83h1.8v1.15h-1.8zM143.8 621.61h1.8v1.15h-1.8zM145.61 481.39h1.8v1.15h-1.8zM154.63 534.26h1.8v1.15h-1.8zM156.44 537.71h1.8v1.15h-1.8zM158.24 510.13h1.8v1.15h-1.8zM158.24 522.77h1.8v1.15h-1.8zM163.66 582.53h1.8v1.15h-1.8zM163.66 627.36h1.8v1.15h-1.8zM165.46 475.65h1.8v1.15h-1.8zM167.26 559.55h1.8v1.15h-1.8zM169.07 469.9h1.8v1.15h-1.8zM172.68 580.24h1.8v1.15h-1.8zM172.68 635.4h1.8v1.15h-1.8zM174.49 629.66h1.8v1.15h-1.8z"/>
<path fill="#d0c868" d="M109.51 529.67h1.8v1.15h-1.8zM111.31 487.14h1.8v1.15h-1.8zM113.12 556.1h1.8v1.15h-1.8zM113.12 573.34h1.8v1.15h-1.8zM114.92 477.95h1.8v1.15h-1.8zM114.92 482.54h1.8v1.15h-1.8zM114.92 637.7h1.8v1.15h-1.8zM116.73 512.43h1.8v1.15h-1.8zM123.95 507.83h1.8v1.15h-1.8zM125.75 476.8h1.8v1.15h-1.8zM127.56 628.51h1.8v1.15h-1.8zM129.36 479.09h1.8v1.15h-1.8zM129.36 629.66h1.8v1.15h-1.8zM131.16 607.82h1.8v1.15h-1.8zM134.78 519.32h1.8v1.15h-1.8zM134.78 541.16h1.8v1.15h-1.8zM134.78 582.53h1.8v1.15h-1.8zM134.78 617.01h1.8v1.15h-1.8zM140.19 494.04h1.8v1.15h-1.8zM142 496.33h1.8v1.15h-1.8zM142 507.83h1.8v1.15h-1.8zM143.8 574.49h1.8v1.15h-1.8zM145.61 554.95h1.8v1.15h-1.8zM151.02 626.21h1.8v1.15h-1.8zM152.82 549.2h1.8v1.15h-1.8zM154.63 482.54h1.8v1.15h-1.8zM154.63 496.33h1.8v1.15h-1.8zM154.63 625.06h1.8v1.15h-1.8zM161.85 514.72h1.8v1.15h-1.8zM161.85 585.98h1.8v1.15h-1.8zM163.66 605.52h1.8v1.15h-1.8zM163.66 614.72h1.8v1.15h-1.8zM165.46 476.8h1.8v1.15h-1.8zM165.46 637.7h1.8v1.15h-1.8zM169.07 494.04h1.8v1.15h-1.8zM170.88 577.94h1.8v1.15h-1.8zM172.68 502.08h1.8v1.15h-1.8zM172.68 597.48h1.8v1.15h-1.8zM174.49 507.83h1.8v1.15h-1.8zM174.49 589.43h1.8v1.15h-1.8zM174.49 622.76h1.8v1.15h-1.8zM176.29 614.72h1.8v1.15h-1.8z"/>
<path fill="#e8e050" d="M109.51 610.12h1.8v1.15h-1.8zM109.51 631.96h1.8v1.15h-1.8zM111.31 634.25h1.8v1.15h-1.8zM113.12 511.28h1.8v1.15h-1.8zM113.12 537.71h1.8v1.15h-1.8zM114.92 603.22h1.8v1.15h-1.8zM116.73 584.83h1.8v1.15h-1.8zM118.53 560.7h1.8v1.15h-1.8zM120.34 477.95h1.8v1.15h-1.8zM120.34 495.19h1.8v1.15h-1.8zM120.34 517.02h1.8v1.15h-1.8zM120.34 537.71h1.8v1.15h-1.8zM122.14 513.57h1.8v1.15h-1.8zM122.14 600.92h1.8v1.15h-1.8zM123.95 560.7h1.8v1.15h-1.8zM125.75 479.09h1.8v1.15h-1.8zM125.75 482.54h1.8v1.15h-1.8zM125.75 485.99h1.8v1.15h-1.8zM125.75 571.04h1.8v1.15h-1.8zM127.56 482.54h1.8v1.15h-1.8zM129.36 598.63h1.8v1.15h-1.8zM129.36 630.81h1.8v1.15h-1.8zM131.16 471.05h1.8v1.15h-1.8zM131.16 536.56h1.8v1.15h-1.8zM131.16 552.65h1.8v1.15h-1.8zM140.19 618.16h1.8v1.15h-1.8zM142 498.63h1.8v1.15h-1.8zM142 618.16h1.8v1.15h-1.8zM145.61 631.96h1.8v1.15h-1.8zM145.61 636.55h1.8v1.15h-1.8zM147.41 568.74h1.8v1.15h-1.8zM147.41 630.81h1.8v1.15h-1.8zM147.41 641.15h1.8v1.15h-1.8zM149.22 494.04h1.8v1.15h-1.8zM151.02 480.24h1.8v1.15h-1.8zM151.02 599.77h1.8v1.15h-1.8zM152.82 528.52h1.8v1.15h-1.8zM154.63 498.63h1.8v1.15h-1.8zM154.63 559.55h1.8v1.15h-1.8zM154.63 563h1.8v1.15h-1.8zM156.44 507.83h1.8v1.15h-1.8zM160.05 536.56h1.8v1.15h-1.8zM161.85 588.28h1.8v1.15h-1.8zM163.66 576.79h1.8v1.15h-1.8zM163.66 619.31h1.8v1.15h-1.8zM165.46 474.5h1.8v1.15h-1.8zM167.26 613.57h1.8v1.15h-1.8zM169.07 515.87h1.8v1.15h-1.8zM169.07 521.62h1.8v1.15h-1.8zM169.07 530.81h1.8v1.15h-1.8zM169.07 597.48h1.8v1.15h-1.8zM169.07 629.66h1.8v1.15h-1.8zM172.68 480.24h1.8v1.15h-1.8zM172.68 573.34h1.8v1.15h-1.8zM172.68 619.31h1.8v1.15h-1.8zM176.29 496.33h1.8v1.15h-1.8z"/>
<path fill="#585890" d="M111.31 484.84h1.8v1.15h-1.8zM116.73 477.95h1.8v1.15h-1.8zM120.34 515.87h1.8v1.15h-1.8zM152.82 511.28h1.8v1.15h-1.8zM161.85 471.05h1.8v1.15h-1.8zM176.29 566.44h1.8v1.15h-1.8z"/>
<path fill="#d8d060" d="M111.31 503.23h1.8v1.15h-1.8zM113.12 483.69h1.8v1.15h-1.8zM116.73 591.73h1.8v1.15h-1.8zM116.73 598.63h1.8v1.15h-1.8zM118.53 619.31h1.8v1.15h-1.8zM120.34 536.56h1.8v1.15h-1.8zM122.14 563h1.8v1.15h-1.8zM122.14 583.68h1.8v1.15h-1.8zM122.14 612.42h1.8v1.15h-1.8zM123.95 559.55h1.8v1.15h-1.8zM125.75 515.87h1.8v1.15h-1.8zM125.75 553.8h1.8v1.15h-1.8zM127.56 477.95h1.8v1.15h-1.8zM138.38 533.11h1.8v1.15h-1.8zM138.38 583.68h1.8v1.15h-1.8zM140.19 604.37h1.8v1.15h-1.8zM140.19 638.85h1.8v1.15h-1.8zM142 577.94h1.8v1.15h-1.8zM142 638.85h1.8v1.15h-1.8zM143.8 610.12h1.8v1.15h-1.8zM149.22 581.39h1.8v1.15h-1.8zM149.22 603.22h1.8v1.15h-1.8zM149.22 629.66h1.8v1.15h-1.8zM149.22 630.81h1.8v1.15h-1.8zM151.02 540.01h1.8v1.15h-1.8zM152.82 485.99h1.8v1.15h-1.8zM156.44 500.93h1.8v1.15h-1.8zM161.85 573.34h1.8v1.15h-1.8zM165.46 520.47h1.8v1.15h-1.8zM165.46 530.81h1.8v1.15h-1.8zM169.07 554.95h1.8v1.15h-1.8zM169.07 592.88h1.8v1.15h-1.8zM170.88 503.23h1.8v1.15h-1.8zM170.88 558.4h1.8v1.15h-1.8zM170.88 622.76h1.8v1.15h-1.8zM170.88 635.4h1.8v1.15h-1.8zM172.68 579.09h1.8v1.15h-1.8zM174.49 554.95h1.8v1.15h-1.8zM174.49 587.13h1.8v1.15h-1.8zM176.29 527.37h1.8v1.15h-1.8zM176.29 596.33h1.8v1.15h-1.8zM176.29 602.07h1.8v1.15h-1.8z"/>
<path fill="#a09890" d="M111.31 591.73h1.8v1.15h-1.8zM120.34 471.05h1.8v1.15h-1.8zM123.95 596.33h1.8v1.15h-1.8zM131.16 610.12h1.8v1.15h-1.8zM134.78 472.2h1.8v1.15h-1.8zM134.78 490.59h1.8v1.15h-1.8zM136.58 476.8h1.8v1.15h-1.8zM149.22 471.05h1.8v1.15h-1.8zM151.02 519.32h1.8v1.15h-1.8zM156.44 519.32h1.8v1.15h-1.8zM161.85 536.56h1.8v1.15h-1.8zM161.85 638.85h1.8v1.15h-1.8zM169.07 474.5h1.8v1.15h-1.8zM176.29 633.11h1.8v1.15h-1.8z"/>
<path fill="#f8f048" d="M113.12 487.14h1.8v1.15h-1.8zM114.92 545.76h1.8v1.15h-1.8zM116.73 627.36h1.8v1.15h-1.8zM118.53 491.74h1.8v1.15h-1.8zM123.95 531.96h1.8v1.15h-1.8zM123.95 567.59h1.8v1.15h-1.8zM123.95 604.37h1.8v1.15h-1.8zM127.56 492.89h1.8v1.15h-1.8zM129.36 619.31h1.8v1.15h-1.8zM134.78 553.8h1.8v1.15h-1.8zM136.58 595.18h1.8v1.15h-1.8zM140.19 564.15h1.8v1.15h-1.8zM149.22 504.38h1.8v1.15h-1.8zM160.05 564.15h1.8v1.15h-1.8zM160.05 604.37h1.8v1.15h-1.8zM163.66 499.78h1.8v1.15h-1.8zM163.66 568.74h1.8v1.15h-1.8zM169.07 567.59h1.8v1.15h-1.8zM169.07 636.55h1.8v1.15h-1.8zM172.68 536.56h1.8v1.15h-1.8zM174.49 638.85h1.8v1.15h-1.8z"/>
<path fill="#e0d850" d="M113.12 564.15h1.8v1.15h-1.8z"/>
<path fill="#d8d058" d="M113.12 596.33h1.8v1.15h-1.8zM125.75 519.32h1.8v1.15h-1.8z"/>
<path fill="#f0e050" d="M113.12 633.11h1.8v1.15h-1.8zM114.92 610.12h1.8v1.15h-1.8zM114.92 629.66h1.8v1.15h-1.8zM116.73 498.63h1.8v1.15h-1.8zM116.73 538.86h1.8v1.15h-1.8zM120.34 630.81h1.8v1.15h-1.8zM122.14 477.95h1.8v1.15h-1.8zM122.14 496.33h1.8v1.15h-1.8zM129.36 552.65h1.8v1.15h-1.8zM129.36 603.22h1.8v1.15h-1.8zM131.16 504.38h1.8v1.15h-1.8zM134.78 590.58h1.8v1.15h-1.8zM147.41 531.96h1.8v1.15h-1.8zM147.41 634.25h1.8v1.15h-1.8zM147.41 638.85h1.8v1.15h-1.8zM151.02 543.46h1.8v1.15h-1.8zM151.02 573.34h1.8v1.15h-1.8zM158.24 607.82h1.8v1.15h-1.8zM160.05 523.92h1.8v1.15h-1.8zM160.05 592.88h1.8v1.15h-1.8zM163.66 497.48h1.8v1.15h-1.8zM163.66 551.5h1.8v1.15h-1.8zM165.46 625.06h1.8v1.15h-1.8zM170.88 618.16h1.8v1.15h-1.8zM172.68 525.07h1.8v1.15h-1.8z"/>
<path fill="#d0c860" d="M114.92 496.33h1.8v1.15h-1.8zM118.53 618.16h1.8v1.15h-1.8zM125.75 491.74h1.8v1.15h-1.8zM129.36 536.56h1.8v1.15h-1.8zM136.58 629.66h1.8v1.15h-1.8z"/>
<path fill="#e0d058" d="M114.92 500.93h1.8v1.15h-1.8zM165.46 511.28h1.8v1.15h-1.8zM169.07 546.91h1.8v1.15h-1.8z"/>
<path fill="#b0a880" d="M114.92 502.08h1.8v1.15h-1.8zM118.53 494.04h1.8v1.15h-1.8zM118.53 596.33h1.8v1.15h-1.8zM125.75 473.35h1.8v1.15h-1.8zM140.19 556.1h1.8v1.15h-1.8zM140.19 571.04h1.8v1.15h-1.8zM142 602.07h1.8v1.15h-1.8zM149.22 607.82h1.8v1.15h-1.8zM149.22 622.76h1.8v1.15h-1.8zM152.82 600.92h1.8v1.15h-1.8zM156.44 576.79h1.8v1.15h-1.8zM160.05 635.4h1.8v1.15h-1.8zM174.49 495.19h1.8v1.15h-1.8z"/>
<path fill="#f8e848" d="M114.92 513.57h1.8v1.15h-1.8zM114.92 587.13h1.8v1.15h-1.8zM123.95 526.22h1.8v1.15h-1.8zM132.97 549.2h1.8v1.15h-1.8zM132.97 611.27h1.8v1.15h-1.8zM138.38 564.15h1.8v1.15h-1.8zM142 594.03h1.8v1.15h-1.8zM147.41 584.83h1.8v1.15h-1.8zM147.41 602.07h1.8v1.15h-1.8zM151.02 476.8h1.8v1.15h-1.8zM152.82 604.37h1.8v1.15h-1.8zM156.44 506.68h1.8v1.15h-1.8zM161.85 627.36h1.8v1.15h-1.8zM163.66 523.92h1.8v1.15h-1.8zM165.46 542.31h1.8v1.15h-1.8zM169.07 487.14h1.8v1.15h-1.8zM169.07 497.48h1.8v1.15h-1.8zM172.68 631.96h1.8v1.15h-1.8zM174.49 491.74h1.8v1.15h-1.8z"/>
<path fill="#f0e048" d="M114.92 544.61h1.8v1.15h-1.8zM122.14 596.33h1.8v1.15h-1.8zM131.16 529.67h1.8v1.15h-1.8zM149.22 613.57h1.8v1.15h-1.8zM154.63 589.43h1.8v1.15h-1.8zM161.85 611.27h1.8v1.15h-1.8zM165.46 519.32h1.8v1.15h-1.8zM169.07 607.82h1.8v1.15h-1.8zM174.49 484.84h1.8v1.15h-1.8z"/>
<path fill="#808098" d="M116.73 614.72h1.8v1.15h-1.8zM120.34 612.42h1.8v1.15h-1.8zM122.14 557.25h1.8v1.15h-1.8zM123.95 482.54h1.8v1.15h-1.8zM127.56 474.5h1.8v1.15h-1.8zM134.78 628.51h1.8v1.15h-1.8zM138.38 475.65h1.8v1.15h-1.8zM138.38 536.56h1.8v1.15h-1.8zM149.22 531.96h1.8v1.15h-1.8zM151.02 506.68h1.8v1.15h-1.8zM151.02 533.11h1.8v1.15h-1.8zM156.44 590.58h1.8v1.15h-1.8zM158.24 499.78h1.8v1.15h-1.8zM169.07 543.46h1.8v1.15h-1.8z"/>
<path fill="#484888" d="M118.53 531.96h1.8v1.15h-1.8zM125.75 484.84h1.8v1.15h-1.8zM127.56 638.85h1.8v1.15h-1.8zM131.16 531.96h1.8v1.15h-1.8zM138.38 613.57h1.8v1.15h-1.8zM145.61 618.16h1.8v1.15h-1.8zM149.22 511.28h1.8v1.15h-1.8zM154.63 485.99h1.8v1.15h-1.8zM154.63 527.37h1.8v1.15h-1.8zM167.26 487.14h1.8v1.15h-1.8z"/>
<path fill="#a0a088" d="M120.34 469.9h1.8v1.15h-1.8zM127.56 587.13h1.8v1.15h-1.8zM136.58 584.83h1.8v1.15h-1.8zM136.58 620.46h1.8v1.15h-1.8zM142 515.87h1.8v1.15h-1.8zM142 536.56h1.8v1.15h-1.8zM151.02 587.13h1.8v1.15h-1.8zM151.02 602.07h1.8v1.15h-1.8zM152.82 577.94h1.8v1.15h-1.8zM154.63 598.63h1.8v1.15h-1.8zM165.46 490.59h1.8v1.15h-1.8zM167.26 602.07h1.8v1.15h-1.8zM172.68 519.32h1.8v1.15h-1.8zM172.68 549.2h1.8v1.15h-1.8zM176.29 615.87h1.8v1.15h-1.8z"/>
<path fill="#c8c868" d="M120.34 510.13h1.8v1.15h-1.8zM170.88 560.7h1.8v1.15h-1.8z"/>
<path fill="#505090" d="M120.34 559.55h1.8v1.15h-1.8zM120.34 633.11h1.8v1.15h-1.8zM163.66 503.23h1.8v1.15h-1.8zM163.66 594.03h1.8v1.15h-1.8zM169.07 510.13h1.8v1.15h-1.8z"/>
<path fill="#b8b880" d="M125.75 537.71h1.8v1.15h-1.8zM129.36 618.16h1.8v1.15h-1.8zM134.78 525.07h1.8v1.15h-1.8zM138.38 611.27h1.8v1.15h-1.8zM154.63 590.58h1.8v1.15h-1.8z"/>
<path fill="#d0d060" d="M140.19 569.89h1.8v1.15h-1.8zM147.41 485.99h1.8v1.15h-1.8zM170.88 640h1.8v1.15h-1.8z"/>
<path fill="#585090" d="M145.61 519.32h1.8v1.15h-1.8z"/>
</g>
<text transform="translate(122.08,452.2) scale(1.035,1)" font-size="7.54" fill="#231f20">Flvcr-deleted</text>
<defs><linearGradient id="cb" x1="0" x2="1" y1="0" y2="0"><stop offset="0" stop-color="#282870"/><stop offset="0.17" stop-color="#404080"/><stop offset="0.33" stop-color="#7070a0"/><stop offset="0.5" stop-color="#989898"/><stop offset="0.67" stop-color="#c0b878"/><stop offset="0.83" stop-color="#e8e050"/><stop offset="1" stop-color="#f8f040"/></linearGradient></defs>
<rect x="22.1" y="646.1" width="46.3" height="5.6" fill="url(#cb)" stroke="#231f20" stroke-width="0.6"/>
<line x1="21.8" y1="651.9" x2="68.7" y2="651.9" stroke="#231f20" stroke-width="1"/>
<line x1="22.3" y1="651.9" x2="22.3" y2="654.4" stroke="#231f20" stroke-width="0.9"/>
<line x1="29.6" y1="651.9" x2="29.6" y2="654.4" stroke="#231f20" stroke-width="0.9"/>
<line x1="37.4" y1="651.9" x2="37.4" y2="654.4" stroke="#231f20" stroke-width="0.9"/>
<line x1="45.4" y1="651.9" x2="45.4" y2="654.4" stroke="#231f20" stroke-width="0.9"/>
<line x1="53" y1="651.9" x2="53" y2="654.4" stroke="#231f20" stroke-width="0.9"/>
<line x1="61.1" y1="651.9" x2="61.1" y2="654.4" stroke="#231f20" stroke-width="0.9"/>
<line x1="68.1" y1="651.9" x2="68.1" y2="654.4" stroke="#231f20" stroke-width="0.9"/>
<text x="22.1" y="662.4" font-size="6.4" text-anchor="middle" textLength="4.6" lengthAdjust="spacingAndGlyphs" fill="#231f20">-3</text>
<text x="29.8" y="662.4" font-size="6.4" text-anchor="middle" textLength="4.6" lengthAdjust="spacingAndGlyphs" fill="#231f20">-2</text>
<text x="37.6" y="662.4" font-size="6.4" text-anchor="middle" textLength="4.6" lengthAdjust="spacingAndGlyphs" fill="#231f20">-1</text>
<text x="53" y="662.4" font-size="6.4" text-anchor="middle" textLength="2.6" lengthAdjust="spacingAndGlyphs" fill="#231f20">1</text>
<text x="61.1" y="662.4" font-size="6.4" text-anchor="middle" textLength="2.6" lengthAdjust="spacingAndGlyphs" fill="#231f20">2</text>
<text x="68.1" y="662.4" font-size="6.4" text-anchor="middle" textLength="2.6" lengthAdjust="spacingAndGlyphs" fill="#231f20">3</text>
<text transform="translate(194.7,435.9) scale(0.774,1)" font-size="11.34" fill="#231f20">F</text>
<line x1="311" y1="432.7" x2="322.6" y2="432.7" stroke="#2f5a92" stroke-width="1.3"/>
<rect x="314.6" y="430.4" width="4.6" height="4.6" fill="#2f5a92"/>
<text transform="translate(326.21,434.8) scale(1.071,1)" font-size="6.83" fill="#231f20">Protein</text>
<line x1="365.6" y1="432.6" x2="377.6" y2="432.6" stroke="#b5253f" stroke-width="1.2"/>
<circle cx="371.6" cy="432.6" r="2.6" fill="none" stroke="#b5253f" stroke-width="1.1"/>
<text transform="translate(381.77,434.8) scale(1.172,1)" font-size="5.67" fill="#231f20">mRNA</text>
<line x1="233.15" y1="440" x2="233.15" y2="532.7" stroke="#231f20" stroke-width="1.2"/>
<line x1="322.4" y1="440" x2="322.4" y2="532.7" stroke="#231f20" stroke-width="1.2"/>
<line x1="231.95" y1="532.2" x2="323.4" y2="532.2" stroke="#231f20" stroke-width="1.2"/>
<line x1="230.15" y1="532.2" x2="233.15" y2="532.2" stroke="#231f20" stroke-width="0.9"/>
<line x1="319.4" y1="532.2" x2="322.4" y2="532.2" stroke="#231f20" stroke-width="0.9"/>
<line x1="231.15" y1="514.35" x2="233.15" y2="514.35" stroke="#231f20" stroke-width="0.9"/>
<line x1="320.4" y1="514.35" x2="322.4" y2="514.35" stroke="#231f20" stroke-width="0.9"/>
<line x1="230.15" y1="496.5" x2="233.15" y2="496.5" stroke="#231f20" stroke-width="0.9"/>
<line x1="319.4" y1="496.5" x2="322.4" y2="496.5" stroke="#231f20" stroke-width="0.9"/>
<line x1="231.15" y1="478.65" x2="233.15" y2="478.65" stroke="#231f20" stroke-width="0.9"/>
<line x1="320.4" y1="478.65" x2="322.4" y2="478.65" stroke="#231f20" stroke-width="0.9"/>
<line x1="230.15" y1="460.8" x2="233.15" y2="460.8" stroke="#231f20" stroke-width="0.9"/>
<line x1="319.4" y1="460.8" x2="322.4" y2="460.8" stroke="#231f20" stroke-width="0.9"/>
<line x1="231.15" y1="442.95" x2="233.15" y2="442.95" stroke="#231f20" stroke-width="0.9"/>
<line x1="320.4" y1="442.95" x2="322.4" y2="442.95" stroke="#231f20" stroke-width="0.9"/>
<text x="227.15" y="535.2" font-size="8.4" text-anchor="end" textLength="10.2" lengthAdjust="spacingAndGlyphs" fill="#231f20">0.0</text>
<text x="328" y="535.2" font-size="8.4" textLength="10.4" lengthAdjust="spacingAndGlyphs" fill="#231f20">0.0</text>
<text x="227.15" y="499.5" font-size="8.4" text-anchor="end" textLength="10.2" lengthAdjust="spacingAndGlyphs" fill="#231f20">0.5</text>
<text x="328" y="499.5" font-size="8.4" textLength="10.4" lengthAdjust="spacingAndGlyphs" fill="#231f20">0.5</text>
<text x="227.15" y="463.8" font-size="8.4" text-anchor="end" textLength="10.2" lengthAdjust="spacingAndGlyphs" fill="#231f20">1.0</text>
<text x="328" y="463.8" font-size="8.4" textLength="10.4" lengthAdjust="spacingAndGlyphs" fill="#231f20">1.0</text>
<line x1="233.15" y1="532.2" x2="233.15" y2="535.2" stroke="#231f20" stroke-width="0.9"/>
<line x1="247.05" y1="532.2" x2="247.05" y2="534.2" stroke="#231f20" stroke-width="0.9"/>
<line x1="260.95" y1="532.2" x2="260.95" y2="535.2" stroke="#231f20" stroke-width="0.9"/>
<line x1="274.85" y1="532.2" x2="274.85" y2="534.2" stroke="#231f20" stroke-width="0.9"/>
<line x1="288.75" y1="532.2" x2="288.75" y2="535.2" stroke="#231f20" stroke-width="0.9"/>
<line x1="302.65" y1="532.2" x2="302.65" y2="534.2" stroke="#231f20" stroke-width="0.9"/>
<line x1="316.55" y1="532.2" x2="316.55" y2="535.2" stroke="#231f20" stroke-width="0.9"/>
<text x="233.15" y="545.4" font-size="8.2" text-anchor="middle" fill="#231f20">0</text>
<text x="260.95" y="545.4" font-size="8.2" text-anchor="middle" fill="#231f20">10</text>
<text x="288.75" y="545.4" font-size="8.2" text-anchor="middle" fill="#231f20">20</text>
<text x="316.55" y="545.4" font-size="8.2" text-anchor="middle" fill="#231f20">30</text>
<text transform="translate(269.57,558.8) scale(0.971,1)" font-size="10.02" fill="#231f20">min</text>
<text transform="translate(210,500.33) rotate(-90) scale(0.911,1)" font-size="10.03" fill="#231f20">Protein</text>
<text transform="translate(345.1,473.14) rotate(90) scale(0.821,1)" font-size="10.47" fill="#231f20">mRNA</text>
<text x="277.7" y="449.6" font-size="7.4" text-anchor="middle" textLength="39.2" lengthAdjust="spacingAndGlyphs" fill="#231f20">CD36<tspan font-size="5" dy="-2.5">+</tspan><tspan dy="2.5">GLYA</tspan><tspan font-size="5" dy="-2.5">-</tspan></text>
<line x1="233.15" y1="460.8" x2="322.4" y2="460.8" stroke="#58595b" stroke-width="1.3" stroke-dasharray="3 2"/>
<polyline points="233.15,460.8 274.85,475.08 316.55,476.87" fill="none" stroke="#b5253f" stroke-width="1.2"/>
<polyline points="233.15,460.8 274.85,500.07 316.55,507.21" fill="none" stroke="#2f5a92" stroke-width="1.2"/>
<line x1="274.85" y1="471.15" x2="274.85" y2="477.94" stroke="#231f20" stroke-width="0.9"/>
<line x1="272.35" y1="471.15" x2="277.35" y2="471.15" stroke="#231f20" stroke-width="1.1"/>
<line x1="272.35" y1="477.94" x2="277.35" y2="477.94" stroke="#231f20" stroke-width="1.1"/>
<line x1="316.55" y1="472.22" x2="316.55" y2="481.15" stroke="#231f20" stroke-width="0.9"/>
<line x1="314.05" y1="472.22" x2="319.05" y2="472.22" stroke="#231f20" stroke-width="1.1"/>
<line x1="314.05" y1="481.15" x2="319.05" y2="481.15" stroke="#231f20" stroke-width="1.1"/>
<line x1="274.85" y1="491.5" x2="274.85" y2="508.64" stroke="#231f20" stroke-width="0.9"/>
<line x1="272.35" y1="491.5" x2="277.35" y2="491.5" stroke="#231f20" stroke-width="1.1"/>
<line x1="272.35" y1="508.64" x2="277.35" y2="508.64" stroke="#231f20" stroke-width="1.1"/>
<line x1="316.55" y1="500.07" x2="316.55" y2="514.35" stroke="#231f20" stroke-width="0.9"/>
<line x1="314.05" y1="500.07" x2="319.05" y2="500.07" stroke="#231f20" stroke-width="1.1"/>
<line x1="314.05" y1="514.35" x2="319.05" y2="514.35" stroke="#231f20" stroke-width="1.1"/>
<circle cx="274.85" cy="475.08" r="2.7" fill="none" stroke="#b5253f" stroke-width="1.1"/>
<circle cx="316.55" cy="476.87" r="2.7" fill="none" stroke="#b5253f" stroke-width="1.1"/>
<rect x="272.35" y="497.57" width="5" height="5" fill="#2f5a92"/>
<rect x="314.05" y="504.71" width="5" height="5" fill="#2f5a92"/>
<circle cx="233.15" cy="460.8" r="2.5" fill="#2f5a92"/>
<text x="274.85" y="517.4" font-size="6.4" text-anchor="middle" fill="#231f20">††</text>
<text x="316.55" y="522.6" font-size="6.4" text-anchor="middle" fill="#231f20">†††</text>
<text x="274.85" y="472" font-size="7.6" text-anchor="middle" fill="#231f20">*</text>
<text x="316.55" y="472.4" font-size="7.6" text-anchor="middle" fill="#231f20">*</text>
<line x1="391.7" y1="440" x2="391.7" y2="532.7" stroke="#231f20" stroke-width="1.2"/>
<line x1="481.2" y1="440" x2="481.2" y2="532.7" stroke="#231f20" stroke-width="1.2"/>
<line x1="390.5" y1="532.2" x2="482.2" y2="532.2" stroke="#231f20" stroke-width="1.2"/>
<line x1="388.7" y1="532.2" x2="391.7" y2="532.2" stroke="#231f20" stroke-width="0.9"/>
<line x1="478.2" y1="532.2" x2="481.2" y2="532.2" stroke="#231f20" stroke-width="0.9"/>
<line x1="389.7" y1="514.35" x2="391.7" y2="514.35" stroke="#231f20" stroke-width="0.9"/>
<line x1="479.2" y1="514.35" x2="481.2" y2="514.35" stroke="#231f20" stroke-width="0.9"/>
<line x1="388.7" y1="496.5" x2="391.7" y2="496.5" stroke="#231f20" stroke-width="0.9"/>
<line x1="478.2" y1="496.5" x2="481.2" y2="496.5" stroke="#231f20" stroke-width="0.9"/>
<line x1="389.7" y1="478.65" x2="391.7" y2="478.65" stroke="#231f20" stroke-width="0.9"/>
<line x1="479.2" y1="478.65" x2="481.2" y2="478.65" stroke="#231f20" stroke-width="0.9"/>
<line x1="388.7" y1="460.8" x2="391.7" y2="460.8" stroke="#231f20" stroke-width="0.9"/>
<line x1="478.2" y1="460.8" x2="481.2" y2="460.8" stroke="#231f20" stroke-width="0.9"/>
<line x1="389.7" y1="442.95" x2="391.7" y2="442.95" stroke="#231f20" stroke-width="0.9"/>
<line x1="479.2" y1="442.95" x2="481.2" y2="442.95" stroke="#231f20" stroke-width="0.9"/>
<text x="385.7" y="535.2" font-size="8.4" text-anchor="end" textLength="10.2" lengthAdjust="spacingAndGlyphs" fill="#231f20">0.0</text>
<text x="486.8" y="535.2" font-size="8.4" textLength="10.4" lengthAdjust="spacingAndGlyphs" fill="#231f20">0.0</text>
<text x="385.7" y="499.5" font-size="8.4" text-anchor="end" textLength="10.2" lengthAdjust="spacingAndGlyphs" fill="#231f20">0.5</text>
<text x="486.8" y="499.5" font-size="8.4" textLength="10.4" lengthAdjust="spacingAndGlyphs" fill="#231f20">0.5</text>
<text x="385.7" y="463.8" font-size="8.4" text-anchor="end" textLength="10.2" lengthAdjust="spacingAndGlyphs" fill="#231f20">1.0</text>
<text x="486.8" y="463.8" font-size="8.4" textLength="10.4" lengthAdjust="spacingAndGlyphs" fill="#231f20">1.0</text>
<line x1="391.7" y1="532.2" x2="391.7" y2="535.2" stroke="#231f20" stroke-width="0.9"/>
<line x1="405.6" y1="532.2" x2="405.6" y2="534.2" stroke="#231f20" stroke-width="0.9"/>
<line x1="419.5" y1="532.2" x2="419.5" y2="535.2" stroke="#231f20" stroke-width="0.9"/>
<line x1="433.4" y1="532.2" x2="433.4" y2="534.2" stroke="#231f20" stroke-width="0.9"/>
<line x1="447.3" y1="532.2" x2="447.3" y2="535.2" stroke="#231f20" stroke-width="0.9"/>
<line x1="461.2" y1="532.2" x2="461.2" y2="534.2" stroke="#231f20" stroke-width="0.9"/>
<line x1="475.1" y1="532.2" x2="475.1" y2="535.2" stroke="#231f20" stroke-width="0.9"/>
<text x="391.7" y="545.4" font-size="8.2" text-anchor="middle" fill="#231f20">0</text>
<text x="419.5" y="545.4" font-size="8.2" text-anchor="middle" fill="#231f20">10</text>
<text x="447.3" y="545.4" font-size="8.2" text-anchor="middle" fill="#231f20">20</text>
<text x="475.1" y="545.4" font-size="8.2" text-anchor="middle" fill="#231f20">30</text>
<text transform="translate(428.46,559) scale(0.985,1)" font-size="10.02" fill="#231f20">min</text>
<text transform="translate(368.8,500.33) rotate(-90) scale(0.925,1)" font-size="9.88" fill="#231f20">Protein</text>
<text transform="translate(504,473.14) rotate(90) scale(0.857,1)" font-size="10.03" fill="#231f20">mRNA</text>
<text x="436.4" y="449.6" font-size="7.4" text-anchor="middle" textLength="39.2" lengthAdjust="spacingAndGlyphs" fill="#231f20">CD36<tspan font-size="5" dy="-2.5">+</tspan><tspan dy="2.5">GLYA</tspan><tspan font-size="5" dy="-2.5">+</tspan></text>
<line x1="391.7" y1="460.8" x2="481.2" y2="460.8" stroke="#58595b" stroke-width="1.3" stroke-dasharray="3 2"/>
<polyline points="391.7,460.8 433.4,495.07 475.1,509.71" fill="none" stroke="#b5253f" stroke-width="1.2"/>
<polyline points="391.7,460.8 433.4,486.22 475.1,514.35" fill="none" stroke="#2f5a92" stroke-width="1.2"/>
<line x1="433.4" y1="495.07" x2="433.4" y2="507.21" stroke="#231f20" stroke-width="0.9"/>
<line x1="430.9" y1="495.07" x2="435.9" y2="495.07" stroke="#231f20" stroke-width="1.1"/>
<line x1="430.9" y1="507.21" x2="435.9" y2="507.21" stroke="#231f20" stroke-width="1.1"/>
<line x1="475.1" y1="504.71" x2="475.1" y2="513.28" stroke="#231f20" stroke-width="0.9"/>
<line x1="472.6" y1="504.71" x2="477.6" y2="504.71" stroke="#231f20" stroke-width="1.1"/>
<line x1="472.6" y1="513.28" x2="477.6" y2="513.28" stroke="#231f20" stroke-width="1.1"/>
<line x1="433.4" y1="481.93" x2="433.4" y2="489.79" stroke="#231f20" stroke-width="0.9"/>
<line x1="430.9" y1="481.93" x2="435.9" y2="481.93" stroke="#231f20" stroke-width="1.1"/>
<line x1="430.9" y1="489.79" x2="435.9" y2="489.79" stroke="#231f20" stroke-width="1.1"/>
<line x1="475.1" y1="510.78" x2="475.1" y2="517.92" stroke="#231f20" stroke-width="0.9"/>
<line x1="472.6" y1="510.78" x2="477.6" y2="510.78" stroke="#231f20" stroke-width="1.1"/>
<line x1="472.6" y1="517.92" x2="477.6" y2="517.92" stroke="#231f20" stroke-width="1.1"/>
<circle cx="433.4" cy="495.07" r="2.7" fill="none" stroke="#b5253f" stroke-width="1.1"/>
<circle cx="475.1" cy="509.71" r="2.7" fill="none" stroke="#b5253f" stroke-width="1.1"/>
<rect x="430.9" y="483.72" width="5" height="5" fill="#2f5a92"/>
<rect x="472.6" y="511.85" width="5" height="5" fill="#2f5a92"/>
<circle cx="391.7" cy="460.8" r="2.5" fill="#2f5a92"/>
<text x="433.4" y="478" font-size="6.4" text-anchor="middle" fill="#231f20">††</text>
<text x="475.1" y="527" font-size="6.4" text-anchor="middle" fill="#231f20">†††</text>
<text x="433.4" y="516.2" font-size="7.6" text-anchor="middle" fill="#231f20">*</text>
<text x="475.1" y="504.6" font-size="7.2" text-anchor="middle" fill="#231f20">**</text>
<defs><filter id="bl" x="-30%" y="-100%" width="160%" height="300%"><feGaussianBlur stdDeviation="0.9"/></filter></defs>
<rect x="229.2" y="567.4" width="96.6" height="23.6" fill="#f2f2f2" stroke="#333" stroke-width="1.0"/>
<g filter="url(#bl)"><path d="M237 576.2H254.5A3 3 0 0 1 254.5 582.2H237A3 3 0 0 1 237 576.2z" fill="#0d0d0d" fill-opacity="0.92"/><path d="M245.5 575.5H250.5A2.5 2.5 0 0 1 250.5 580.5H245.5A2.5 2.5 0 0 1 245.5 575.5z" fill="#0d0d0d" fill-opacity="0.8"/><path d="M271 577.8H276A3 3 0 0 1 276 583.8H271A3 3 0 0 1 271 577.8z" fill="#0d0d0d" fill-opacity="0.92"/><path d="M278.25 577.75H290.75A2.25 2.25 0 0 1 290.75 582.25H278.25A2.25 2.25 0 0 1 278.25 577.75z" fill="#0d0d0d" fill-opacity="0.55"/><path d="M303 576.9H304.5A2.5 2.5 0 0 1 304.5 581.9H303A2.5 2.5 0 0 1 303 576.9z" fill="#0d0d0d" fill-opacity="0.9"/><path d="M307.25 577.75H319.25A2.25 2.25 0 0 1 319.25 582.25H307.25A2.25 2.25 0 0 1 307.25 577.75z" fill="#0d0d0d" fill-opacity="0.6"/></g>
<rect x="229.2" y="619.2" width="96.6" height="23" fill="#f2f2f2" stroke="#333" stroke-width="1.0"/>
<g filter="url(#bl)"><path d="M236.5 628H257.5A3 3 0 0 1 257.5 634H236.5A3 3 0 0 1 236.5 628z" fill="#0d0d0d" fill-opacity="0.95"/><path d="M268.25 628.55H285.25A2.75 2.75 0 0 1 285.25 634.05H268.25A2.75 2.75 0 0 1 268.25 628.55z" fill="#0d0d0d" fill-opacity="0.92"/><path d="M299.25 629.75H317.75A2.25 2.25 0 0 1 317.75 634.25H299.25A2.25 2.25 0 0 1 299.25 629.75z" fill="#0d0d0d" fill-opacity="0.85"/></g>
<rect x="376.6" y="567.6" width="104.6" height="23" fill="#f2f2f2" stroke="#333" stroke-width="1.0"/>
<g filter="url(#bl)"><path d="M386.5 576.7H407A4.5 4.5 0 0 1 407 585.7H386.5A4.5 4.5 0 0 1 386.5 576.7z" fill="#0d0d0d" fill-opacity="1.0"/><path d="M424 577.1H439A4.5 4.5 0 0 1 439 586.1H424A4.5 4.5 0 0 1 424 577.1z" fill="#0d0d0d" fill-opacity="1.0"/><path d="M457.25 576.45H471.75A3.75 3.75 0 0 1 471.75 583.95H457.25A3.75 3.75 0 0 1 457.25 576.45z" fill="#0d0d0d" fill-opacity="0.95"/></g>
<rect x="376.6" y="619" width="104.6" height="22.6" fill="#f2f2f2" stroke="#333" stroke-width="1.0"/>
<g filter="url(#bl)"><path d="M382.1 628.3H407.9A2.1 2.1 0 0 1 407.9 632.5H382.1A2.1 2.1 0 0 1 382.1 628.3z" fill="#0d0d0d" fill-opacity="0.92"/><path d="M420.2 628.6H441.8A2.2 2.2 0 0 1 441.8 633H420.2A2.2 2.2 0 0 1 420.2 628.6z" fill="#0d0d0d" fill-opacity="0.92"/><path d="M458.25 627.75H474.75A2.25 2.25 0 0 1 474.75 632.25H458.25A2.25 2.25 0 0 1 458.25 627.75z" fill="#0d0d0d" fill-opacity="0.9"/><path d="M456 630.5H457A2 2 0 0 1 457 634.5H456A2 2 0 0 1 456 630.5z" fill="#0d0d0d" fill-opacity="0.7"/></g>
<text transform="translate(329.66,582.8) scale(0.846,1)" font-size="8.14" fill="#231f20">GATA1</text>
<text transform="translate(485.16,581.8) scale(0.944,1)" font-size="7.12" fill="#231f20">GATA1</text>
<text transform="translate(329.75,633.7) scale(1.015,1)" font-size="7.68" fill="#231f20">β-actin</text>
<text transform="translate(484.95,632.6) scale(1.034,1)" font-size="7.54" fill="#231f20">β-actin</text>
<text x="227.4" y="601.2" font-size="7.8" text-anchor="middle" fill="#231f20">RI</text>
<text x="245.2" y="601.2" font-size="7.8" text-anchor="middle" fill="#231f20">1</text>
<text x="282.5" y="601.2" font-size="7.8" text-anchor="middle" fill="#231f20">0.3</text>
<text x="310.8" y="601.2" font-size="7.8" text-anchor="middle" fill="#231f20">0.19</text>
<text x="282.5" y="610.4" font-size="7.8" text-anchor="middle" fill="#231f20">(0.6)</text>
<text x="310.8" y="610.4" font-size="7.8" text-anchor="middle" fill="#231f20">(0.48)</text>
<text x="227.4" y="652" font-size="7.8" text-anchor="middle" fill="#231f20">RI</text>
<text x="245.2" y="652" font-size="7.8" text-anchor="middle" fill="#231f20">1</text>
<text x="282.5" y="652" font-size="7.8" text-anchor="middle" fill="#231f20">0.5</text>
<text x="310.8" y="652" font-size="7.8" text-anchor="middle" fill="#231f20">0.39</text>
<text x="245.2" y="661.8" font-size="7.8" text-anchor="middle" fill="#231f20">0</text>
<text x="282.5" y="661.8" font-size="7.8" text-anchor="middle" fill="#231f20">15</text>
<text x="310.8" y="661.8" font-size="7.8" text-anchor="middle" fill="#231f20">30</text>
<text x="397" y="600.6" font-size="7.8" text-anchor="middle" fill="#231f20">1</text>
<text x="433.2" y="600.6" font-size="7.8" text-anchor="middle" fill="#231f20">0.71</text>
<text x="466.2" y="600.6" font-size="7.8" text-anchor="middle" fill="#231f20">0.57</text>
<text x="433.2" y="610.2" font-size="7.8" text-anchor="middle" fill="#231f20">(0.66)</text>
<text x="466.2" y="610.2" font-size="7.8" text-anchor="middle" fill="#231f20">(0.46)</text>
<text x="397" y="650.8" font-size="7.8" text-anchor="middle" fill="#231f20">1</text>
<text x="433.2" y="650.8" font-size="7.8" text-anchor="middle" fill="#231f20">1.08</text>
<text x="466.2" y="650.8" font-size="7.8" text-anchor="middle" fill="#231f20">1.23</text>
<text x="397" y="661" font-size="7.8" text-anchor="middle" fill="#231f20">0</text>
<text x="433.2" y="661" font-size="7.8" text-anchor="middle" fill="#231f20">15</text>
<text x="466.2" y="661" font-size="7.8" text-anchor="middle" fill="#231f20">30</text>
<text x="329" y="661.8" font-size="7.8" textLength="14" lengthAdjust="spacingAndGlyphs" fill="#231f20">min</text>
<text x="484.6" y="661" font-size="7.8" textLength="14" lengthAdjust="spacingAndGlyphs" fill="#231f20">min</text>
<rect x="0" y="0" width="520" height="1" fill="#4a4a4a"/>
<rect x="0" y="1" width="520" height="1" fill="#b4b4b4"/>
<rect x="1" y="0" width="1" height="671" fill="#a0a0a0"/>
<rect x="0" y="0" width="1" height="671" fill="#000"/>
<rect x="518" y="0" width="1" height="671" fill="#a0a0a0"/>
<rect x="519" y="0" width="1" height="671" fill="#000"/>
<rect x="0" y="669" width="520" height="1" fill="#a8a8a8"/>
<rect x="0" y="670" width="520" height="1" fill="#000"/>
</svg></body></html>
